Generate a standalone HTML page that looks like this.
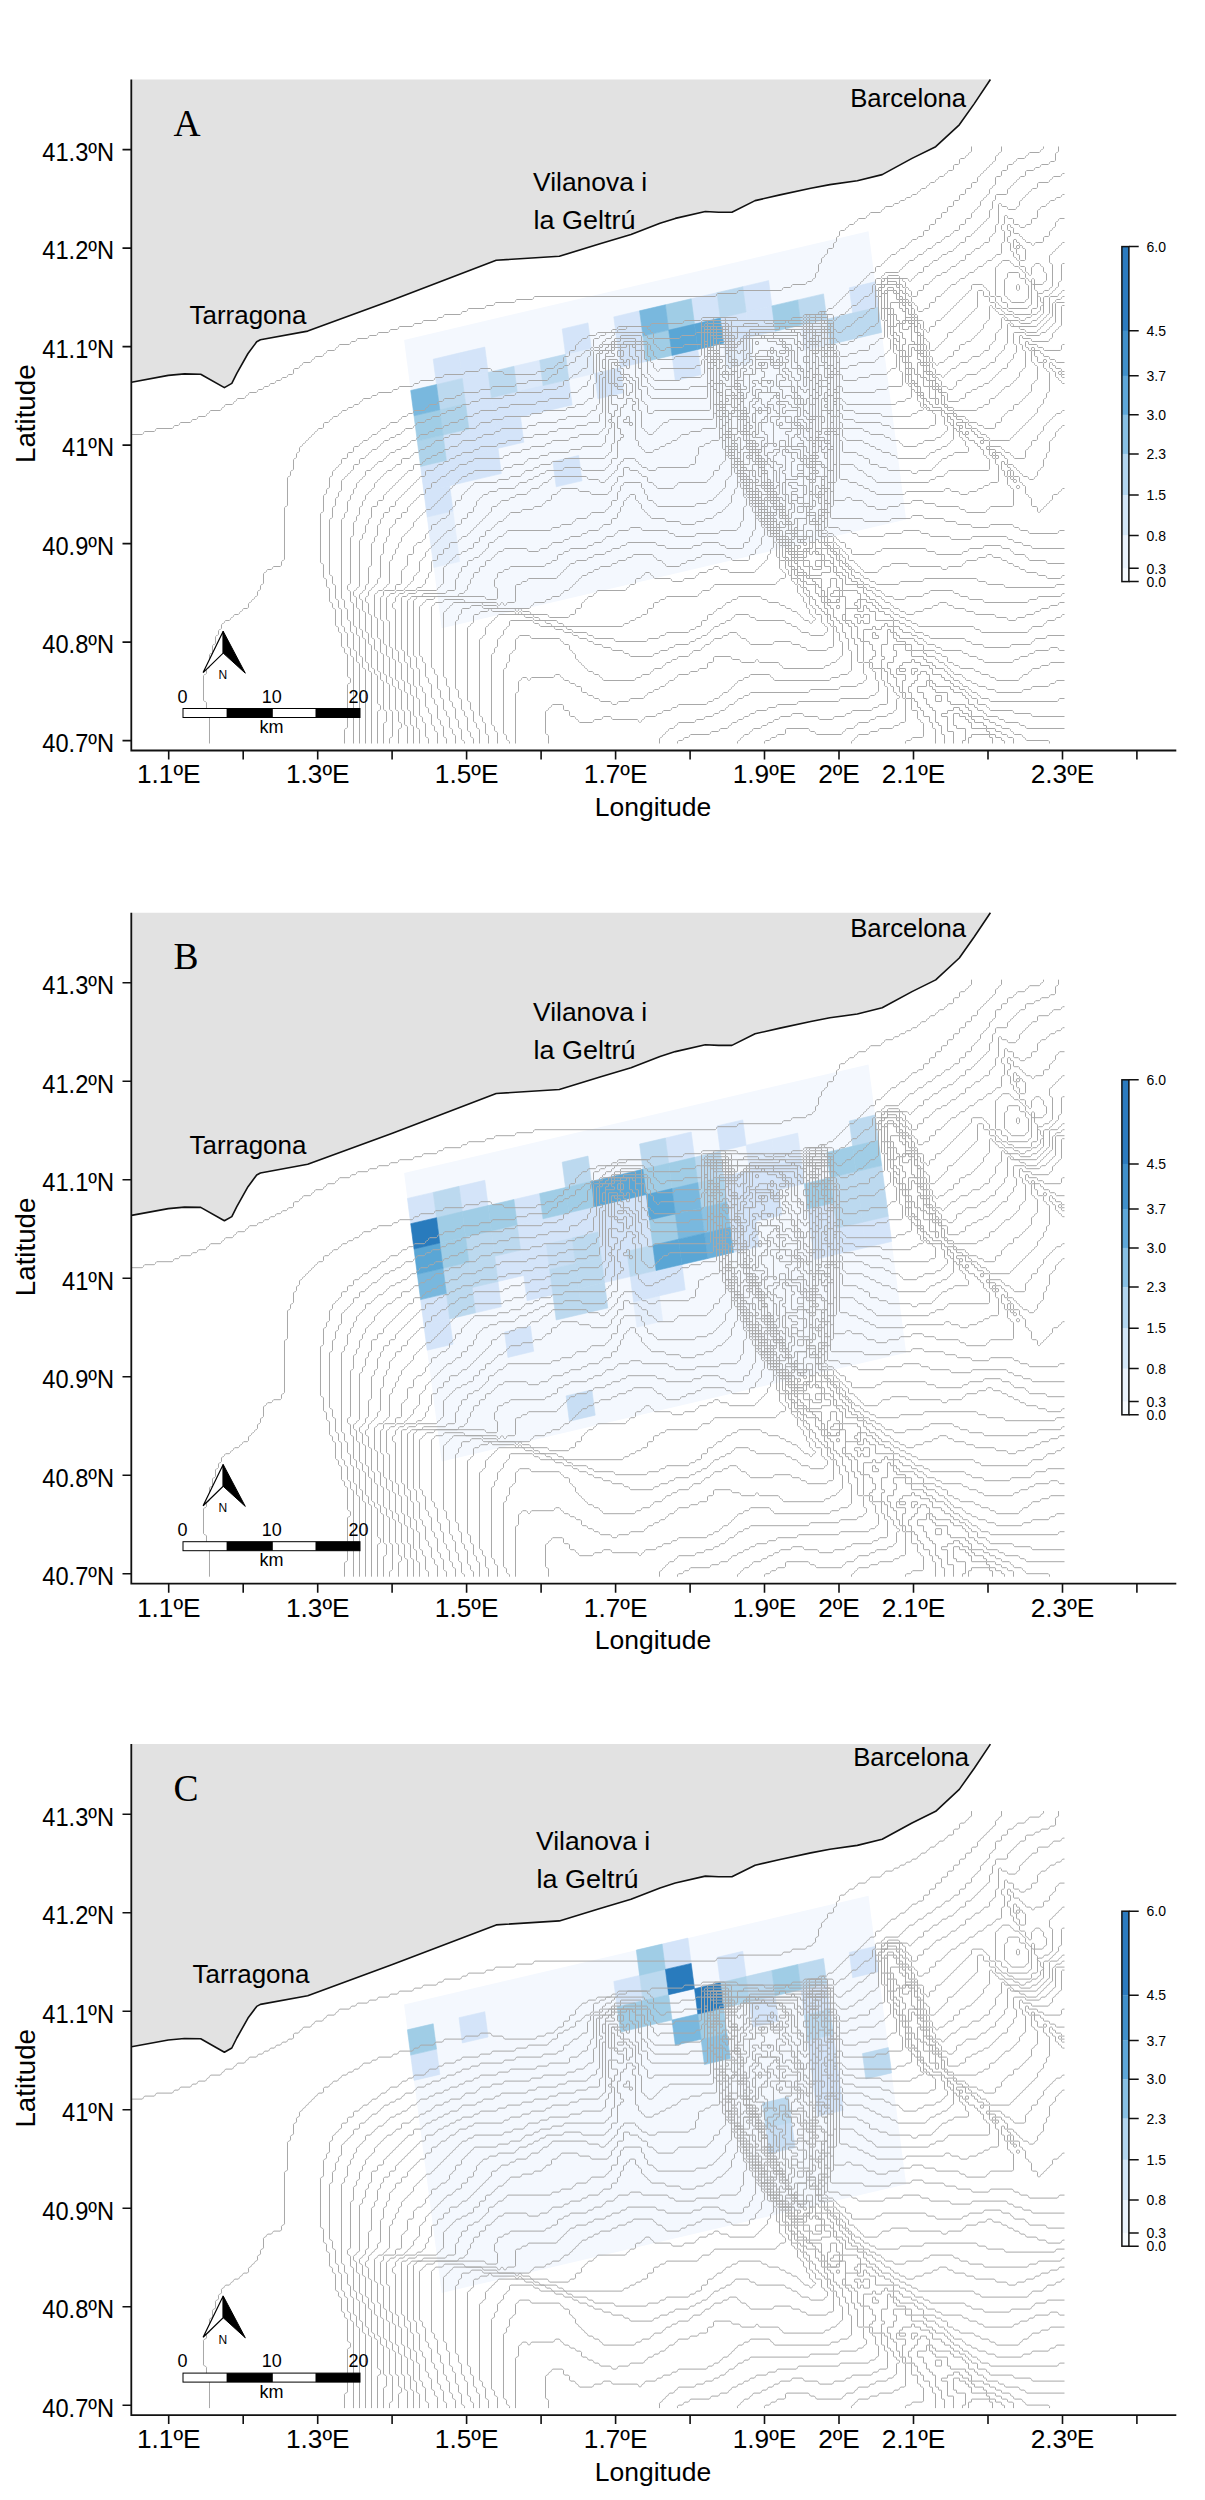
<!DOCTYPE html><html><head><meta charset="utf-8"><title>Map</title><style>
html,body{margin:0;padding:0;background:#fff;}
body{width:1205px;height:2500px;overflow:hidden;}
svg{display:block;}
.tl{font-family:"Liberation Sans", sans-serif;font-size:25px;fill:#000;}
.at{font-family:"Liberation Sans", sans-serif;font-size:26.5px;fill:#000;}
.at2{font-family:"Liberation Sans", sans-serif;font-size:27.7px;fill:#000;}
.pl{font-family:"Liberation Serif", serif;font-size:37.5px;fill:#000;}
.pn{font-family:"Liberation Sans", sans-serif;font-size:25px;fill:#000;}
.lg{font-family:"Liberation Sans", sans-serif;font-size:14px;fill:#000;}
.sb{font-family:"Liberation Sans", sans-serif;font-size:18px;fill:#000;}
.sn{font-family:"Liberation Sans", sans-serif;font-size:12px;fill:#000;}
</style></head><body>
<svg xmlns="http://www.w3.org/2000/svg" width="1205" height="2500" viewBox="0 0 1205 2500">
<rect width="1205" height="2500" fill="#fff"/>
<defs><g id="cont" fill="none" stroke="#a8a8a8" stroke-width="1"><path d="M971.5 146.5l0 4.8 -1.2 1.2 -.6 0 -1.2 1.2 0 .6 -1.2 1.2 -.6 0 -1.2 1.2 0 .6 -1.2 1.2 -3.6 0 -1.2 1.2 0 3.6 -1.2 1.2 -3.6 0 -1.2 1.2 0 3.6 -1.2 1.2 -3.6 0 -1.2 1.2 0 .6 -1.2 1.2 -.6 0 -1.2 1.2 0 .6 -1.2 1.2 -3.6 0 -1.2 1.2 0 .6 -1.2 1.2 -.6 0 -1.2 1.2 0 .6 -1.2 1.2 -3.6 0 -1.2 1.2 0 .6 -1.2 1.2 -.6 0 -1.2 1.2 0 .6 -1.2 1.2 -3.6 0 -1.2 1.2 0 .6 -1.2 1.2 -.6 0 -1.2 1.2 0 .6 -1.2 1.2 -3.6 0 -1.2 1.2 0 .6 -1.2 1.2 -3.6 0 -1.2 1.2 0 .6 -1.2 1.2 -3.6 0 -1.2 1.2 0 .6 -1.2 1.2 -3.6 0 -1.2 1.2 0 .6 -1.2 1.2 -6.6 0 -1.2 1.2 0 .6 -1.2 1.2 -.6 0 -1.2 1.2 0 .6 -1.2 1.2 -9.6 0 -1.2 1.2 0 .6 -1.2 1.2 -.6 0 -1.2 1.2 0 .6 -1.2 1.2 -6.6 0 -1.2 1.2 0 .6 -1.2 1.2 -.6 0 -1.2 1.2 0 .6 -1.2 1.2 -3.6 0 -1.2 1.2 0 .6 -1.2 1.2 -.6 0 -1.2 1.2 0 .6 -1.2 1.2 -3.6 0 -1.2 1.2 0 3.6 -1.2 1.2 -.6 0 -1.2 1.2 0 3.6 -1.2 1.2 -.6 0 -1.2 1.2 0 3.6 -1.2 1.2 -3.6 0 -1.2 1.2 0 3.6 -1.2 1.2 -.6 0 -1.2 1.2 0 .6 -1.2 1.2 -.6 0 -1.2 1.2 0 3.6 -1.2 1.2 -.6 0 -1.2 1.2 0 6.6 -1.2 1.2 -.6 0 -1.2 1.2 0 3.6 -1.2 1.2 -.6 0 -1.2 1.2 0 .6 -1.2 1.2 -3.6 0 -1.2 1.2 0 .6 -1.2 1.2 -12.6 0 -1.2 1.2 0 .6 -1.2 1.2 -6.6 0 -1.2 1.2 0 .6 -1.2 1.2 -42.6 0 -1.2 1.2 0 .6 -1.2 1.2 -18.6 0 -1.2 1.2 0 .6 -1.2 1.2 -180.6 0 -1.2 1.2 0 .6 -1.2 1.2 -15.6 0 -1.2 1.2 0 .6 -1.2 1.2 -18.6 0 -1.2 1.2 0 .6 -1.2 1.2 -6.6 0 -1.2 1.2 0 .6 -1.2 1.2 -15.6 0 -1.2 1.2 0 .6 -1.2 1.2 -3.6 0 -1.2 1.2 0 .6 -1.2 1.2 -15.6 0 -1.2 1.2 0 .6 -1.2 1.2 -3.6 0 -1.2 1.2 0 .6 -1.2 1.2 -12.6 0 -1.2 1.2 0 .6 -1.2 1.2 -6.6 0 -1.2 1.2 0 .6 -1.2 1.2 -12.6 0 -1.2 1.2 0 .6 -1.2 1.2 -6.6 0 -1.2 1.2 0 .6 -1.2 1.2 -9.6 0 -1.2 1.2 0 .6 -1.2 1.2 -6.6 0 -1.2 1.2 0 .6 -1.2 1.2 -9.6 0 -1.2 1.2 0 .6 -1.2 1.2 -3.6 0 -1.2 1.2 0 .6 -1.2 1.2 -9.6 0 -1.2 1.2 0 .6 -1.2 1.2 -.6 0 -1.2 1.2 0 .6 -1.2 1.2 -6.6 0 -1.2 1.2 0 .6 -1.2 1.2 -.6 0 -1.2 1.2 0 .6 -1.2 1.2 -6.6 0 -1.2 1.2 0 .6 -1.2 1.2 -.6 0 -1.2 1.2 0 .6 -1.2 1.2 -6.6 0 -1.2 1.2 0 .6 -1.2 1.2 -.6 0 -1.2 1.2 0 .6 -1.2 1.2 -3.6 0 -1.2 1.2 0 3.6 -1.2 1.2 -3.6 0 -1.2 1.2 0 .6 -1.2 1.2 -3.6 0 -1.2 1.2 0 .6 -1.2 1.2 -3.6 0 -1.2 1.2 0 .6 -1.2 1.2 -3.6 0 -1.2 1.2 0 .6 -1.2 1.2 -3.6 0 -1.2 1.2 0 .6 -1.2 1.2 -3.6 0 -1.2 1.2 0 .6 -1.2 1.2 -6.6 0 -1.2 1.2 0 .6 -1.2 1.2 -.6 0 -1.2 1.2 0 .6 -1.2 1.2 -6.6 0 -1.2 1.2 0 .6 -1.2 1.2 -.6 0 -1.2 1.2 0 .6 -1.2 1.2 -6.6 0 -1.2 1.2 0 .6 -1.2 1.2 -.6 0 -1.2 1.2 0 .6 -1.2 1.2 -9.6 0 -1.2 1.2 0 .6 -1.2 1.2 -.6 0 -1.2 1.2 0 .6 -1.2 1.2 -6.6 0 -1.2 1.2 0 .6 -1.2 1.2 -3.6 0 -1.2 1.2 0 .6 -1.2 1.2 -9.6 0 -1.2 1.2 0 .6 -1.2 1.2 -3.6 0 -1.2 1.2 0 .6 -1.2 1.2 -15.6 0 -1.2 1.2 0 .6 -1.2 1.2 -9.6 0 -1.2 1.2 0 .6 -1.2 1.2 -10.8 0M1001.5 146.5l0 4.8 -1.2 1.2 -.6 0 -1.2 1.2 0 .6 -1.2 1.2 -.6 0 -1.2 1.2 0 3.6 -1.2 1.2 -.6 0 -1.2 1.2 0 .6 -1.2 1.2 -.6 0 -1.2 1.2 0 .6 -1.2 1.2 -.6 0 -1.2 1.2 0 .6 -1.2 1.2 -.6 0 -1.2 1.2 0 .6 -1.2 1.2 -.6 0 -1.2 1.2 0 .6 -1.2 1.2 -.6 0 -1.2 1.2 0 3.6 -1.2 1.2 -3.6 0 -1.2 1.2 0 3.6 -1.2 1.2 -3.6 0 -1.2 1.2 0 3.6 -1.2 1.2 -3.6 0 -1.2 1.2 0 3.6 -1.2 1.2 -3.6 0 -1.2 1.2 0 3.6 -1.2 1.2 -3.6 0 -1.2 1.2 0 3.6 -1.2 1.2 -3.6 0 -1.2 1.2 0 3.6 -1.2 1.2 -3.6 0 -1.2 1.2 0 3.6 -1.2 1.2 -3.6 0 -1.2 1.2 0 3.6 -1.2 1.2 -3.6 0 -1.2 1.2 0 3.6 -1.2 1.2 -3.6 0 -1.2 1.2 0 .6 -1.2 1.2 -3.6 0 -1.2 1.2 0 .6 -1.2 1.2 -.6 0 -1.2 1.2 0 .6 -1.2 1.2 -.6 0 -1.2 1.2 0 .6 -1.2 1.2 -3.6 0 -1.2 1.2 0 .6 -1.2 1.2 -.6 0 -1.2 1.2 0 .6 -1.2 1.2 -3.6 0 -1.2 1.2 0 .6 -1.2 1.2 -.6 0 -1.2 1.2 0 .6 -1.2 1.2 -.6 0 -1.2 1.2 0 .6 -1.2 1.2 -.6 0 -1.2 1.2 0 .6 -1.2 1.2 -3.6 0 -1.2 1.2 0 3.6 -1.2 1.2 -3.6 0 -1.2 1.2 0 .6 -1.2 1.2 -.6 0 -1.2 1.2 0 .6 -1.2 1.2 -.6 0 -1.2 1.2 0 .6 -1.2 1.2 -.6 0 -1.2 1.2 0 .6 -1.2 1.2 -.6 0 -1.2 1.2 0 .6 -1.2 1.2 -.6 0 -1.2 1.2 0 .6 -1.2 1.2 -3.6 0 -1.2 1.2 0 .6 -1.2 1.2 -.6 0 -1.2 1.2 0 .6 -1.2 1.2 -.6 0 -1.2 1.2 0 .6 -1.2 1.2 -.6 0 -1.2 1.2 0 .6 -1.2 1.2 -.6 0 -1.2 1.2 0 .6 -1.2 1.2 -.6 0 -1.2 1.2 0 .6 -1.2 1.2 -3.6 0 -1.2 1.2 0 .7 -1.1 1.1 -6.7 0 -1.2 1.2 0 1 -.8 .8 -13 0 -1.2 1.2 0 .7 -1.1 1.1 -9.7 0 -1.2 1.2 0 .9 -.9 .9 -52.1 0 -1 -1 0 -.8 -1.2 -1.2 -33.6 0 -1.2 1.2 0 .7 -1.1 1.1 -15.7 0 -1.2 1.2 0 .6 -1.2 1.2 -30.6 0 -1.2 1.2 0 .7 -1.1 1.1 -30.7 0 -1.2 1.2 0 .7 -1.1 1.1 -3.7 0 -1.2 1.2 0 .8 -1 1 -12.8 0 -1.2 1.2 0 .7 -1.1 1.1 -6.7 0 -1.2 1.2 0 .6 -1.2 1.2 -3.6 0 -1.2 1.2 0 .6 -1.2 1.2 -.6 0 -1.2 1.2 0 .6 -1.2 1.2 -.6 0 -1.2 1.2 0 3.6 -1.2 1.2 -3.6 0 -1.2 1.2 0 3.6 -1.2 1.2 -3.6 0 -1.2 1.2 0 3.6 -1.2 1.2 -3.6 0 -1.2 1.2 0 .6 -1.2 1.2 -.6 0 -1.2 1.2 0 .6 -1.2 1.2 -6.6 0 -1.2 1.2 0 .6 -1.2 1.2 -6.6 0 -1.2 1.2 0 .6 -1.2 1.2 -30.6 0 -1.2 -1.2 0 -.6 -1.2 -1.2 -9.6 0 -1.2 -1.2 0 -.6 -1.2 -1.2 -9.6 0 -1.2 1.2 0 .6 -1.2 1.2 -12.6 0 -1.2 1.2 0 .6 -1.2 1.2 -18.6 0 -1.2 1.2 0 .6 -1.2 1.2 -6.6 0 -1.2 1.2 0 .6 -1.2 1.2 -12.6 0 -1.2 1.2 0 .6 -1.2 1.2 -3.6 0 -1.2 1.2 0 .6 -1.2 1.2 -12.6 0 -1.2 1.2 0 .6 -1.2 1.2 -3.6 0 -1.2 1.2 0 .6 -1.2 1.2 -12.6 0 -1.2 1.2 0 .6 -1.2 1.2 -3.6 0 -1.2 1.2 0 .6 -1.2 1.2 -6.6 0 -1.2 1.2 0 .6 -1.2 1.2 -.6 0 -1.2 1.2 0 .6 -1.2 1.2 -3.6 0 -1.2 1.2 0 .6 -1.2 1.2 -3.6 0 -1.2 1.2 0 .6 -1.2 1.2 -3.6 0 -1.2 1.2 0 .6 -1.2 1.2 -.6 0 -1.2 1.2 0 .6 -1.2 1.2 -3.6 0 -1.2 1.2 0 .6 -1.2 1.2 -.6 0 -1.2 1.2 0 .6 -1.2 1.2 -3.6 0 -1.2 1.2 0 3.6 -1.2 1.2 -3.6 0 -1.2 1.2 0 .6 -1.2 1.2 -.6 0 -1.2 1.2 0 .6 -1.2 1.2 -.6 0 -1.2 1.2 0 .6 -1.2 1.2 -.6 0 -1.2 1.2 0 .6 -1.2 1.2 -.6 0 -1.2 1.2 0 .6 -1.2 1.2 -.6 0 -1.2 1.2 0 .6 -1.2 1.2 -.6 0 -1.2 1.2 0 3.6 -1.2 1.2 -.6 0 -1.2 1.2 0 3.6 -1.2 1.2 -.6 0 -1.2 1.2 0 9.6 -1.2 1.2 -.6 0 -1.2 1.2 0 3.6 -1.2 1.2 -.6 0 -1.2 1.2 0 27.6 -1.2 1.2 -.6 0 -1.2 1.2 0 51.6 -1.2 1.2 -.6 0 -1.2 1.2 0 3.6 -1.2 1.2 -6.6 0 -1.2 1.2 0 .6 -1.2 1.2 -3.6 0 -1.2 1.2 0 .6 -1.2 1.2 -.6 0 -1.2 1.2 0 9.6 -1.2 1.2 -.6 0 -1.2 1.2 0 3.6 -1.2 1.2 -.6 0 -1.2 1.2 0 3.6 -1.2 1.2 -.6 0 -1.2 1.2 0 .6 -1.2 1.2 -.6 0 -1.2 1.2 0 .6 -1.2 1.2 -.6 0 -1.2 1.2 0 3.6 -1.2 1.2 -3.6 0 -1.2 1.2 0 .6 -1.2 1.2 -.6 0 -1.2 1.2 0 .6 -1.2 1.2 -3.6 0 -1.2 1.2 0 .6 -1.2 1.2 -.6 0 -1.2 1.2 0 .6 -1.2 1.2 -3.6 0 -1.2 1.2 0 .6 -1.2 1.2 -.6 0 -1.2 1.2 0 3.6 -1.2 1.2 -.6 0 -1.2 1.2 0 3.6 -1.2 1.2 -.6 0 -1.2 1.2 0 6.6 -1.2 1.2 -.6 0 -1.2 1.2 0 6.6 -1.2 1.2 -.6 0 -1.2 1.2 0 12.6 -1.2 1.2 -.6 0 -1.2 1.2 0 3.6 -1.2 1.2 -.6 0 -1.2 1.2 0 24.6 1.2 1.2 .6 0 1.2 1.2 0 12.6 1.2 1.2 .6 0 1.2 1.2 0 25.8M1043.5 146.5l0 1.8 -1.2 1.2 -.6 0 -1.2 1.2 0 .6 -1.2 1.2 -9.6 0 -1.2 1.2 0 .6 -1.2 1.2 -.6 0 -1.2 1.2 0 .6 -1.2 1.2 -6.6 0 -1.2 1.2 0 .6 -1.2 1.2 -.6 0 -1.2 1.2 0 .6 -1.2 1.2 -3.6 0 -1.2 1.2 0 3.6 -1.2 1.2 -3.6 0 -1.2 1.2 0 3.6 -1.2 1.2 -3.6 0 -1.2 1.2 0 6.6 -1.2 1.2 -.6 0 -1.2 1.2 0 .6 -1.2 1.2 -.6 0 -1.2 1.2 0 3.6 -1.2 1.2 -.6 0 -1.2 1.2 0 .6 -1.2 1.2 -.6 0 -1.2 1.2 0 .6 -1.2 1.2 -.6 0 -1.2 1.2 0 3.6 -1.2 1.2 -.6 0 -1.2 1.2 0 .6 -1.2 1.2 -.6 0 -1.2 1.2 0 .6 -1.2 1.2 -.6 0 -1.2 1.2 0 3.6 -1.2 1.2 -3.6 0 -1.2 1.2 0 3.6 -1.2 1.2 -3.6 0 -1.2 1.2 0 3.6 -1.2 1.2 -3.6 0 -1.2 1.2 0 .6 -1.2 1.2 -.6 0 -1.2 1.2 0 .6 -1.2 1.2 -3.6 0 -1.2 1.2 0 .6 -1.2 1.2 -.6 0 -1.2 1.2 0 .6 -1.2 1.2 -3.6 0 -1.2 1.2 0 .6 -1.2 1.2 -.6 0 -1.2 1.2 0 .6 -1.2 1.2 -3.6 0 -1.2 1.2 0 .6 -1.2 1.2 -.6 0 -1.2 1.2 0 .6 -1.2 1.2 -3.6 0 -1.2 1.2 0 .6 -1.2 1.2 -.6 0 -1.2 1.2 0 .6 -1.2 1.2 -3.6 0 -1.2 1.2 0 .6 -1.2 1.2 -.6 0 -1.2 1.2 0 .6 -1.2 1.2 -.6 0 -1.2 1.2 0 .6 -1.2 1.2 -.6 0 -1.2 1.2 0 .6 -1.2 1.2 -12.7 0 -1.1 1.1 0 .9 -1 1 -.9 0 -1.1 1.1 0 1 -.9 .9 -3.9 0 -1.2 1.2 0 3.8 -1 1 -.9 0 -1.1 1.1 0 6.8 -1.1 1.1 -.7 0 -1.2 1.2 0 .6 -1.2 1.2 -3.6 0 -1.2 1.2 0 .6 -1.2 1.2 -.6 0 -1.2 1.2 0 .6 -1.2 1.2 -.6 0 -1.2 1.2 0 .6 -1.2 1.2 -3.6 0 -1.2 1.2 0 .6 -1.2 1.2 -.6 0 -1.2 1.2 0 .6 -1.2 1.2 -.6 0 -1.2 1.2 0 .6 -1.2 1.2 -3.6 0 -1.2 1.2 0 .6 -1.2 1.2 -.6 0 -1.2 1.2 0 .6 -1.2 1.2 -.7 0 -1.1 -1.1 0 -3.7 -1.2 -1.2 -7 0 -.8 -.8 0 -1.1 -1.1 -1.1 -.7 0 -1.2 1.2 0 1 -.8 .8 -13 0 -1.2 1.2 0 .9 -.9 .9 -1 0 -1.1 1.1 0 1 -.9 .9 -27.9 0 -1.2 1.2 0 .9 -.9 .9 -7.2 0 -.9 -.9 0 -.9 -1.2 -1.2 -37.1 0 -.7 -.7 0 -1.1 -1.2 -1.2 -9.6 0 -1.2 1.2 0 1.2 -.6 .6 -10.3 0 -1.1 1.1 0 10 -.9 .9 -3.9 0 -1.2 1.2 0 .6 -1.2 1.2 -12.6 0 -1.2 1.2 0 .6 -1.2 1.2 -24.8 0 -1 -1 0 -3.9 -1.1 -1.1 -.9 0 -1 -1 0 -.9 -1.1 -1.1 -.9 0 -1 -1 0 -.9 -1.1 -1.1 -18.7 0 -1.2 1.2 0 .9 -.9 .9 -7 0 -1.1 1.1 0 1 -.9 .9 -10 0 -1.1 1.1 0 1 -.9 .9 -4 0 -1.1 1.1 0 .9 -1 1 -3.9 0 -1.1 1.1 0 7 -.9 .9 -1 0 -1.1 1.1 0 .9 -1 1 -3.8 0 -1.2 1.2 0 .6 -1.2 1.2 -.6 0 -1.2 1.2 0 .6 -1.2 1.2 -3.6 0 -1.2 1.2 0 3.6 -1.2 1.2 -3.6 0 -1.2 1.2 0 .6 -1.2 1.2 -3.6 0 -1.2 1.2 0 .6 -1.2 1.2 -3.6 0 -1.2 1.2 0 3.6 -1.2 1.2 -3.6 0 -1.2 1.2 0 .6 -1.2 1.2 -.6 0 -1.2 1.2 0 .6 -1.2 1.2 -18.6 0 -1.2 1.2 0 .6 -1.2 1.2 -9.6 0 -1.2 1.2 0 .6 -1.2 1.2 -21.6 0 -1.2 1.2 0 .6 -1.2 1.2 -9.6 0 -1.2 1.2 0 .6 -1.2 1.2 -15.6 0 -1.2 1.2 0 .6 -1.2 1.2 -3.6 0 -1.2 1.2 0 .6 -1.2 1.2 -9.6 0 -1.2 1.2 0 .6 -1.2 1.2 -3.6 0 -1.2 1.2 0 .6 -1.2 1.2 -6.6 0 -1.2 1.2 0 .6 -1.2 1.2 -.6 0 -1.2 1.2 0 .6 -1.2 1.2 -9.6 0 -1.2 1.2 0 .6 -1.2 1.2 -3.6 0 -1.2 1.2 0 .6 -1.2 1.2 -3.6 0 -1.2 1.2 0 .6 -1.2 1.2 -.6 0 -1.2 1.2 0 .6 -1.2 1.2 -6.6 0 -1.2 1.2 0 .6 -1.2 1.2 -.6 0 -1.2 1.2 0 .6 -1.2 1.2 -3.6 0 -1.2 1.2 0 .6 -1.2 1.2 -.6 0 -1.2 1.2 0 .6 -1.2 1.2 -3.6 0 -1.2 1.2 0 .6 -1.2 1.2 -.6 0 -1.2 1.2 0 .6 -1.2 1.2 -3.6 0 -1.2 1.2 0 .6 -1.2 1.2 -.6 0 -1.2 1.2 0 .6 -1.2 1.2 -3.6 0 -1.2 1.2 0 3.6 -1.2 1.2 -3.6 0 -1.2 1.2 0 3.6 -1.2 1.2 -3.6 0 -1.2 1.2 0 3.6 -1.2 1.2 -.6 0 -1.2 1.2 0 .6 -1.2 1.2 -.6 0 -1.2 1.2 0 .6 -1.2 1.2 -.6 0 -1.2 1.2 0 3.6 -1.2 1.2 -.6 0 -1.2 1.2 0 9.6 -1.2 1.2 -.6 0 -1.2 1.2 0 3.6 -1.2 1.2 -.6 0 -1.2 1.2 0 15.6 -1.2 1.2 -.6 0 -1.2 1.2 0 48.6 1.2 1.2 .6 0 1.2 1.2 0 12.6 1.2 1.2 .6 0 1.2 1.2 0 6.6 1.2 1.2 .6 0 1.2 1.2 0 12.6 1.2 1.2 .6 0 1.2 1.2 0 3.6 1.2 1.2 .6 0 1.2 1.2 0 15.6 1.2 1.2 .6 0 1.2 1.2 0 3.6 1.2 1.2 .6 0 1.2 1.2 0 12.6 1.2 1.2 .6 0 1.2 1.2 0 3.6 1.2 1.2 .6 0 1.2 1.2 0 21.6 1.2 1.2 .6 0 1.2 1.2 0 3.6 -1.2 1.2 -.6 0 -1.2 1.2 0 42.6 -1.2 1.2 -.6 0 -1.2 1.2 0 13.8M1058.5 146.5l0 4.8 -1.2 1.2 -.6 0 -1.2 1.2 0 6.6 -1.2 1.2 -3.6 0 -1.2 1.2 0 .6 -1.2 1.2 -6.6 0 -1.2 1.2 0 .6 -1.2 1.2 -3.6 0 -1.2 1.2 0 .6 -1.2 1.2 -6.6 0 -1.2 1.2 0 3.6 -1.2 1.2 -3.6 0 -1.2 1.2 0 .6 -1.2 1.2 -.6 0 -1.2 1.2 0 .6 -1.2 1.2 -.6 0 -1.2 1.2 0 .6 -1.2 1.2 -.6 0 -1.2 1.2 0 .6 -1.2 1.2 -.6 0 -1.2 1.2 0 3.6 -1.2 1.2 -9.7 0 -1.1 1.1 0 3.9 -1 1 -.9 0 -1.1 1.1 0 6.8 -1.1 1.1 -.7 0 -1.2 1.2 0 6.6 -1.2 1.2 -.6 0 -1.2 1.2 0 .6 -1.2 1.2 -.6 0 -1.2 1.2 0 .6 -1.2 1.2 -.6 0 -1.2 1.2 0 .6 -1.2 1.2 -.6 0 -1.2 1.2 0 .6 -1.2 1.2 -.6 0 -1.2 1.2 0 .6 -1.2 1.2 -.6 0 -1.2 1.2 0 .6 -1.2 1.2 -3.6 0 -1.2 1.2 0 3.6 -1.2 1.2 -3.6 0 -1.2 1.2 0 .6 -1.2 1.2 -.6 0 -1.2 1.2 0 .6 -1.2 1.2 -.6 0 -1.2 1.2 0 .6 -1.2 1.2 -3.6 0 -1.2 1.2 0 .6 -1.2 1.2 -3.6 0 -1.2 1.2 0 .6 -1.2 1.2 -.6 0 -1.2 1.2 0 .6 -1.2 1.2 -3.6 0 -1.2 1.2 0 .6 -1.2 1.2 -.6 0 -1.2 1.2 0 .6 -1.2 1.2 -3.6 0 -1.2 1.2 0 3.6 -1.2 1.2 -3.6 0 -1.2 1.2 0 .6 -1.2 1.2 -.6 0 -1.2 1.2 0 .6 -1.2 1.2 -.6 0 -1.2 1.2 0 .6 -1.2 1.2 -.6 0 -1.2 -1.2 0 -.6 -1.2 -1.2 -7.1 0 -.7 -.7 0 -1.3 -1 -1 -10.1 0 -.9 .9 0 1.5 -.6 .6 -4.5 0 -.9 .9 0 4.7 -.4 .4 -4.6 0 -1 1 0 21.8 -1.2 1.2 -3.6 0 -1.2 1.2 0 .6 -1.2 1.2 -.6 0 -1.2 1.2 0 .6 -1.2 1.2 -.6 0 -1.2 1.2 0 .6 -1.2 1.2 -3.6 0 -1.2 1.2 0 .6 -1.2 1.2 -.6 0 -1.2 1.2 0 .6 -1.2 1.2 -.6 0 -1.2 1.2 0 .6 -1.2 1.2 -3.6 0 -1.2 1.2 0 .6 -1.2 1.2 -.6 0 -1.2 1.2 0 .6 -1.2 1.2 -3.7 0 -1.1 -1.1 0 -.7 -1.2 -1.2 -1 0 -.8 -.8 0 -7.1 -1.1 -1.1 -4.6 0 -.3 -.3 0 -4.8 -.9 -.9 -15.9 0 -1.2 1.2 0 1.1 -.7 .7 -1.4 0 -.9 .9 0 1.5 -.6 .6 -1.5 0 -.9 .9 0 1.4 -.7 .7 -13.6 0 -.7 -.7 0 -1.3 -1 -1 -1 0 -1 1 0 1.3 -.7 .7 -10.4 0 -.9 .9 0 1.6 -.5 .5 -14.1 0 -.4 -.4 0 -1.8 -.8 -.8 -13.5 0 -.7 .7 0 1.8 -.5 .5 -11 0 -.5 -.5 0 -4.5 -1 -1 -22.1 0 -.9 .9 0 1.6 -.5 .5 -1.7 0 -.8 .8 0 1.6 -.6 .6 -1.5 0 -.9 .9 0 16.1 -1 1 -15.8 0 -1.2 1.2 0 .6 -1.2 1.2 -15.6 0 -1.2 1.2 0 .6 -1.2 1.2 -3.6 0 -1.2 -1.2 0 -.6 -1.2 -1.2 -.7 0 -1.1 -1.1 0 -.8 -1.1 -1.1 -1 0 -.9 -.9 0 -4.1 -1 -1 -4.3 0 -.7 -.7 0 -1.5 -.8 -.8 -1.5 0 -.7 -.7 0 -1.5 -.8 -.8 -28.3 0 -.9 .9 0 1.4 -.7 .7 -1.5 0 -.8 .8 0 1.7 -.5 .5 -4.7 0 -.8 .8 0 1.6 -.6 .6 -1.7 0 -.7 .7 0 1.7 -.6 .6 -1.7 0 -.7 .7 0 1.7 -.6 .6 -4.5 0 -.9 .9 0 1.2 -.9 .9 -1.1 0 -1 1 0 4 -1 1 -.9 0 -1.1 1.1 0 9.7 -1.2 1.2 -3.6 0 -1.2 1.2 0 .6 -1.2 1.2 -.6 0 -1.2 1.2 0 .6 -1.2 1.2 -3.6 0 -1.2 1.2 0 .6 -1.2 1.2 -.6 0 -1.2 1.2 0 .6 -1.2 1.2 -3.6 0 -1.2 1.2 0 3.6 -1.2 1.2 -3.6 0 -1.2 1.2 0 .6 -1.2 1.2 -12.6 0 -1.2 1.2 0 .6 -1.2 1.2 -24.6 0 -1.2 1.2 0 .6 -1.2 1.2 -9.6 0 -1.2 1.2 0 .6 -1.2 1.2 -21.6 0 -1.2 1.2 0 .6 -1.2 1.2 -6.6 0 -1.2 1.2 0 .6 -1.2 1.2 -6.6 0 -1.2 1.2 0 .6 -1.2 1.2 -3.6 0 -1.2 1.2 0 .6 -1.2 1.2 -6.6 0 -1.2 1.2 0 .6 -1.2 1.2 -3.6 0 -1.2 1.2 0 .6 -1.2 1.2 -6.6 0 -1.2 1.2 0 .6 -1.2 1.2 -3.6 0 -1.2 1.2 0 .6 -1.2 1.2 -6.6 0 -1.2 1.2 0 .6 -1.2 1.2 -.6 0 -1.2 1.2 0 .6 -1.2 1.2 -6.6 0 -1.2 1.2 0 .6 -1.2 1.2 -.6 0 -1.2 1.2 0 .6 -1.2 1.2 -3.6 0 -1.2 1.2 0 .6 -1.2 1.2 -3.6 0 -1.2 1.2 0 .6 -1.2 1.2 -3.6 0 -1.2 1.2 0 .6 -1.2 1.2 -.6 0 -1.2 1.2 0 .6 -1.2 1.2 -.6 0 -1.2 1.2 0 .6 -1.2 1.2 -3.6 0 -1.2 1.2 0 .6 -1.2 1.2 -.6 0 -1.2 1.2 0 .6 -1.2 1.2 -.6 0 -1.2 1.2 0 .6 -1.2 1.2 -3.6 0 -1.2 1.2 0 3.6 -1.2 1.2 -3.6 0 -1.2 1.2 0 3.6 -1.2 1.2 -.6 0 -1.2 1.2 0 .6 -1.2 1.2 -.6 0 -1.2 1.2 0 .6 -1.2 1.2 -.6 0 -1.2 1.2 0 .6 -1.2 1.2 -.6 0 -1.2 1.2 0 9.6 -1.2 1.2 -.6 0 -1.2 1.2 0 3.6 -1.2 1.2 -.6 0 -1.2 1.2 0 6.6 -1.2 1.2 -.6 0 -1.2 1.2 0 9.6 -1.2 1.2 -.6 0 -1.2 1.2 0 54.6 1.2 1.2 .6 0 1.2 1.2 0 6.6 1.2 1.2 .6 0 1.2 1.2 0 12.6 1.2 1.2 .6 0 1.2 1.2 0 6.6 1.2 1.2 .6 0 1.2 1.2 0 15.6 1.2 1.2 .6 0 1.2 1.2 0 3.6 1.2 1.2 .6 0 1.2 1.2 0 12.6 1.2 1.2 .6 0 1.2 1.2 0 6.6 1.2 1.2 .6 0 1.2 1.2 0 85.8M1017.7 284.5l-1.2 1.2 0 3.6 1.2 1.2 .6 0 1.2 -1.2 0 -3.6 -1.2 -1.2zM359.5 743.5l0 -79.8 -1.2 -1.2 -.6 0 -1.2 -1.2 0 -9.6 -1.2 -1.2 -.6 0 -1.2 -1.2 0 -15.6 -1.2 -1.2 -.6 0 -1.2 -1.2 0 -9.6 -1.2 -1.2 -.6 0 -1.2 -1.2 0 -9.6 -1.2 -1.2 -.6 0 -1.2 -1.2 0 -6.6 -1.2 -1.2 -.6 0 -1.2 -1.2 0 -78.6 1.2 -1.2 .6 0 1.2 -1.2 0 -3.6 1.2 -1.2 .6 0 1.2 -1.2 0 -9.6 1.2 -1.2 .6 0 1.2 -1.2 0 -3.6 1.2 -1.2 .6 0 1.2 -1.2 0 -3.6 1.2 -1.2 .6 0 1.2 -1.2 0 -3.6 1.2 -1.2 .6 0 1.2 -1.2 0 -.6 1.2 -1.2 .6 0 1.2 -1.2 0 -.6 1.2 -1.2 .6 0 1.2 -1.2 0 -3.6 1.2 -1.2 3.6 0 1.2 -1.2 0 -.6 1.2 -1.2 .6 0 1.2 -1.2 0 -.6 1.2 -1.2 .6 0 1.2 -1.2 0 -.6 1.2 -1.2 3.6 0 1.2 -1.2 0 -.6 1.2 -1.2 .6 0 1.2 -1.2 0 -.6 1.2 -1.2 .6 0 1.2 -1.2 0 -.6 1.2 -1.2 3.6 0 1.2 -1.2 0 -.6 1.2 -1.2 3.6 0 1.2 -1.2 0 -.6 1.2 -1.2 3.6 0 1.2 -1.2 0 -.6 1.2 -1.2 .6 0 1.2 -1.2 0 -.6 1.2 -1.2 3.6 0 1.2 -1.2 0 -.6 1.2 -1.2 .6 0 1.2 -1.2 0 -.6 1.2 -1.2 6.6 0 1.2 -1.2 0 -.6 1.2 -1.2 3.6 0 1.2 -1.2 0 -.6 1.2 -1.2 6.6 0 1.2 -1.2 0 -.6 1.2 -1.2 3.6 0 1.2 -1.2 0 -.6 1.2 -1.2 6.6 0 1.2 -1.2 0 -.6 1.2 -1.2 3.6 0 1.2 -1.2 0 -.6 1.2 -1.2 6.6 0 1.2 -1.2 0 -.6 1.2 -1.2 3.6 0 1.2 -1.2 0 -.6 1.2 -1.2 15.6 0 1.2 -1.2 0 -.6 1.2 -1.2 9.6 0 1.2 -1.2 0 -.6 1.2 -1.2 24.6 0 1.2 -1.2 0 -.6 1.2 -1.2 9.6 0 1.2 -1.2 0 -.6 1.2 -1.2 18.6 0 1.2 -1.2 0 -3.6 1.2 -1.2 6.6 0 1.2 -1.2 0 -.6 1.2 -1.2 .6 0 1.2 -1.2 0 -.6 1.2 -1.2 3.6 0 1.2 -1.2 0 -3.6 1.2 -1.2 .6 0 1.2 -1.2 0 -3.7 1.1 -1.1 .9 0 1 -1 0 -22.1 .9 -.9 4.6 0 .5 -.5 0 -1.9 .6 -.6 2 0 .4 -.4 0 -2 .6 -.6 8.1 0 .3 -.3 0 -2.4 .3 -.3 2.4 0 .3 -.3 0 -2.3 .4 -.4 5.3 0 .3 -.3 0 -2.2 .5 -.5 19.9 0 .6 .6 0 5.1 .3 .3 5.1 0 .6 .6 0 1.8 .6 .6 1.6 0 .8 .8 0 4.4 .8 .8 1.2 0 1 1 0 4 1 1 .9 0 1.1 1.1 0 .8 1.1 1.1 15.7 0 1.2 -1.2 0 -.6 1.2 -1.2 24.6 0 1.2 -1.2 0 -21.9 .9 -.9 1.8 0 .3 -.3 0 -5.1 .6 -.6 2.1 0 .3 -.3 0 -2.2 .5 -.5 5.2 0 .3 -.3 0 -2.1 .6 -.6 10.7 0 .7 .7 0 2 .3 .3 2.2 0 .5 .5 0 2.2 .3 .3 2.2 0 .5 .5 0 5.2 .3 .3 5.4 0 .3 -.3 0 -5.1 .6 -.6 64.9 0 .5 -.5 0 -1.8 .7 -.7 2 0 .3 -.3 0 -2.1 .6 -.6 2.1 0 .3 -.3 0 -2 .7 -.7 5 0 .3 -.3 0 -1.9 .8 -.8 4.4 0 .8 .8 0 1.9 .3 .3 5.1 0 .6 .6 0 5.1 .3 .3 4.7 0 1 1 0 13.5 .5 .5 1.4 0 1.1 1.1 0 .9 1 1 .8 0 1.2 1.2 0 .6 1.2 1.2 6.6 0 1.2 -1.2 0 -.6 1.2 -1.2 3.6 0 1.2 -1.2 0 -.6 1.2 -1.2 .6 0 1.2 -1.2 0 -.6 1.2 -1.2 3.6 0 1.2 -1.2 0 -.6 1.2 -1.2 .6 0 1.2 -1.2 0 -.6 1.2 -1.2 .6 0 1.2 -1.2 0 -.6 1.2 -1.2 3.6 0 1.2 -1.2 0 -.6 1.2 -1.2 .6 0 1.2 -1.2 0 -25.3 -.5 -.5 -1.7 0 -.8 -.8 0 -4.4 .8 -.8 1.8 0 .4 -.4 0 -2.1 .5 -.5 2.2 0 .3 -.3 0 -5.1 .6 -.6 2 0 .4 -.4 0 -1.9 .7 -.7 16.4 0 .9 .9 0 1.3 .8 .8 1.2 0 1 1 0 4.2 .8 .8 1.2 0 1 1 0 1 1 1 .8 0 1.2 1.2 0 3.8 1 1 3.8 0 1.2 -1.2 0 -3.6 1.2 -1.2 3.6 0 1.2 -1.2 0 -3.6 1.2 -1.2 3.6 0 1.2 -1.2 0 -.6 1.2 -1.2 .6 0 1.2 -1.2 0 -.6 1.2 -1.2 .6 0 1.2 -1.2 0 -.6 1.2 -1.2 3.6 0 1.2 -1.2 0 -.6 1.2 -1.2 3.6 0 1.2 -1.2 0 -.6 1.2 -1.2 .6 0 1.2 -1.2 0 -.6 1.2 -1.2 3.6 0 1.2 -1.2 0 -.6 1.2 -1.2 .6 0 1.2 -1.2 0 -.6 1.2 -1.2 3.6 0 1.2 -1.2 0 -3.6 1.2 -1.2 3.6 0 1.2 -1.2 0 -.6 1.2 -1.2 .6 0 1.2 -1.2 0 -.6 1.2 -1.2 3.6 0 1.2 -1.2 0 -.6 1.2 -1.2 .6 0 1.2 -1.2 0 -.6 1.2 -1.2 3.6 0 1.2 -1.2 0 -3.6 1.2 -1.2 .6 0 1.2 -1.2 0 -.6 1.2 -1.2 .6 0 1.2 -1.2 0 -6.7 1.1 -1.1 .8 0 1.1 -1.1 0 -19 .9 -.9 1.2 0 .9 .9 0 1.3 .8 .8 4.1 0 1.1 1.1 0 .9 1 1 6.8 0 1.2 -1.2 0 -.6 1.2 -1.2 .6 0 1.2 -1.2 0 -3.6 1.2 -1.2 .6 0 1.2 -1.2 0 -.6 1.2 -1.2 .6 0 1.2 -1.2 0 -.6 1.2 -1.2 .6 0 1.2 -1.2 0 -.6 1.2 -1.2 .6 0 1.2 -1.2 0 -.6 1.2 -1.2 3.6 0 1.2 -1.2 0 -3.6 1.2 -1.2 9.6 0 1.2 -1.2 0 -.6 1.2 -1.2 .6 0 1.2 -1.2 0 -.6 1.2 -1.2 6.6 0 1.2 -1.2 0 -.6 1.2 -1.2 1.8 0M1008.7 272.5l-1.2 1.2 0 3.6 -1.2 1.2 -.6 0 -1.2 1.2 0 15.6 1.2 1.2 .6 0 1.2 1.2 0 .6 1.2 1.2 .6 0 1.2 1.2 0 .6 1.2 1.2 12.6 0 1.2 -1.2 0 -.6 1.2 -1.2 .6 0 1.2 -1.2 0 -12.6 -1.2 -1.2 -.6 0 -1.2 -1.2 0 -3.6 -1.2 -1.2 -3.6 0 -1.2 -1.2 0 -3.6 -1.2 -1.2zM365.5 743.5l0 -73.8 -1.2 -1.2 -.6 0 -1.2 -1.2 0 -9.6 -1.2 -1.2 -.6 0 -1.2 -1.2 0 -18.6 -1.2 -1.2 -.6 0 -1.2 -1.2 0 -6.6 -1.2 -1.2 -.6 0 -1.2 -1.2 0 -21.6 -1.2 -1.2 -.6 0 -1.2 -1.2 0 -9.6 -1.2 -1.2 -.6 0 -1.2 -1.2 0 -3.6 1.2 -1.2 .6 0 1.2 -1.2 0 -45.6 1.2 -1.2 .6 0 1.2 -1.2 0 -12.6 1.2 -1.2 .6 0 1.2 -1.2 0 -3.6 1.2 -1.2 .6 0 1.2 -1.2 0 -6.6 1.2 -1.2 .6 0 1.2 -1.2 0 -3.6 1.2 -1.2 .6 0 1.2 -1.2 0 -3.6 1.2 -1.2 .6 0 1.2 -1.2 0 -.6 1.2 -1.2 .6 0 1.2 -1.2 0 -.6 1.2 -1.2 .6 0 1.2 -1.2 0 -3.6 1.2 -1.2 .6 0 1.2 -1.2 0 -.6 1.2 -1.2 .6 0 1.2 -1.2 0 -.6 1.2 -1.2 .6 0 1.2 -1.2 0 -.6 1.2 -1.2 .6 0 1.2 -1.2 0 -.6 1.2 -1.2 3.6 0 1.2 -1.2 0 -.6 1.2 -1.2 .6 0 1.2 -1.2 0 -.6 1.2 -1.2 3.6 0 1.2 -1.2 0 -3.6 1.2 -1.2 6.6 0 1.2 -1.2 0 -.6 1.2 -1.2 .6 0 1.2 -1.2 0 -.6 1.2 -1.2 3.6 0 1.2 -1.2 0 -.6 1.2 -1.2 3.6 0 1.2 -1.2 0 -.6 1.2 -1.2 3.6 0 1.2 -1.2 0 -.6 1.2 -1.2 .6 0 1.2 -1.2 0 -.6 1.2 -1.2 6.6 0 1.2 -1.2 0 -.6 1.2 -1.2 3.6 0 1.2 -1.2 0 -.6 1.2 -1.2 9.6 0 1.2 -1.2 0 -.6 1.2 -1.2 .6 0 1.2 -1.2 0 -.6 1.2 -1.2 9.6 0 1.2 -1.2 0 -.6 1.2 -1.2 .6 0 1.2 -1.2 0 -.6 1.2 -1.2 9.6 0 1.2 -1.2 0 -.6 1.2 -1.2 9.6 0 1.2 -1.2 0 -.6 1.2 -1.2 24.6 0 1.2 -1.2 0 -.6 1.2 -1.2 9.6 0 1.2 -1.2 0 -.6 1.2 -1.2 21.6 0 1.2 -1.2 0 -.6 1.2 -1.2 6.6 0 1.2 -1.2 0 -.6 1.2 -1.2 6.6 0 1.2 -1.2 0 -.6 1.2 -1.2 .6 0 1.2 -1.2 0 -.6 1.2 -1.2 3.6 0 1.2 -1.2 0 -12.7 1.1 -1.1 1 0 .9 -.9 0 -28.5 .6 -.6 2 0 .4 -.4 0 -2.1 .5 -.5 5.2 0 .3 -.3 0 -2.4 .3 -.3 2.4 0 .3 -.3 0 -2.4 .3 -.3 5.4 0 .3 -.3 0 -2.4 .3 -.3 5.4 0 .3 -.3 0 -2.4 .3 -.3 14.4 0 .3 .3 0 2.4 .3 .3 5.4 0 .3 .3 0 2.4 .3 .3 5.1 0 .6 .6 0 10.8 .6 .6 1.6 0 .8 .8 0 4.4 .8 .8 1.2 0 1 1 0 3.9 1.1 1.1 .7 0 1.2 1.2 0 .6 1.2 1.2 .6 0 1.2 -1.2 0 -.6 1.2 -1.2 33.6 0 1.2 -1.2 0 -.6 1.2 -1.2 3.6 0 1.2 -1.2 0 -3.6 1.2 -1.2 .9 0 .9 -.9 0 -28.7 .4 -.4 2.3 0 .3 -.3 0 -2.4 .3 -.3 5.4 0 .3 -.3 0 -2.4 .3 -.3 11.4 0 .3 .3 0 2.4 .3 .3 5.2 0 .5 .5 0 5.2 .3 .3 17.4 0 .3 -.3 0 -2.4 .3 -.3 29.4 0 .3 -.3 0 -2.3 .4 -.4 5.2 0 .4 .4 0 2.3 .3 .3 17.3 0 .4 -.4 0 -2.1 .5 -.5 2.2 0 .3 -.3 0 -2.4 .3 -.3 2.4 0 .3 -.3 0 -2.4 .3 -.3 5.4 0 .3 -.3 0 -2.4 .3 -.3 5.4 0 .3 .3 0 2.4 .3 .3 5.4 0 .3 .3 0 2.4 .3 .3 2.2 0 .5 .5 0 2.2 .3 .3 1.8 0 .9 .9 0 16.8 .3 .3 1.7 0 1 1 0 4.2 .8 .8 1 0 1.2 1.2 0 3.7 1.1 1.1 6.7 0 1.2 -1.2 0 -.6 1.2 -1.2 6.6 0 1.2 -1.2 0 -.6 1.2 -1.2 9.6 0 1.2 -1.2 0 -3.6 1.2 -1.2 3.6 0 1.2 -1.2 0 -.6 1.2 -1.2 .6 0 1.2 -1.2 0 -.6 1.2 -1.2 3.6 0 1.2 -1.2 0 -16 -.8 -.8 -1.1 0 -1.1 -1.1 0 -22.6 -.3 -.3 -2.2 0 -.5 -.5 0 -5.1 .4 -.4 2.3 0 .3 -.3 0 -5.3 .4 -.4 5.3 0 .3 -.3 0 -5.1 .6 -.6 10.7 0 .7 .7 0 5 .3 .3 2.1 0 .6 .6 0 2 .4 .4 1.8 0 .8 .8 0 4.7 .5 .5 1.7 0 .8 .8 0 1.5 .7 .7 1.3 0 1 1 0 4.2 .8 .8 1.1 0 1.1 1.1 0 .9 1 1 .8 0 1.2 1.2 0 3.8 1 1 3.8 0 1.2 -1.2 0 -.6 1.2 -1.2 3.6 0 1.2 -1.2 0 -3.6 1.2 -1.2 3.6 0 1.2 -1.2 0 -3.6 1.2 -1.2 3.6 0 1.2 -1.2 0 -.6 1.2 -1.2 .6 0 1.2 -1.2 0 -.6 1.2 -1.2 .6 0 1.2 -1.2 0 -.6 1.2 -1.2 .6 0 1.2 -1.2 0 -.6 1.2 -1.2 3.6 0 1.2 -1.2 0 -.6 1.2 -1.2 .6 0 1.2 -1.2 0 -.6 1.2 -1.2 3.6 0 1.2 -1.2 0 -.6 1.2 -1.2 .6 0 1.2 -1.2 0 -.6 1.2 -1.2 3.6 0 1.2 -1.2 0 -.6 1.2 -1.2 .6 0 1.2 -1.2 0 -.6 1.2 -1.2 3.6 0 1.2 -1.2 0 -.6 1.2 -1.2 .6 0 1.2 -1.2 0 -.6 1.2 -1.2 3.6 0 1.2 -1.2 0 -.6 1.2 -1.2 .6 0 1.2 -1.2 0 -.6 1.2 -1.2 3.6 0 1.2 -1.2 0 -9.7 1.1 -1.1 .9 0 1 -1 0 -10.1 -.9 -.9 -1.1 0 -1 -1 0 -4 1 -1 1.2 0 .8 -.8 0 -7.5 .7 -.7 1.4 0 .9 .9 0 1.3 .8 .8 4.2 0 1 1 0 4.1 .9 .9 4 0 1.1 1.1 0 .8 1.1 1.1 3.7 0 1.2 -1.2 0 -.6 1.2 -1.2 3.6 0 1.2 -1.2 0 -3.6 1.2 -1.2 3.6 0 1.2 -1.2 0 -6.6 1.2 -1.2 .6 0 1.2 -1.2 0 -.6 1.2 -1.2 3.6 0 1.2 -1.2 0 -.6 1.2 -1.2 .6 0 1.2 -1.2 0 -.6 1.2 -1.2 3.6 0 1.2 -1.2 0 -.6 1.2 -1.2 3.6 0 1.2 -1.2 0 -.6 1.2 -1.2 1.8 0M1002.7 260.5l-1.2 1.2 0 .6 -1.2 1.2 -.6 0 -1.2 1.2 0 .6 -1.2 1.2 -.6 0 -1.2 1.2 0 27.6 1.2 1.2 3.6 0 1.2 1.2 0 3.6 1.2 1.2 3.6 0 1.2 1.2 0 3.6 1.2 1.2 18.6 0 1.2 -1.2 0 -.6 1.2 -1.2 .6 0 1.2 -1.2 0 -21.6 -1.2 -1.2 -.6 0 -1.2 -1.2 0 -.6 -1.2 -1.2 -.6 0 -1.2 -1.2 0 -3.6 -1.2 -1.2 -.6 0 -1.2 -1.2 0 -.6 -1.2 -1.2 -.6 0 -1.2 -1.2 0 -.6 -1.2 -1.2 -3.6 0 -1.2 -1.2 0 -.6 -1.2 -1.2 -.6 0 -1.2 -1.2 0 -.6 -1.2 -1.2zM371.5 743.5l0 -70.8 -1.2 -1.2 -.6 0 -1.2 -1.2 0 -6.6 -1.2 -1.2 -.6 0 -1.2 -1.2 0 -21.6 -1.2 -1.2 -.6 0 -1.2 -1.2 0 -6.6 -1.2 -1.2 -.6 0 -1.2 -1.2 0 -18.6 -1.2 -1.2 -.6 0 -1.2 -1.2 0 -9.6 -1.2 -1.2 -.6 0 -1.2 -1.2 0 -3.6 1.2 -1.2 .6 0 1.2 -1.2 0 -.6 1.2 -1.2 .6 0 1.2 -1.2 0 -45.6 1.2 -1.2 .6 0 1.2 -1.2 0 -3.6 1.2 -1.2 .6 0 1.2 -1.2 0 -6.6 1.2 -1.2 .6 0 1.2 -1.2 0 -3.6 1.2 -1.2 .6 0 1.2 -1.2 0 -9.6 1.2 -1.2 3.6 0 1.2 -1.2 0 -3.6 1.2 -1.2 3.6 0 1.2 -1.2 0 -3.6 1.2 -1.2 .6 0 1.2 -1.2 0 -.6 1.2 -1.2 .6 0 1.2 -1.2 0 -.6 1.2 -1.2 .6 0 1.2 -1.2 0 -.6 1.2 -1.2 .6 0 1.2 -1.2 0 -.6 1.2 -1.2 .6 0 1.2 -1.2 0 -.6 1.2 -1.2 .6 0 1.2 -1.2 0 -.6 1.2 -1.2 .6 0 1.2 -1.2 0 -.6 1.2 -1.2 .6 0 1.2 -1.2 0 -.6 1.2 -1.2 3.6 0 1.2 -1.2 0 -3.6 1.2 -1.2 6.6 0 1.2 -1.2 0 -.6 1.2 -1.2 .6 0 1.2 -1.2 0 -.6 1.2 -1.2 3.6 0 1.2 -1.2 0 -.6 1.2 -1.2 3.6 0 1.2 -1.2 0 -.6 1.2 -1.2 3.6 0 1.2 -1.2 0 -.6 1.2 -1.2 3.6 0 1.2 -1.2 0 -.6 1.2 -1.2 6.6 0 1.2 -1.2 0 -.6 1.2 -1.2 .6 0 1.2 -1.2 0 -.6 1.2 -1.2 12.6 0 1.2 -1.2 0 -.6 1.2 -1.2 3.6 0 1.2 -1.2 0 -.6 1.2 -1.2 9.6 0 1.2 -1.2 0 -.6 1.2 -1.2 3.6 0 1.2 -1.2 0 -.6 1.2 -1.2 24.6 0 1.2 -1.2 0 -.6 1.2 -1.2 6.6 0 1.2 -1.2 0 -.6 1.2 -1.2 18.6 0 1.2 -1.2 0 -.6 1.2 -1.2 6.6 0 1.2 -1.2 0 -.6 1.2 -1.2 18.6 0 1.2 -1.2 0 -.6 1.2 -1.2 .6 0 1.2 -1.2 0 -.6 1.2 -1.2 3.6 0 1.2 -1.2 0 -3.7 1.1 -1.1 .9 0 1 -1 0 -28.4 .6 -.6 2.1 0 .3 -.3 0 -2.4 -.3 -.3 -2.2 0 -.5 -.5 0 -17.1 .4 -.4 2.3 0 .3 -.3 0 -2.4 .3 -.3 8.4 0 .3 -.3 0 -5.4 .3 -.3 11.4 0 .3 -.3 0 -2.4 .3 -.3 11.4 0 .3 .3 0 2.4 .3 .3 5.4 0 .3 .3 0 5.4 .3 .3 2.3 0 .4 .4 0 8.2 .4 .4 2 0 .6 .6 0 13.6 .8 .8 1.2 0 1 1 0 1 1 1 .9 0 1.1 1.1 0 .8 1.1 1.1 24.7 0 1.2 -1.2 0 -.6 1.2 -1.2 18.6 0 1.2 -1.2 0 -.6 1.2 -1.2 .7 0 1.1 -1.1 0 -13 .9 -.9 1.8 0 .3 -.3 0 -2.4 -.3 -.3 -1.9 0 -.8 -.8 0 -10.8 .4 -.4 2.3 0 .3 -.3 0 -2.4 -.3 -.3 -2.4 0 -.3 -.3 0 -8.4 .3 -.3 2.4 0 .3 -.3 0 -5.4 .3 -.3 20.4 0 .3 .3 0 5.4 .3 .3 2.4 0 .3 .3 0 2.4 .3 .3 2.4 0 .3 .3 0 2.4 .3 .3 2.4 0 .3 -.3 0 -5.4 .3 -.3 53.4 0 .3 -.3 0 -2.4 .3 -.3 2.4 0 .3 .3 0 2.4 .3 .3 5.4 0 .3 .3 0 2.4 .3 .3 2.4 0 .3 -.3 0 -5.3 .4 -.4 2.3 0 .3 -.3 0 -2.4 .3 -.3 2.4 0 .3 -.3 0 -5.4 .3 -.3 14.4 0 .3 .3 0 2.4 .3 .3 2.4 0 .3 .3 0 2.4 .3 .3 2.4 0 .3 .3 0 5.4 .3 .3 2 0 .7 .7 0 17 .3 .3 1.9 0 .8 .8 0 4.5 .7 .7 1.2 0 1.1 1.1 0 10 .9 .9 6.9 0 1.2 -1.2 0 -.6 1.2 -1.2 6.6 0 1.2 -1.2 0 -.6 1.2 -1.2 15.6 0 1.2 -1.2 0 -.6 1.2 -1.2 .6 0 1.2 -1.2 0 -.6 1.2 -1.2 3.6 0 1.2 -1.2 0 -.6 1.2 -1.2 .6 0 1.2 -1.2 0 -.6 1.2 -1.2 .6 0 1.2 -1.2 0 -9.9 -.9 -.9 -1 0 -1.1 -1.1 0 -16.5 -.4 -.4 -1.8 0 -.8 -.8 0 -10.9 -.3 -.3 -2 0 -.7 -.7 0 -22.9 .4 -.4 5.3 0 .3 -.3 0 -2.4 .3 -.3 8.4 0 .3 .3 0 2.4 .3 .3 2.4 0 .3 .3 0 5.4 .3 .3 2.4 0 .3 .3 0 2.4 .3 .3 2.2 0 .5 .5 0 5.2 .3 .3 2.1 0 .6 .6 0 2 .4 .4 1.8 0 .8 .8 0 4.7 .5 .5 1.6 0 .9 .9 0 4.5 .6 .6 1.5 0 .9 .9 0 4.4 .7 .7 4.1 0 1.2 1.2 0 6.8 1 1 .8 0 1.2 1.2 0 .7 1.1 1.1 .7 0 1.2 -1.2 0 -3.6 1.2 -1.2 3.6 0 1.2 -1.2 0 -3.6 1.2 -1.2 3.6 0 1.2 -1.2 0 -.6 1.2 -1.2 .6 0 1.2 -1.2 0 -.6 1.2 -1.2 .6 0 1.2 -1.2 0 -.6 1.2 -1.2 .6 0 1.2 -1.2 0 -.6 1.2 -1.2 .6 0 1.2 -1.2 0 -.6 1.2 -1.2 .6 0 1.2 -1.2 0 -.6 1.2 -1.2 .6 0 1.2 -1.2 0 -.6 1.2 -1.2 .6 0 1.2 -1.2 0 -.6 1.2 -1.2 .6 0 1.2 -1.2 0 -.6 1.2 -1.2 .6 0 1.2 -1.2 0 -.6 1.2 -1.2 .7 0 1.1 -1.1 0 -3.7 1.2 -1.2 9.6 0 1.2 1.2 0 .6 1.2 1.2 .6 0 1.2 1.2 0 .6 1.2 1.2 .6 0 1.2 1.2 0 3.6 1.2 1.2 3.6 0 1.2 1.2 0 3.6 1.2 1.2 .6 0 1.2 1.2 0 .6 1.2 1.2 .6 0 1.2 1.2 0 .6 1.2 1.2 3.6 0 1.2 1.2 0 .6 1.2 1.2 3.6 0 1.2 1.2 0 .6 1.2 1.2 15.6 0 1.2 -1.2 0 -3.6 1.2 -1.2 3.6 0 1.2 -1.2 0 -15.6 -1.2 -1.2 -.6 0 -1.2 -1.2 0 -9.6 -1.2 -1.2 -.6 0 -1.2 1.2 0 3.6 1.2 1.2 9.6 0 1.2 -1.2 0 -.6 1.2 -1.2 .6 0 1.2 -1.2 0 -6.6 -1.2 -1.2 -.6 0 -1.2 -1.2 0 -3.6 -1.2 -1.2 -.6 0 -1.2 -1.2 0 -.6 -1.2 -1.2 -3.6 0 -1.2 1.2 0 .6 -1.2 1.2 -.6 0 -1.2 1.2 0 6.6 -1.2 1.2 -.6 0 -1.2 -1.2 0 -.6 -1.2 -1.2 -.6 0 -1.2 -1.2 0 -3.7 -1.1 -1.1 -3.7 0 -1.2 -1.2 0 -3.7 -1.1 -1.1 -.7 0 -1.2 -1.2 0 -.8 -1 -1 -.8 0 -1.2 -1.2 0 -3.9 -.9 -.9 -1.1 0 -1 -1 0 -7.2 -.8 -.8 -1.3 0 -.9 -.9 0 -4.3 .8 -.8 1.6 0 .6 -.6 0 -4.9 -.5 -.5 -1.8 0 -.7 -.7 0 -4.7 .6 -.6 1.7 0 .7 .7 0 1.7 .6 .6 1.6 0 .8 .8 0 4.6 .6 .6 4.5 0 .9 .9 0 1.2 .9 .9 1.1 0 1 1 0 1.1 .9 .9 1 0 1.1 1.1 0 .9 1 1 3.8 0 1.2 1.2 0 .7 1.1 1.1 .7 0 1.2 -1.2 0 -.6 1.2 -1.2 6.6 0 1.2 -1.2 0 -3.6 1.2 -1.2 3.6 0 1.2 -1.2 0 -3.6 1.2 -1.2 .6 0 1.2 -1.2 0 -.6 1.2 -1.2 .6 0 1.2 -1.2 0 -3.6 1.2 -1.2 .6 0 1.2 -1.2 0 -.6 1.2 -1.2 4.8 0M377.5 743.5l0 -31.8 1.2 -1.2 .6 0 1.2 -1.2 0 -3.6 -1.2 -1.2 -.6 0 -1.2 -1.2 0 -27.6 -1.2 -1.2 -.6 0 -1.2 -1.2 0 -3.6 -1.2 -1.2 -.6 0 -1.2 -1.2 0 -21.6 -1.2 -1.2 -.6 0 -1.2 -1.2 0 -9.6 -1.2 -1.2 -.6 0 -1.2 -1.2 0 -18.6 -1.2 -1.2 -.6 0 -1.2 -1.2 0 -9.6 -1.2 -1.2 -.6 0 -1.2 -1.2 0 -3.6 1.2 -1.2 .6 0 1.2 -1.2 0 -.6 1.2 -1.2 .6 0 1.2 -1.2 0 -3.6 1.2 -1.2 .6 0 1.2 -1.2 0 -15.6 1.2 -1.2 .6 0 1.2 -1.2 0 -21.6 1.2 -1.2 .6 0 1.2 -1.2 0 -3.6 1.2 -1.2 .6 0 1.2 -1.2 0 -9.6 1.2 -1.2 .6 0 1.2 -1.2 0 -3.6 1.2 -1.2 .6 0 1.2 -1.2 0 -3.6 1.2 -1.2 3.6 0 1.2 -1.2 0 -3.6 1.2 -1.2 3.6 0 1.2 -1.2 0 -3.6 1.2 -1.2 .6 0 1.2 -1.2 0 -.6 1.2 -1.2 .6 0 1.2 -1.2 0 -.6 1.2 -1.2 .6 0 1.2 -1.2 0 -.6 1.2 -1.2 .6 0 1.2 -1.2 0 -.6 1.2 -1.2 .6 0 1.2 -1.2 0 -.6 1.2 -1.2 .6 0 1.2 -1.2 0 -.6 1.2 -1.2 .6 0 1.2 -1.2 0 -.6 1.2 -1.2 .6 0 1.2 -1.2 0 -.6 1.2 -1.2 3.6 0 1.2 -1.2 0 -3.6 1.2 -1.2 6.6 0 1.2 -1.2 0 -.6 1.2 -1.2 .6 0 1.2 -1.2 0 -.6 1.2 -1.2 3.6 0 1.2 -1.2 0 -.6 1.2 -1.2 3.6 0 1.2 -1.2 0 -.6 1.2 -1.2 3.6 0 1.2 -1.2 0 -.6 1.2 -1.2 3.6 0 1.2 -1.2 0 -.6 1.2 -1.2 9.6 0 1.2 -1.2 0 -.6 1.2 -1.2 3.6 0 1.2 -1.2 0 -.6 1.2 -1.2 15.6 0 1.2 -1.2 0 -.6 1.2 -1.2 6.6 0 1.2 -1.2 0 -.6 1.2 -1.2 12.6 0 1.2 -1.2 0 -.6 1.2 -1.2 9.6 0 1.2 -1.2 0 -.6 1.2 -1.2 12.6 0 1.2 -1.2 0 -.6 1.2 -1.2 6.6 0 1.2 -1.2 0 -.6 1.2 -1.2 15.6 0 1.2 -1.2 0 -.6 1.2 -1.2 9.6 0 1.2 -1.2 0 -.6 1.2 -1.2 9.7 0 1.1 -1.1 0 -6.8 1.1 -1.1 .9 0 1 -1 0 -34.6 .4 -.4 2.3 0 .3 -.3 0 -8.4 -.3 -.3 -2.4 0 -.3 -.3 0 -8.4 .3 -.3 2.4 0 .3 -.3 0 -5.4 .3 -.3 2.4 0 .3 -.3 0 -2.4 .3 -.3 2.4 0 .3 -.3 0 -2.4 .3 -.3 2.4 0 .3 -.3 0 -2.4 .3 -.3 20.4 0 .3 .3 0 5.4 .3 .3 5.4 0 .3 .3 0 23.4 .3 .3 2.2 0 .5 .5 0 1.9 .6 .6 1.6 0 .8 .8 0 4.3 .9 .9 1.1 0 1 1 0 .9 1.1 1.1 .7 0 1.2 1.2 0 .6 1.2 1.2 33.6 0 1.2 -1.2 0 -.6 1.2 -1.2 15.8 0 1 -1 0 -55.7 .3 -.3 2.4 0 .3 -.3 0 -2.4 .3 -.3 14.4 0 .3 .3 0 2.4 .3 .3 2.4 0 .3 .3 0 2.4 .3 .3 2.4 0 .3 .3 0 5.4 .3 .3 2.4 0 .3 .3 0 5.4 .3 .3 2.4 0 .3 -.3 0 -2.4 .3 -.3 2.4 0 .3 -.3 0 -2.4 .3 -.3 2.4 0 .3 -.3 0 -2.4 .3 -.3 2.4 0 .3 -.3 0 -2.4 .3 -.3 50.4 0 .3 .3 0 8.4 .3 .3 2.4 0 .3 .3 0 2.4 .3 .3 2.4 0 .3 -.3 0 -11.4 .3 -.3 2.4 0 .3 -.3 0 -2.4 .3 -.3 2.4 0 .3 -.3 0 -5.4 .3 -.3 5.4 0 .3 -.3 0 -2.4 .3 -.3 5.4 0 .3 .3 0 2.4 .3 .3 5.4 0 .3 .3 0 5.4 .3 .3 2.4 0 .3 .3 0 8.4 .3 .3 2.2 0 .5 .5 0 14.2 .3 .3 2 0 .7 .7 0 7.8 .5 .5 1.5 0 1 1 0 10.2 .8 .8 1 0 1.2 1.2 0 3.7 1.1 1.1 12.7 0 1.2 -1.2 0 -.6 1.2 -1.2 9.6 0 1.2 -1.2 0 -.6 1.2 -1.2 15.6 0 1.2 -1.2 0 -.6 1.2 -1.2 .6 0 1.2 -1.2 0 -.6 1.2 -1.2 3.6 0 1.2 -1.2 0 -13 -.8 -.8 -1.1 0 -1.1 -1.1 0 -16.6 -.3 -.3 -2 0 -.7 -.7 0 -8 -.3 -.3 -2 0 -.7 -.7 0 -17 -.3 -.3 -2.4 0 -.3 -.3 0 -14.4 -.3 -.3 -2.4 0 -.3 -.3 0 -5.4 .3 -.3 2.4 0 .3 -.3 0 -2.4 .3 -.3 11.4 0 .3 .3 0 2.4 .3 .3 2.4 0 .3 .3 0 8.4 .3 .3 2.4 0 .3 .3 0 2.4 .3 .3 2.4 0 .3 .3 0 2.4 .3 .3 2.3 0 .4 .4 0 2.3 .3 .3 2 0 .7 .7 0 8 .3 .3 2.1 0 .6 .6 0 1.9 .5 .5 1.7 0 .8 .8 0 4.7 .5 .5 1.6 0 .9 .9 0 4.4 .7 .7 1.3 0 1 1 0 7.3 .7 .7 1.3 0 1 1 0 1 1 1 .8 0 1.2 1.2 0 6.8 1 1 3.8 0 1.2 -1.2 0 -.6 1.2 -1.2 .6 0 1.2 -1.2 0 -.6 1.2 -1.2 .6 0 1.2 -1.2 0 -.6 1.2 -1.2 .6 0 1.2 -1.2 0 -.6 1.2 -1.2 .6 0 1.2 -1.2 0 -3.6 1.2 -1.2 3.6 0 1.2 -1.2 0 -.6 1.2 -1.2 .6 0 1.2 -1.2 0 -.6 1.2 -1.2 .6 0 1.2 -1.2 0 -.6 1.2 -1.2 .6 0 1.2 -1.2 0 -.6 1.2 -1.2 .6 0 1.2 -1.2 0 -.6 1.2 -1.2 .6 0 1.2 -1.2 0 -.6 1.2 -1.2 .6 0 1.2 -1.2 0 -.6 1.2 -1.2 .6 0 1.2 -1.2 0 -.6 1.2 -1.2 .6 0 1.2 -1.2 0 -15.8 1 -1 3.9 0 1.1 1.1 0 4 .9 .9 3.9 0 1.2 1.2 0 3.8 1 1 3.8 0 1.2 1.2 0 3.6 1.2 1.2 3.6 0 1.2 1.2 0 .6 1.2 1.2 .6 0 1.2 1.2 0 .6 1.2 1.2 6.6 0 1.2 1.2 0 .6 1.2 1.2 3.6 0 1.2 1.2 0 .6 1.2 1.2 3.6 0 1.2 -1.2 0 -.6 1.2 -1.2 3.6 0 1.2 -1.2 0 -.6 1.2 -1.2 3.6 0 1.2 -1.2 0 -.6 1.2 -1.2 .6 0 1.2 -1.2 0 -3.6 1.2 -1.2 .6 0 1.2 -1.2 0 -.6 -1.2 -1.2 -.6 0 -1.2 -1.2 0 -3.6 -1.2 -1.2 -.6 0 -1.2 -1.2 0 -.6 1.2 -1.2 3.6 0 1.2 -1.2 0 -.6 1.2 -1.2 3.6 0 1.2 -1.2 0 -.6 1.2 -1.2 .6 0 1.2 -1.2 0 -21.6 -1.2 -1.2 -.6 0 -1.2 -1.2 0 -6.6 1.2 -1.2 .6 0 1.2 -1.2 0 -.6 1.2 -1.2 .6 0 1.2 -1.2 0 -.6 1.2 -1.2 .6 0 1.2 -1.2 0 -.6 1.2 -1.2 .6 0 1.2 -1.2 0 -.6 1.2 -1.2 1.8 0M1014.0 239.5l-.5 .5 0 7.7 .8 .8 1.6 0 .6 .6 0 4.5 .9 .9 1.4 0 .7 .7 0 4.2 1.1 1.1 4 0 .9 -.9 0 -10.2 -.9 -.9 -1.4 0 -.7 -.7 0 -1.5 -.8 -.8 -1.6 0 -.6 -.6 0 -1.7 -.7 -.7 -1.8 0 -.5 -.5 0 -1.9 -.6 -.6zM383.5 743.5l0 -19.8 1.2 -1.2 .6 0 1.2 -1.2 0 -9.6 -1.2 -1.2 -.6 0 -1.2 -1.2 0 -27.6 -1.2 -1.2 -.6 0 -1.2 -1.2 0 -6.6 -1.2 -1.2 -.6 0 -1.2 -1.2 0 -18.6 -1.2 -1.2 -.6 0 -1.2 -1.2 0 -9.6 -1.2 -1.2 -.6 0 -1.2 -1.2 0 -21.6 -1.2 -1.2 -.6 0 -1.2 -1.2 0 -9.6 -1.2 -1.2 -.6 0 -1.2 -1.2 0 -3.6 1.2 -1.2 .6 0 1.2 -1.2 0 -3.6 1.2 -1.2 .6 0 1.2 -1.2 0 -.6 1.2 -1.2 .6 0 1.2 -1.2 0 -.6 1.2 -1.2 .6 0 1.2 -1.2 0 -3.6 1.2 -1.2 .6 0 1.2 -1.2 0 -21.6 1.2 -1.2 .6 0 1.2 -1.2 0 -9.6 1.2 -1.2 .6 0 1.2 -1.2 0 -3.6 1.2 -1.2 .6 0 1.2 -1.2 0 -6.6 1.2 -1.2 .6 0 1.2 -1.2 0 -.6 1.2 -1.2 .6 0 1.2 -1.2 0 -3.6 1.2 -1.2 3.6 0 1.2 -1.2 0 -3.6 1.2 -1.2 3.6 0 1.2 -1.2 0 -3.6 1.2 -1.2 .6 0 1.2 -1.2 0 -.6 1.2 -1.2 .6 0 1.2 -1.2 0 -.6 1.2 -1.2 .6 0 1.2 -1.2 0 -.6 1.2 -1.2 .6 0 1.2 -1.2 0 -.6 1.2 -1.2 3.6 0 1.2 -1.2 0 -3.6 1.2 -1.2 3.6 0 1.2 -1.2 0 -3.6 1.2 -1.2 3.6 0 1.2 -1.2 0 -.6 1.2 -1.2 .6 0 1.2 -1.2 0 -.6 1.2 -1.2 3.6 0 1.2 -1.2 0 -.6 1.2 -1.2 .6 0 1.2 -1.2 0 -.6 1.2 -1.2 3.6 0 1.2 -1.2 0 -.6 1.2 -1.2 .6 0 1.2 -1.2 0 -.6 1.2 -1.2 6.6 0 1.2 -1.2 0 -.6 1.2 -1.2 3.6 0 1.2 -1.2 0 -.6 1.2 -1.2 27.6 0 1.2 -1.2 0 -.6 1.2 -1.2 3.6 0 1.2 -1.2 0 -.6 1.2 -1.2 9.6 0 1.2 -1.2 0 -.6 1.2 -1.2 6.6 0 1.2 -1.2 0 -.6 1.2 -1.2 12.6 0 1.2 -1.2 0 -.6 1.2 -1.2 3.6 0 1.2 -1.2 0 -.6 1.2 -1.2 15.6 0 1.2 -1.2 0 -.6 1.2 -1.2 6.6 0 1.2 -1.2 0 -.6 1.2 -1.2 18.6 0 1.2 -1.2 0 -.6 1.2 -1.2 .7 0 1.1 -1.1 0 -.8 1.1 -1.1 .9 0 1 -1 0 -70.7 .3 -.3 8.4 0 .3 -.3 0 -2.4 -.3 -.3 -2.4 0 -.3 -.3 0 -2.4 .3 -.3 2.4 0 .3 -.3 0 -2.4 .3 -.3 5.4 0 .3 -.3 0 -2.4 .3 -.3 11.4 0 .3 .3 0 2.4 .3 .3 2.4 0 .3 .3 0 8.4 .3 .3 2.4 0 .3 .3 0 11.4 .3 .3 2.4 0 .3 .3 0 17.2 .5 .5 4.6 0 .9 .9 0 7.1 1 1 .9 0 1.1 1.1 0 .8 1.1 1.1 54.7 0 1.2 -1.2 0 -64.5 .3 -.3 2.4 0 .3 -.3 0 -2.4 .3 -.3 2.4 0 .3 -.3 0 -2.4 .3 -.3 11.4 0 .3 .3 0 5.4 .3 .3 2.4 0 .3 .3 0 2.4 .3 .3 2.4 0 .3 .3 0 5.4 .3 .3 2.4 0 .3 .3 0 5.4 .3 .3 2.4 0 .3 -.3 0 -2.4 .3 -.3 2.4 0 .3 -.3 0 -2.4 .3 -.3 2.4 0 .3 -.3 0 -2.4 .3 -.3 2.4 0 .3 -.3 0 -2.4 .3 -.3 2.4 0 .3 -.3 0 -2.4 .3 -.3 5.4 0 .3 .3 0 2.4 .3 .3 2.4 0 .3 -.3 0 -2.4 .3 -.3 14.4 0 .3 .3 0 2.4 .3 .3 23.4 0 .3 .3 0 11.4 .3 .3 2.4 0 .3 .3 0 2.4 .3 .3 2.4 0 .3 -.3 0 -5.4 .3 -.3 2.4 0 .3 -.3 0 -5.4 -.3 -.3 -2.4 0 -.3 -.3 0 -2.4 .3 -.3 2.4 0 .3 -.3 0 -5.4 .3 -.3 2.4 0 .3 -.3 0 -2.4 .3 -.3 2.4 0 .3 -.3 0 -2.4 .3 -.3 8.4 0 .3 .3 0 2.4 .3 .3 5.4 0 .3 .3 0 5.4 .3 .3 2.4 0 .3 .3 0 11.4 .3 .3 2.4 0 .3 .3 0 11.4 .3 .3 2 0 .7 .7 0 14 .3 .3 1.8 0 .9 .9 0 13.4 .7 .7 1.2 0 1.1 1.1 0 3.8 1.1 1.1 30.7 0 1.2 -1.2 0 -.6 1.2 -1.2 9.6 0 1.2 -1.2 0 -.6 1.2 -1.2 12.6 0 1.2 -1.2 0 -12.9 -.9 -.9 -1 0 -1.1 -1.1 0 -19.6 -.3 -.3 -2 0 -.7 -.7 0 -4.9 -.4 -.4 -1.8 0 -.8 -.8 0 -16.9 -.3 -.3 -2.4 0 -.3 -.3 0 -11.4 -.3 -.3 -2.4 0 -.3 -.3 0 -20.4 -.3 -.3 -2.4 0 -.3 -.3 0 -2.4 .3 -.3 2.4 0 .3 -.3 0 -2.4 .3 -.3 5.4 0 .3 .3 0 2.4 .3 .3 2.4 0 .3 .3 0 2.4 .3 .3 2.4 0 .3 .3 0 5.4 .3 .3 2.4 0 .3 .3 0 2.4 .3 .3 2.4 0 .3 .3 0 5.4 .3 .3 2.4 0 .3 .3 0 5.4 .3 .3 2.4 0 .3 .3 0 2.4 .3 .3 2.2 0 .5 .5 0 2.2 .3 .3 2 0 .7 .7 0 11 .3 .3 2.1 0 .6 .6 0 2 .4 .4 1.8 0 .8 .8 0 7.7 .5 .5 1.6 0 .9 .9 0 4.4 .7 .7 1.3 0 1 1 0 4.2 .8 .8 1.1 0 1.1 1.1 0 3.9 1 1 .8 0 1.2 1.2 0 .7 1.1 1.1 .7 0 1.2 -1.2 0 -.6 1.2 -1.2 3.6 0 1.2 -1.2 0 -.6 1.2 -1.2 .6 0 1.2 -1.2 0 -.6 1.2 -1.2 3.6 0 1.2 -1.2 0 -3.6 1.2 -1.2 3.6 0 1.2 -1.2 0 -3.6 1.2 -1.2 3.6 0 1.2 -1.2 0 -.6 1.2 -1.2 3.6 0 1.2 -1.2 0 -.6 1.2 -1.2 .6 0 1.2 -1.2 0 -.6 1.2 -1.2 .6 0 1.2 -1.2 0 -.6 1.2 -1.2 .6 0 1.2 -1.2 0 -.6 1.2 -1.2 .6 0 1.2 -1.2 0 -3.6 1.2 -1.2 .6 0 1.2 -1.2 0 -.6 1.2 -1.2 .6 0 1.2 -1.2 0 -12.9 .9 -.9 1 0 1.1 1.1 0 1 .9 .9 .9 0 1.2 1.2 0 .9 .9 .9 .9 0 1.2 1.2 0 .8 1 1 3.8 0 1.2 1.2 0 .6 1.2 1.2 .6 0 1.2 1.2 0 .6 1.2 1.2 9.6 0 1.2 1.2 0 .6 1.2 1.2 9.6 0 1.2 -1.2 0 -.6 1.2 -1.2 3.6 0 1.2 -1.2 0 -.6 1.2 -1.2 .6 0 1.2 -1.2 0 -.6 1.2 -1.2 .6 0 1.2 -1.2 0 -15.6 1.2 -1.2 3.6 0 1.2 -1.2 0 -.6 1.2 -1.2 .6 0 1.2 -1.2 0 -.6 1.2 -1.2 .6 0 1.2 -1.2 0 -.6 1.2 -1.2 .6 0 1.2 -1.2 0 -3.6 1.2 -1.2 .6 0 1.2 -1.2 0 -15.6 1.2 -1.2 1.8 0M1016.9 245.5l-.4 .4 0 2 .6 .6 1.9 0 .5 -.5 0 -1.9 -.6 -.6zM803.8 356.5l-.3 .3 0 5.4 .3 .3 2.4 0 .3 -.3 0 -5.4 -.3 -.3zM389.5 743.5l0 -4.8 1.2 -1.2 .6 0 1.2 -1.2 0 -24.6 -1.2 -1.2 -.6 0 -1.2 -1.2 0 -24.6 -1.2 -1.2 -.6 0 -1.2 -1.2 0 -6.6 -1.2 -1.2 -.6 0 -1.2 -1.2 0 -18.6 -1.2 -1.2 -.6 0 -1.2 -1.2 0 -12.6 -1.2 -1.2 -.6 0 -1.2 -1.2 0 -18.6 -1.2 -1.2 -.6 0 -1.2 -1.2 0 -21.6 1.2 -1.2 .6 0 1.2 -1.2 0 -.6 1.2 -1.2 3.6 0 1.2 -1.2 0 -.6 1.2 -1.2 .6 0 1.2 -1.2 0 -.6 1.2 -1.2 .6 0 1.2 -1.2 0 -21.6 1.2 -1.2 .6 0 1.2 -1.2 0 -3.6 1.2 -1.2 .6 0 1.2 -1.2 0 -3.6 1.2 -1.2 .6 0 1.2 -1.2 0 -3.6 1.2 -1.2 .6 0 1.2 -1.2 0 -3.6 1.2 -1.2 .6 0 1.2 -1.2 0 -.6 1.2 -1.2 .6 0 1.2 -1.2 0 -.6 1.2 -1.2 .6 0 1.2 -1.2 0 -.6 1.2 -1.2 .6 0 1.2 -1.2 0 -3.6 1.2 -1.2 .6 0 1.2 -1.2 0 -.6 1.2 -1.2 .6 0 1.2 -1.2 0 -.6 1.2 -1.2 .6 0 1.2 -1.2 0 -.6 1.2 -1.2 .6 0 1.2 -1.2 0 -.6 1.2 -1.2 3.6 0 1.2 -1.2 0 -.6 1.2 -1.2 .6 0 1.2 -1.2 0 -.6 1.2 -1.2 .6 0 1.2 -1.2 0 -.6 1.2 -1.2 .6 0 1.2 -1.2 0 -.6 1.2 -1.2 .6 0 1.2 -1.2 0 -.6 1.2 -1.2 .6 0 1.2 -1.2 0 -.6 1.2 -1.2 .6 0 1.2 -1.2 0 -.6 1.2 -1.2 .6 0 1.2 -1.2 0 -.6 1.2 -1.2 .6 0 1.2 -1.2 0 -.6 1.2 -1.2 .6 0 1.2 -1.2 0 -.6 1.2 -1.2 .6 0 1.2 -1.2 0 -.6 1.2 -1.2 3.6 0 1.2 -1.2 0 -.6 1.2 -1.2 3.6 0 1.2 -1.2 0 -.6 1.2 -1.2 27.6 0 1.2 -1.2 0 -.6 1.2 -1.2 6.6 0 1.2 -1.2 0 -.6 1.2 -1.2 9.6 0 1.2 -1.2 0 -.6 1.2 -1.2 .6 0 1.2 -1.2 0 -.6 1.2 -1.2 9.6 0 1.2 -1.2 0 -.6 1.2 -1.2 6.6 0 1.2 -1.2 0 -.6 1.2 -1.2 18.6 0 1.2 -1.2 0 -.6 1.2 -1.2 9.6 0 1.2 -1.2 0 -.6 1.2 -1.2 18.6 0 1.2 -1.2 0 -.7 1.1 -1.1 .8 0 1.1 -1.1 0 -6.9 1 -1 1.1 0 .9 -.9 0 -4.3 .8 -.8 1.5 0 .7 -.7 0 -4.7 -.6 -.6 -1.6 0 -.8 -.8 0 -1.5 .7 -.7 1.8 0 .5 -.5 0 -5.1 -.4 -.4 -2 0 -.6 -.6 0 -17.1 .3 -.3 2.4 0 .3 -.3 0 -11.4 -.3 -.3 -2.4 0 -.3 -.3 0 -23.4 .3 -.3 8.4 0 .3 .3 0 2.4 .3 .3 5.4 0 .3 -.3 0 -2.4 -.3 -.3 -2.4 0 -.3 -.3 0 -2.4 -.3 -.3 -2.4 0 -.3 -.3 0 -5.4 .3 -.3 2.4 0 .3 -.3 0 -2.4 .3 -.3 5.4 0 .3 -.3 0 -2.4 .3 -.3 2.4 0 .3 .3 0 11.4 .3 .3 2.4 0 .3 .3 0 2.4 .3 .3 2.4 0 .3 .3 0 17.4 .3 .3 2.4 0 .3 .3 0 11.4 .3 .3 2.2 0 .5 .5 0 10.8 .7 .7 1.4 0 .9 .9 0 1.2 .9 .9 1.1 0 1 1 0 6.9 1.1 1.1 3.7 0 1.2 -1.2 0 -.6 1.2 -1.2 54.6 0 1.2 -1.2 0 -25.5 -.3 -.3 -1.8 0 -.9 -.9 0 -13.6 .5 -.5 2.2 0 .3 -.3 0 -5.4 -.3 -.3 -2.4 0 -.3 -.3 0 -29.4 .3 -.3 5.4 0 .3 -.3 0 -2.4 .3 -.3 2.4 0 .3 -.3 0 -2.4 .3 -.3 5.4 0 .3 .3 0 2.4 .3 .3 2.4 0 .3 .3 0 2.4 .3 .3 2.4 0 .3 .3 0 5.4 .3 .3 2.4 0 .3 .3 0 5.4 .3 .3 2.4 0 .3 .3 0 5.4 .3 .3 2.4 0 .3 .3 0 2.4 .3 .3 2.4 0 .3 -.3 0 -2.4 .3 -.3 2.4 0 .3 -.3 0 -11.4 .3 -.3 5.4 0 .3 -.3 0 -2.4 .3 -.3 23.4 0 .3 .3 0 2.4 .3 .3 20.4 0 .3 .3 0 5.4 .3 .3 2.4 0 .3 .3 0 20.4 .3 .3 2.4 0 .3 .3 0 2.4 .3 .3 2.4 0 .3 .3 0 8.4 .3 .3 2.4 0 .3 -.3 0 -44.4 .3 -.3 2.4 0 .3 -.3 0 -5.4 .3 -.3 17.4 0 .3 .3 0 11.4 .3 .3 2.4 0 .3 .3 0 8.4 .3 .3 2.4 0 .3 .3 0 20.4 .3 .3 2.4 0 .3 .3 0 5.4 .3 .3 1.9 0 .8 .8 0 22.6 .6 .6 1.3 0 1.1 1.1 0 .8 1.1 1.1 .7 0 1.2 1.2 0 .6 1.2 1.2 48.6 0 1.2 -1.2 0 -.6 1.2 -1.2 6.6 0 1.2 -1.2 0 -.6 1.2 -1.2 3.6 0 1.2 -1.2 0 -10.1 -.7 -.7 -1.3 0 -1 -1 0 -1.2 -.8 -.8 -1.1 0 -1.1 -1.1 0 -19.6 -.3 -.3 -2.2 0 -.5 -.5 0 -5.2 -.3 -.3 -2.1 0 -.6 -.6 0 -14.1 -.3 -.3 -2.4 0 -.3 -.3 0 -2.4 -.3 -.3 -2.2 0 -.5 -.5 0 -23.2 -.3 -.3 -2.4 0 -.3 -.3 0 -5.4 -.3 -.3 -2.4 0 -.3 -.3 0 -17.4 .3 -.3 5.4 0 .3 .3 0 2.4 .3 .3 2.4 0 .3 .3 0 5.4 .3 .3 2.4 0 .3 .3 0 2.4 .3 .3 2.4 0 .3 .3 0 2.4 .3 .3 2.4 0 .3 .3 0 11.4 .3 .3 5.4 0 .3 .3 0 2.4 .3 .3 2.4 0 .3 .3 0 5.4 .3 .3 2.3 0 .4 .4 0 8.3 .3 .3 2.3 0 .4 .4 0 8.3 .3 .3 2.2 0 .5 .5 0 5.2 .3 .3 2 0 .7 .7 0 4.9 .4 .4 1.8 0 .8 .8 0 4.6 .6 .6 1.4 0 1 1 0 4.2 .8 .8 1.1 0 1.1 1.1 0 4.1 .8 .8 4 0 1.2 1.2 0 .7 1.1 1.1 .7 0 1.2 -1.2 0 -.6 1.2 -1.2 .6 0 1.2 -1.2 0 -.6 1.2 -1.2 .6 0 1.2 -1.2 0 -.6 1.2 -1.2 3.6 0 1.2 -1.2 0 -.6 1.2 -1.2 .6 0 1.2 -1.2 0 -.6 1.2 -1.2 6.6 0 1.2 -1.2 0 -.6 1.2 -1.2 .6 0 1.2 -1.2 0 -.6 1.2 -1.2 6.6 0 1.2 -1.2 0 -.6 1.2 -1.2 .6 0 1.2 -1.2 0 -.6 1.2 -1.2 3.6 0 1.2 -1.2 0 -3.6 1.2 -1.2 .6 0 1.2 -1.2 0 -.6 1.2 -1.2 .6 0 1.2 -1.2 0 -6.6 1.2 -1.2 .6 0 1.2 -1.2 0 -.6 1.2 -1.2 .7 0 1.1 -1.1 0 -10 .9 -.9 .9 0 1.2 1.2 0 .9 .9 .9 3.9 0 1.2 1.2 0 .7 1.1 1.1 .7 0 1.2 1.2 0 .8 1 1 21.8 0 1.2 -1.2 0 -.6 1.2 -1.2 .6 0 1.2 -1.2 0 -.6 1.2 -1.2 .6 0 1.2 -1.2 0 -.6 1.2 -1.2 .6 0 1.2 -1.2 0 -.6 1.2 -1.2 .6 0 1.2 -1.2 0 -15.6 1.2 -1.2 6.6 0 1.2 -1.2 0 -.6 1.2 -1.2 .6 0 1.2 -1.2 0 -.6 1.2 -1.2 1.8 0M398.5 743.5l0 -13.8 1.2 -1.2 .6 0 1.2 -1.2 0 -3.6 -1.2 -1.2 -.6 0 -1.2 -1.2 0 -9.6 -1.2 -1.2 -.6 0 -1.2 -1.2 0 -21.6 -1.2 -1.2 -.6 0 -1.2 -1.2 0 -6.6 -1.2 -1.2 -.6 0 -1.2 -1.2 0 -18.6 -1.2 -1.2 -.6 0 -1.2 -1.2 0 -9.6 -1.2 -1.2 -.6 0 -1.2 -1.2 0 -21.6 -1.2 -1.2 -.6 0 -1.2 -1.2 0 -21.6 1.2 -1.2 .6 0 1.2 -1.2 0 -3.6 1.2 -1.2 9.6 0 1.2 -1.2 0 -3.6 1.2 -1.2 3.6 0 1.2 -1.2 0 -12.6 1.2 -1.2 .6 0 1.2 -1.2 0 -.6 1.2 -1.2 .6 0 1.2 -1.2 0 -9.6 1.2 -1.2 3.6 0 1.2 -1.2 0 -6.6 1.2 -1.2 .6 0 1.2 -1.2 0 -.6 1.2 -1.2 3.6 0 1.2 -1.2 0 -.6 1.2 -1.2 .6 0 1.2 -1.2 0 -3.6 1.2 -1.2 .6 0 1.2 -1.2 0 -.6 1.2 -1.2 .6 0 1.2 -1.2 0 -3.6 1.2 -1.2 3.6 0 1.2 -1.2 0 -.6 1.2 -1.2 .6 0 1.2 -1.2 0 -.6 1.2 -1.2 3.6 0 1.2 -1.2 0 -.6 1.2 -1.2 .6 0 1.2 -1.2 0 -3.6 1.2 -1.2 .6 0 1.2 -1.2 0 -.6 1.2 -1.2 .6 0 1.2 -1.2 0 -3.6 1.2 -1.2 3.6 0 1.2 -1.2 0 -3.6 1.2 -1.2 .6 0 1.2 -1.2 0 -.6 1.2 -1.2 .6 0 1.2 -1.2 0 -.6 1.2 -1.2 .6 0 1.2 -1.2 0 -.6 1.2 -1.2 .6 0 1.2 -1.2 0 -.6 1.2 -1.2 21.6 0 1.2 -1.2 0 -.6 1.2 -1.2 9.6 0 1.2 -1.2 0 -.6 1.2 -1.2 9.6 0 1.2 -1.2 0 -.6 1.2 -1.2 .6 0 1.2 -1.2 0 -.6 1.2 -1.2 6.6 0 1.2 -1.2 0 -.6 1.2 -1.2 3.6 0 1.2 -1.2 0 -.6 1.2 -1.2 9.6 0 1.2 -1.2 0 -.6 1.2 -1.2 9.6 0 1.2 -1.2 0 -.6 1.2 -1.2 39.7 0 1.1 -1.1 0 -.8 1.1 -1.1 .9 0 1 -1 0 -1 1 -1 1.1 0 .9 -.9 0 -7.3 .8 -.8 1.5 0 .7 -.7 0 -19.8 -.5 -.5 -1.9 0 -.6 -.6 0 -4.9 .5 -.5 2.2 0 .3 -.3 0 -5.4 .3 -.3 2.4 0 .3 -.3 0 -5.4 -.3 -.3 -5.4 0 -.3 -.3 0 -8.4 .3 -.3 5.4 0 .3 .3 0 2.4 .3 .3 5.4 0 .3 -.3 0 -8.4 -.3 -.3 -5.4 0 -.3 -.3 0 -2.4 -.3 -.3 -2.4 0 -.3 -.3 0 -2.4 -.3 -.3 -2.4 0 -.3 -.3 0 -20.4 .3 -.3 5.4 0 .3 .3 0 2.4 .3 .3 2.4 0 .3 .3 0 2.4 .3 .3 2.4 0 .3 .3 0 5.4 .3 .3 5.4 0 .3 .3 0 2.4 .3 .3 2.4 0 .3 .3 0 2.4 .3 .3 2.4 0 .3 .3 0 17.4 .3 .3 2.3 0 .4 .4 0 11 .6 .6 1.6 0 .8 .8 0 16.3 .9 .9 1.1 0 1 1 0 1 1 1 .9 0 1.1 1.1 0 .8 1.1 1.1 3.7 0 1.2 -1.2 0 -.6 1.2 -1.2 .6 0 1.2 -1.2 0 -.6 1.2 -1.2 .6 0 1.2 -1.2 0 -.6 1.2 -1.2 .6 0 1.2 -1.2 0 -.6 1.2 -1.2 3.6 0 1.2 -1.2 0 -.6 1.2 -1.2 42.6 0 1.2 -1.2 0 -31.5 -.3 -.3 -2.2 0 -.5 -.5 0 -29.2 -.3 -.3 -2.4 0 -.3 -.3 0 -8.4 .3 -.3 2.4 0 .3 -.3 0 -14.4 .3 -.3 2.4 0 .3 -.3 0 -2.4 .3 -.3 11.4 0 .3 .3 0 5.4 .3 .3 2.4 0 .3 .3 0 2.4 .3 .3 2.4 0 .3 .3 0 8.4 .3 .3 2.4 0 .3 .3 0 11.4 .3 .3 2.4 0 .3 .3 0 5.4 .3 .3 2.4 0 .3 -.3 0 -2.4 .3 -.3 2.4 0 .3 -.3 0 -11.4 .3 -.3 2.4 0 .3 -.3 0 -11.4 .3 -.3 14.4 0 .3 -.3 0 -2.4 .3 -.3 2.4 0 .3 .3 0 2.4 .3 .3 17.4 0 .3 .3 0 2.4 .3 .3 2.4 0 .3 .3 0 2.4 .3 .3 5.4 0 .3 .3 0 5.4 .3 .3 2.4 0 .3 .3 0 11.4 .3 .3 2.4 0 .3 .3 0 5.4 .3 .3 2.4 0 .3 .3 0 2.4 .3 .3 2.4 0 .3 .3 0 14.4 .3 .3 2.4 0 .3 -.3 0 -8.4 .3 -.3 2.4 0 .3 -.3 0 -5.4 -.3 -.3 -2.4 0 -.3 -.3 0 -8.4 .3 -.3 2.4 0 .3 -.3 0 -5.4 -.3 -.3 -2.4 0 -.3 -.3 0 -8.4 .3 -.3 2.4 0 .3 -.3 0 -5.4 -.3 -.3 -2.4 0 -.3 -.3 0 -8.4 .3 -.3 2.4 0 .3 -.3 0 -2.4 .3 -.3 2.4 0 .3 -.3 0 -2.4 .3 -.3 11.4 0 .3 .3 0 2.4 .3 .3 2.4 0 .3 .3 0 14.4 .3 .3 2.4 0 .3 .3 0 5.4 .3 .3 2.4 0 .3 .3 0 23.4 .3 .3 2.4 0 .3 .3 0 11.4 .3 .3 2 0 .7 .7 0 16.7 .6 .6 1.3 0 1.1 1.1 0 3.8 1.1 1.1 9.7 0 1.2 1.2 0 .6 1.2 1.2 24.6 0 1.2 1.2 0 .6 1.2 1.2 27.6 0 1.2 -1.2 0 -.6 1.2 -1.2 3.6 0 1.2 -1.2 0 -.6 1.2 -1.2 3.7 0 1.1 -1.1 0 -.9 -1 -1 -.9 0 -1.1 -1.1 0 -4 -.9 -.9 -1 0 -1.1 -1.1 0 -7.4 -.5 -.5 -1.6 0 -.9 -.9 0 -1.5 -.6 -.6 -1.5 0 -.9 -.9 0 -4.6 -.5 -.5 -1.7 0 -.8 -.8 0 -7.9 -.3 -.3 -2 0 -.7 -.7 0 -17 -.3 -.3 -2.4 0 -.3 -.3 0 -5.4 -.3 -.3 -2.4 0 -.3 -.3 0 -14.4 -.3 -.3 -2.4 0 -.3 -.3 0 -2.4 -.3 -.3 -2.4 0 -.3 -.3 0 -5.4 .3 -.3 2.4 0 .3 -.3 0 -2.4 .3 -.3 2.4 0 .3 -.3 0 -2.4 -.3 -.3 -2.4 0 -.3 -.3 0 -5.4 -.3 -.3 -2.4 0 -.3 -.3 0 -5.4 -.3 -.3 -2.4 0 -.3 -.3 0 -5.4 .3 -.3 8.4 0 .3 .3 0 5.4 .3 .3 2.4 0 .3 .3 0 2.4 .3 .3 2.4 0 .3 .3 0 8.4 .3 .3 5.4 0 .3 .3 0 2.4 .3 .3 2.4 0 .3 .3 0 8.4 .3 .3 2.4 0 .3 .3 0 11.4 .3 .3 2.4 0 .3 .3 0 5.4 .3 .3 2.4 0 .3 .3 0 5.4 .3 .3 2.3 0 .4 .4 0 5.3 .3 .3 2.1 0 .6 .6 0 8.1 .3 .3 2.1 0 .6 .6 0 2 .4 .4 1.8 0 .8 .8 0 1.6 .6 .6 1.5 0 .9 .9 0 1.3 .8 .8 1.1 0 1.1 1.1 0 4.1 .8 .8 4 0 1.2 1.2 0 .7 1.1 1.1 3.7 0 1.2 -1.2 0 -.6 1.2 -1.2 .6 0 1.2 -1.2 0 -3.6 1.2 -1.2 3.6 0 1.2 -1.2 0 -.6 1.2 -1.2 .6 0 1.2 -1.2 0 -.6 1.2 -1.2 9.6 0 1.2 -1.2 0 -.6 1.2 -1.2 .6 0 1.2 -1.2 0 -.6 1.2 -1.2 3.6 0 1.2 -1.2 0 -.6 1.2 -1.2 .6 0 1.2 -1.2 0 -.6 1.2 -1.2 3.6 0 1.2 -1.2 0 -3.6 1.2 -1.2 .6 0 1.2 -1.2 0 -.6 1.2 -1.2 .6 0 1.2 -1.2 0 -.6 1.2 -1.2 .6 0 1.2 -1.2 0 -3.6 1.2 -1.2 .6 0 1.2 -1.2 0 -18.9 .9 -.9 1 0 1.1 1.1 0 1.1 .8 .8 7 0 1.2 1.2 0 .7 1.1 1.1 3.7 0 1.2 1.2 0 .6 1.2 1.2 9.6 0 1.2 -1.2 0 -.6 1.2 -1.2 .6 0 1.2 -1.2 0 -.6 1.2 -1.2 .6 0 1.2 -1.2 0 -.6 1.2 -1.2 .6 0 1.2 -1.2 0 -.6 1.2 -1.2 .6 0 1.2 -1.2 0 -.6 1.2 -1.2 .6 0 1.2 -1.2 0 -12.6 1.2 -1.2 .7 0 1.1 -1.1 0 -.7 1.2 -1.2 3.6 0 1.2 -1.2 0 -.6 1.2 -1.2 1.8 0M620.8 350.5l-.3 .3 0 5.4 .3 .3 2.4 0 .3 -.3 0 -5.4 -.3 -.3zM626.8 359.5l-.3 .3 0 2.4 -.3 .3 -2.4 0 -.3 .3 0 2.4 .3 .3 2.4 0 .3 .3 0 2.4 .3 .3 2.4 0 .3 -.3 0 -8.4 -.3 -.3zM407.5 743.5l0 -16.8 -1.2 -1.2 -.6 0 -1.2 -1.2 0 -12.6 -1.2 -1.2 -.6 0 -1.2 -1.2 0 -18.6 -1.2 -1.2 -.6 0 -1.2 -1.2 0 -6.6 -1.2 -1.2 -.6 0 -1.2 -1.2 0 -18.6 -1.2 -1.2 -.6 0 -1.2 -1.2 0 -9.6 -1.2 -1.2 -.6 0 -1.2 -1.2 0 -24.6 -1.2 -1.2 -.6 0 -1.2 -1.2 0 -21.6 1.2 -1.2 .6 0 1.2 -1.2 0 -.6 1.2 -1.2 3.6 0 1.2 -1.2 0 -.6 1.2 -1.2 6.6 0 1.2 -1.2 0 -.6 1.2 -1.2 .6 0 1.2 -1.2 0 -.6 1.2 -1.2 .6 0 1.2 -1.2 0 -.6 1.2 -1.2 .6 0 1.2 -1.2 0 -3.6 1.2 -1.2 .6 0 1.2 -1.2 0 -.6 1.2 -1.2 .6 0 1.2 -1.2 0 -9.6 1.2 -1.2 .6 0 1.2 -1.2 0 -.6 1.2 -1.2 .6 0 1.2 -1.2 0 -3.6 1.2 -1.2 .6 0 1.2 -1.2 0 -.6 1.2 -1.2 .6 0 1.2 -1.2 0 -.6 1.2 -1.2 .6 0 1.2 -1.2 0 -.6 1.2 -1.2 .6 0 1.2 -1.2 0 -.6 1.2 -1.2 .6 0 1.2 -1.2 0 -.6 1.2 -1.2 .6 0 1.2 -1.2 0 -.6 1.2 -1.2 .6 0 1.2 -1.2 0 -.6 1.2 -1.2 3.6 0 1.2 -1.2 0 -.6 1.2 -1.2 .6 0 1.2 -1.2 0 -.6 1.2 -1.2 3.6 0 1.2 -1.2 0 -3.6 1.2 -1.2 3.6 0 1.2 -1.2 0 -3.6 1.2 -1.2 3.6 0 1.2 -1.2 0 -3.6 1.2 -1.2 .6 0 1.2 -1.2 0 -3.6 1.2 -1.2 .6 0 1.2 -1.2 0 -.6 1.2 -1.2 .6 0 1.2 -1.2 0 -.6 1.2 -1.2 3.6 0 1.2 -1.2 0 -.6 1.2 -1.2 6.6 0 1.2 -1.2 0 -.6 1.2 -1.2 15.6 0 1.2 -1.2 0 -.6 1.2 -1.2 .6 0 1.2 -1.2 0 -.6 1.2 -1.2 6.6 0 1.2 -1.2 0 -.6 1.2 -1.2 3.6 0 1.2 -1.2 0 -.6 1.2 -1.2 3.6 0 1.2 -1.2 0 -.6 1.2 -1.2 3.6 0 1.2 -1.2 0 -.6 1.2 -1.2 15.6 0 1.2 -1.2 0 -.6 1.2 -1.2 15.6 0 1.2 1.2 0 .6 1.2 1.2 21.6 0 1.2 -1.2 0 -.7 1.1 -1.1 .8 0 1.1 -1.1 0 -.8 1.1 -1.1 .9 0 1 -1 0 -4.1 .9 -.9 4.4 0 .7 -.7 0 -16.8 .5 -.5 2.1 0 .4 -.4 0 -2.2 .4 -.4 2.2 0 .4 -.4 0 -2.3 -.3 -.3 -2.3 0 -.4 -.4 0 -5.3 -.3 -.3 -2.3 0 -.4 -.4 0 -11.3 .3 -.3 2.4 0 .3 -.3 0 -8.4 .3 -.3 2.4 0 .3 -.3 0 -2.4 .3 -.3 2.4 0 .3 -.3 0 -5.4 .3 -.3 5.4 0 .3 .3 0 2.4 .3 .3 2.4 0 .3 .3 0 2.4 -.3 .3 -2.4 0 -.3 .3 0 5.4 .3 .3 2.3 0 .4 .4 0 28.9 .7 .7 1.5 0 .8 .8 0 4.4 .8 .8 1.3 0 .9 .9 0 1.1 1 1 .9 0 1.1 1.1 0 .8 1.1 1.1 6.7 0 1.2 -1.2 0 -.6 1.2 -1.2 3.6 0 1.2 -1.2 0 -.6 1.2 -1.2 3.6 0 1.2 -1.2 0 -.6 1.2 -1.2 3.6 0 1.2 -1.2 0 -.6 1.2 -1.2 3.6 0 1.2 -1.2 0 -.6 1.2 -1.2 .6 0 1.2 -1.2 0 -.6 1.2 -1.2 6.6 0 1.2 -1.2 0 -.6 1.2 -1.2 9.6 0 1.2 -1.2 0 -.6 1.2 -1.2 12.7 0 1.1 -1.1 0 -13.3 -.6 -.6 -1.3 0 -1.1 -1.1 0 -31.6 -.3 -.3 -2.4 0 -.3 -.3 0 -11.4 .3 -.3 2.4 0 .3 -.3 0 -5.4 -.3 -.3 -2.4 0 -.3 -.3 0 -8.4 -.3 -.3 -2.4 0 -.3 -.3 0 -2.4 .3 -.3 2.4 0 .3 -.3 0 -14.4 .3 -.3 2.4 0 .3 -.3 0 -2.4 .3 -.3 2.4 0 .3 -.3 0 -2.4 .3 -.3 5.4 0 .3 .3 0 2.4 .3 .3 2.4 0 .3 .3 0 5.4 .3 .3 5.4 0 .3 .3 0 11.4 .3 .3 2.4 0 .3 .3 0 11.4 .3 .3 2.4 0 .3 .3 0 14.4 .3 .3 2.4 0 .3 -.3 0 -8.4 .3 -.3 2.4 0 .3 -.3 0 -8.4 .3 -.3 2.4 0 .3 -.3 0 -5.4 .3 -.3 2.4 0 .3 -.3 0 -14.4 .3 -.3 29.4 0 .3 .3 0 2.4 .3 .3 2.4 0 .3 .3 0 2.4 .3 .3 2.4 0 .3 .3 0 2.4 .3 .3 2.4 0 .3 .3 0 2.4 .3 .3 2.4 0 .3 .3 0 17.4 .3 .3 5.4 0 .3 .3 0 5.4 .3 .3 2.4 0 .3 .3 0 5.4 -.3 .3 -2.4 0 -.3 .3 0 5.4 .3 .3 2.4 0 .3 .3 0 2.4 .3 .3 2.4 0 .3 .3 0 2.4 .3 .3 2.4 0 .3 -.3 0 -2.4 .3 -.3 2.4 0 .3 -.3 0 -59.4 .3 -.3 2.4 0 .3 -.3 0 -2.4 .3 -.3 8.4 0 .3 .3 0 2.4 .3 .3 2.4 0 .3 .3 0 2.4 .3 .3 2.4 0 .3 .3 0 14.4 .3 .3 2.4 0 .3 .3 0 8.4 .3 .3 2.4 0 .3 .3 0 17.4 .3 .3 2.4 0 .3 .3 0 17.4 .3 .3 2.1 0 .6 .6 0 19.8 .6 .6 1.3 0 1.1 1.1 0 3.8 1.1 1.1 9.7 0 1.2 1.2 0 .6 1.2 1.2 24.6 0 1.2 1.2 0 .6 1.2 1.2 6.6 0 1.2 1.2 0 .6 1.2 1.2 36.6 0 1.2 -1.2 0 -.6 1.2 -1.2 3.6 0 1.2 -1.2 0 -9.9 -.9 -.9 -1.1 0 -1 -1 0 -1.4 -.6 -.6 -4.4 0 -1 -1 0 -1.3 -.7 -.7 -1.3 0 -1 -1 0 -7.7 -.3 -.3 -2 0 -.7 -.7 0 -1.9 -.4 -.4 -1.8 0 -.8 -.8 0 -7.9 -.3 -.3 -2.3 0 -.4 -.4 0 -2.3 -.3 -.3 -2.2 0 -.5 -.5 0 -8.2 -.3 -.3 -2.4 0 -.3 -.3 0 -5.4 -.3 -.3 -2.3 0 -.4 -.4 0 -17.3 -.3 -.3 -2.4 0 -.3 -.3 0 -5.4 .3 -.3 2.4 0 .3 -.3 0 -5.4 -.3 -.3 -2.4 0 -.3 -.3 0 -5.4 -.3 -.3 -2.4 0 -.3 -.3 0 -8.4 .3 -.3 2.4 0 .3 -.3 0 -2.4 .3 -.3 8.4 0 .3 .3 0 20.4 .3 .3 2.4 0 .3 .3 0 2.4 .3 .3 2.4 0 .3 .3 0 5.4 .3 .3 2.4 0 .3 .3 0 2.4 .3 .3 2.4 0 .3 .3 0 8.4 .3 .3 2.4 0 .3 .3 0 2.4 .3 .3 2.2 0 .5 .5 0 8.2 .3 .3 2.3 0 .4 .4 0 2.3 .3 .3 2.1 0 .6 .6 0 5.1 .3 .3 2.1 0 .6 .6 0 2 .4 .4 1.8 0 .8 .8 0 4.8 .4 .4 4.5 0 1.1 1.1 0 7.1 .8 .8 10.1 0 1.1 -1.1 0 -.7 1.2 -1.2 3.6 0 1.2 -1.2 0 -3.6 1.2 -1.2 3.6 0 1.2 -1.2 0 -.6 1.2 -1.2 3.6 0 1.2 -1.2 0 -.6 1.2 -1.2 3.6 0 1.2 -1.2 0 -.6 1.2 -1.2 3.6 0 1.2 -1.2 0 -.6 1.2 -1.2 .6 0 1.2 -1.2 0 -.6 1.2 -1.2 .6 0 1.2 -1.2 0 -.6 1.2 -1.2 .6 0 1.2 -1.2 0 -.6 1.2 -1.2 .6 0 1.2 -1.2 0 -.6 1.2 -1.2 3.6 0 1.2 -1.2 0 -3.6 1.2 -1.2 .6 0 1.2 -1.2 0 -.6 1.2 -1.2 .6 0 1.2 -1.2 0 -3.6 1.2 -1.2 .6 0 1.2 -1.2 0 -6.8 -1 -1 -.9 0 -1.1 -1.1 0 -10.1 .8 -.8 10 0 1.2 1.2 0 .9 .9 .9 12.9 0 1.2 -1.2 0 -.6 1.2 -1.2 3.6 0 1.2 -1.2 0 -.6 1.2 -1.2 .6 0 1.2 -1.2 0 -.6 1.2 -1.2 .6 0 1.2 -1.2 0 -.6 1.2 -1.2 .6 0 1.2 -1.2 0 -18.7 1.1 -1.1 7.9 0M770.8 350.5l-.3 .3 0 2.4 .3 .3 2.4 0 .3 -.3 0 -2.4 -.3 -.3zM611.8 362.5l-.3 .3 0 5.4 .3 .3 2.4 0 .3 .3 0 14.4 .3 .3 2.4 0 .3 .3 0 2.4 .3 .3 5.4 0 .3 -.3 0 -2.4 .3 -.3 2.4 0 .3 .3 0 11.4 .3 .3 2.4 0 .3 -.3 0 -2.4 .3 -.3 2.4 0 .3 -.3 0 -8.4 -.3 -.3 -2.4 0 -.3 -.3 0 -2.4 -.3 -.3 -2.4 0 -.3 -.3 0 -2.4 -.3 -.3 -2.4 0 -.3 -.3 0 -2.4 -.3 -.3 -2.4 0 -.3 -.3 0 -2.4 -.3 -.3 -2.4 0 -.3 -.3 0 -5.4 -.3 -.3 -2.4 0 -.3 -.3 0 -2.4 -.3 -.3zM626.8 416.5l-.3 .3 0 2.4 -.3 .3 -2.4 0 -.3 .3 0 2.4 .3 .3 5.4 0 .3 -.3 0 -5.4 -.3 -.3zM629.8 422.5l-.3 .3 0 2.3 .4 .4 2.1 0 .5 -.5 0 -2.1 -.4 -.4zM413.5 743.5l0 -16.8 -1.2 -1.2 -.6 0 -1.2 -1.2 0 -12.6 -1.2 -1.2 -.6 0 -1.2 -1.2 0 -15.6 -1.2 -1.2 -.6 0 -1.2 -1.2 0 -9.6 -1.2 -1.2 -.6 0 -1.2 -1.2 0 -15.6 -1.2 -1.2 -.6 0 -1.2 -1.2 0 -9.6 -1.2 -1.2 -.6 0 -1.2 -1.2 0 -39.6 -1.2 -1.2 -.6 0 -1.2 -1.2 0 -3.6 1.2 -1.2 .6 0 1.2 -1.2 0 -3.6 1.2 -1.2 .6 0 1.2 -1.2 0 -.6 1.2 -1.2 3.6 0 1.2 -1.2 0 -.6 1.2 -1.2 9.6 0 1.2 -1.2 0 -.6 1.2 -1.2 3.6 0 1.2 -1.2 0 -.6 1.2 -1.2 .6 0 1.2 -1.2 0 -3.6 1.2 -1.2 .6 0 1.2 -1.2 0 -3.6 1.2 -1.2 .6 0 1.2 -1.2 0 -9.6 1.2 -1.2 3.6 0 1.2 -1.2 0 -3.6 1.2 -1.2 3.6 0 1.2 -1.2 0 -3.6 1.2 -1.2 3.6 0 1.2 -1.2 0 -3.6 1.2 -1.2 6.6 0 1.2 -1.2 0 -.6 1.2 -1.2 .6 0 1.2 -1.2 0 -.6 1.2 -1.2 3.6 0 1.2 -1.2 0 -.6 1.2 -1.2 .6 0 1.2 -1.2 0 -.6 1.2 -1.2 .6 0 1.2 -1.2 0 -.6 1.2 -1.2 .6 0 1.2 -1.2 0 -.6 1.2 -1.2 .6 0 1.2 -1.2 0 -.6 1.2 -1.2 .6 0 1.2 -1.2 0 -.6 1.2 -1.2 .6 0 1.2 -1.2 0 -.6 1.2 -1.2 .6 0 1.2 -1.2 0 -.6 1.2 -1.2 .6 0 1.2 -1.2 0 -3.6 1.2 -1.2 3.6 0 1.2 -1.2 0 -.6 1.2 -1.2 .6 0 1.2 -1.2 0 -.6 1.2 -1.2 6.6 0 1.2 -1.2 0 -.6 1.2 -1.2 3.6 0 1.2 -1.2 0 -.6 1.2 -1.2 9.6 0 1.2 -1.2 0 -.6 1.2 -1.2 .6 0 1.2 -1.2 0 -.6 1.2 -1.2 6.6 0 1.2 -1.2 0 -.6 1.2 -1.2 .6 0 1.2 -1.2 0 -.6 1.2 -1.2 3.6 0 1.2 -1.2 0 -.6 1.2 -1.2 .6 0 1.2 -1.2 0 -.6 1.2 -1.2 33.6 0 1.2 1.2 0 .6 1.2 1.2 9.6 0 1.2 1.2 0 .6 1.2 1.2 3.6 0 1.2 -1.2 0 -.6 1.2 -1.2 .7 0 1.1 -1.1 0 -.8 1.1 -1.1 .9 0 1 -1 0 -1 1 -1 1.1 0 .9 -.9 0 -1.2 .9 -.9 1.3 0 .8 -.8 0 -4.4 .8 -.8 1.5 0 .7 -.7 0 -1.6 .7 -.7 1.7 0 .6 -.6 0 -1.8 .6 -.6 10.6 0 .8 .8 0 1.4 .8 .8 1.3 0 .9 .9 0 1.2 .9 .9 1.1 0 1 1 0 1 1 1 3.8 0 1.2 1.2 0 .6 1.2 1.2 6.6 0 1.2 -1.2 0 -.6 1.2 -1.2 30.6 0 1.2 -1.2 0 -.6 1.2 -1.2 3.6 0 1.2 -1.2 0 -6.6 1.2 -1.2 .6 0 1.2 -1.2 0 -6.6 1.2 -1.2 3.6 0 1.2 -1.2 0 -.6 1.2 -1.2 3.6 0 1.2 -1.2 0 -.6 1.2 -1.2 6.7 0 1.1 -1.1 0 -22.6 -.3 -.3 -2 0 -.7 -.7 0 -11 -.3 -.3 -2 0 -.7 -.7 0 -44 -.3 -.3 -2.4 0 -.3 -.3 0 -11.4 .3 -.3 2.4 0 .3 -.3 0 -14.4 .3 -.3 11.4 0 .3 .3 0 5.4 .3 .3 2.4 0 .3 .3 0 2.4 .3 .3 2.4 0 .3 .3 0 17.4 .3 .3 2.4 0 .3 .3 0 2.4 .3 .3 2.4 0 .3 .3 0 17.4 .3 .3 5.4 0 .3 -.3 0 -8.4 .3 -.3 2.4 0 .3 -.3 0 -2.4 -.3 -.3 -2.4 0 -.3 -.3 0 -2.4 .3 -.3 2.4 0 .3 -.3 0 -2.4 .3 -.3 2.4 0 .3 -.3 0 -8.4 .3 -.3 2.4 0 .3 -.3 0 -14.4 .3 -.3 14.4 0 .3 .3 0 2.4 .3 .3 8.4 0 .3 .3 0 2.4 .3 .3 5.4 0 .3 .3 0 2.4 .3 .3 2.4 0 .3 .3 0 2.4 .3 .3 2.4 0 .3 .3 0 5.4 -.3 .3 -2.4 0 -.3 .3 0 2.4 .3 .3 2.4 0 .3 .3 0 2.4 -.3 .3 -2.4 0 -.3 .3 0 5.4 .3 .3 2.4 0 .3 .3 0 2.4 .3 .3 2.4 0 .3 .3 0 5.4 .3 .3 2.4 0 .3 .3 0 2.4 .3 .3 2.4 0 .3 .3 0 14.4 .3 .3 2.4 0 .3 .3 0 2.4 .3 .3 2.4 0 .3 .3 0 5.4 .3 .3 2.4 0 .3 -.3 0 -5.4 .3 -.3 2.4 0 .3 -.3 0 -65.4 .3 -.3 2.4 0 .3 -.3 0 -2.4 .3 -.3 8.4 0 .3 .3 0 2.4 .3 .3 5.4 0 .3 .3 0 17.4 .3 .3 2.4 0 .3 .3 0 14.4 .3 .3 2.4 0 .3 .3 0 23.4 .3 .3 2.4 0 .3 .3 0 8.4 .3 .3 2.1 0 .6 .6 0 22.8 .6 .6 1.3 0 1.1 1.1 0 3.8 1.1 1.1 18.7 0 1.2 1.2 0 .6 1.2 1.2 3.6 0 1.2 1.2 0 .6 1.2 1.2 12.6 0 1.2 1.2 0 .6 1.2 1.2 3.6 0 1.2 1.2 0 .6 1.2 1.2 6.6 0 1.2 1.2 0 .6 1.2 1.2 .6 0 1.2 1.2 0 .6 1.2 1.2 12.6 0 1.2 -1.2 0 -.6 1.2 -1.2 3.6 0 1.2 -1.2 0 -.6 1.2 -1.2 9.6 0 1.2 -1.2 0 -.6 1.2 -1.2 3.6 0 1.2 -1.2 0 -.6 1.2 -1.2 .6 0 1.2 -1.2 0 -.7 1.1 -1.1 .8 0 1.1 -1.1 0 -4 -.9 -.9 -1.1 0 -1 -1 0 -7.5 -.5 -.5 -1.8 0 -.7 -.7 0 -5 -.3 -.3 -10.9 0 -.8 -.8 0 -1.8 -.4 -.4 -1.9 0 -.7 -.7 0 -1.8 -.5 -.5 -1.7 0 -.8 -.8 0 -7.9 -.3 -.3 -2.3 0 -.4 -.4 0 -2.3 -.3 -.3 -2.2 0 -.5 -.5 0 -8.2 -.3 -.3 -2.4 0 -.3 -.3 0 -2.4 -.3 -.3 -2.4 0 -.3 -.3 0 -11.4 -.3 -.3 -2.4 0 -.3 -.3 0 -5.4 -.3 -.3 -2.4 0 -.3 -.3 0 -5.4 .3 -.3 2.4 0 .3 -.3 0 -11.4 .3 -.3 8.4 0 .3 .3 0 8.4 .3 .3 2.4 0 .3 .3 0 2.4 .3 .3 2.4 0 .3 .3 0 8.4 .3 .3 2.4 0 .3 .3 0 5.4 .3 .3 2.4 0 .3 .3 0 8.4 .3 .3 5.3 0 .4 .4 0 5.3 .3 .3 2.3 0 .4 .4 0 2.3 .3 .3 2.1 0 .6 .6 0 5.1 .3 .3 2.1 0 .6 .6 0 8 .4 .4 2 0 .6 .6 0 2 .4 .4 4.8 0 .8 .8 0 1.6 .6 .6 22.2 0 1.2 -1.2 0 -.6 1.2 -1.2 3.6 0 1.2 -1.2 0 -.6 1.2 -1.2 3.6 0 1.2 -1.2 0 -3.6 1.2 -1.2 3.6 0 1.2 -1.2 0 -.6 1.2 -1.2 .6 0 1.2 -1.2 0 -.6 1.2 -1.2 .6 0 1.2 -1.2 0 -.6 1.2 -1.2 .6 0 1.2 -1.2 0 -.6 1.2 -1.2 3.6 0 1.2 -1.2 0 -.6 1.2 -1.2 .6 0 1.2 -1.2 0 -.6 1.2 -1.2 .6 0 1.2 -1.2 0 -.6 1.2 -1.2 .6 0 1.2 -1.2 0 -3.6 1.2 -1.2 .6 0 1.2 -1.2 0 -.6 1.2 -1.2 .6 0 1.2 -1.2 0 -15.9 -.9 -.9 -1.1 0 -1 -1 0 -4.2 -.8 -.8 -1.3 0 -.9 -.9 0 -7.6 .5 -.5 1.7 0 .8 .8 0 1.7 .5 .5 7.5 0 1 1 0 1.2 .8 .8 16 0 1.2 -1.2 0 -.6 1.2 -1.2 .6 0 1.2 -1.2 0 -3.6 1.2 -1.2 .6 0 1.2 -1.2 0 -.6 1.2 -1.2 .6 0 1.2 -1.2 0 -.6 1.2 -1.2 .6 0 1.2 -1.2 0 -18.9 .9 -.9 2.1 0M905.8 320.5l-.3 .3 0 2.4 -.3 .3 -2.4 0 -.3 .3 0 5.4 .3 .3 5.4 0 .3 -.3 0 -2.4 .3 -.3 2.4 0 .3 -.3 0 -2.4 -.3 -.3 -2.4 0 -.3 -.3 0 -2.4 -.3 -.3zM770.8 347.5l-.3 .3 0 2.4 -.3 .3 -2.4 0 -.3 .3 0 5.4 .3 .3 5.4 0 .3 .3 0 5.4 .3 .3 2.4 0 .3 -.3 0 -2.4 .3 -.3 2.4 0 .3 -.3 0 -2.4 -.3 -.3 -2.4 0 -.3 -.3 0 -5.4 -.3 -.3 -2.4 0 -.3 -.3 0 -2.4 -.3 -.3zM617.8 377.5l-.3 .3 0 2.4 .3 .3 5.4 0 .3 -.3 0 -2.4 -.3 -.3zM419.5 743.5l0 -13.8 -1.2 -1.2 -.6 0 -1.2 -1.2 0 -9.6 -1.2 -1.2 -.6 0 -1.2 -1.2 0 -18.6 -1.2 -1.2 -.6 0 -1.2 -1.2 0 -9.6 -1.2 -1.2 -.6 0 -1.2 -1.2 0 -18.6 -1.2 -1.2 -.6 0 -1.2 -1.2 0 -9.6 -1.2 -1.2 -.6 0 -1.2 -1.2 0 -51.6 1.2 -1.2 3.6 0 1.2 -1.2 0 -.6 1.2 -1.2 6.6 0 1.2 -1.2 0 -.6 1.2 -1.2 18.6 0 1.2 -1.2 0 -.6 1.2 -1.2 .6 0 1.2 -1.2 0 -.6 1.2 -1.2 .6 0 1.2 -1.2 0 -15.6 1.2 -1.2 .6 0 1.2 -1.2 0 -.6 1.2 -1.2 .6 0 1.2 -1.2 0 -.6 1.2 -1.2 .6 0 1.2 -1.2 0 -.6 1.2 -1.2 .6 0 1.2 -1.2 0 -.6 1.2 -1.2 3.6 0 1.2 -1.2 0 -.6 1.2 -1.2 3.6 0 1.2 -1.2 0 -.6 1.2 -1.2 3.6 0 1.2 -1.2 0 -3.6 1.2 -1.2 3.6 0 1.2 -1.2 0 -3.6 1.2 -1.2 3.6 0 1.2 -1.2 0 -3.6 1.2 -1.2 3.6 0 1.2 -1.2 0 -.6 1.2 -1.2 .6 0 1.2 -1.2 0 -.6 1.2 -1.2 .6 0 1.2 -1.2 0 -.6 1.2 -1.2 3.6 0 1.2 -1.2 0 -.6 1.2 -1.2 .6 0 1.2 -1.2 0 -.6 1.2 -1.2 .6 0 1.2 -1.2 0 -.6 1.2 -1.2 9.6 0 1.2 -1.2 0 -.6 1.2 -1.2 9.6 0 1.2 -1.2 0 -.6 1.2 -1.2 6.6 0 1.2 -1.2 0 -.6 1.2 -1.2 .6 0 1.2 -1.2 0 -.6 1.2 -1.2 3.6 0 1.2 -1.2 0 -3.6 1.2 -1.2 3.6 0 1.2 -1.2 0 -.6 1.2 -1.2 .6 0 1.2 -1.2 0 -.6 1.2 -1.2 15.6 0 1.2 1.2 0 .6 1.2 1.2 9.6 0 1.2 1.2 0 .6 1.2 1.2 15.6 0 1.2 -1.2 0 -.6 1.2 -1.2 .7 0 1.1 -1.1 0 -3.8 1.1 -1.1 .9 0 1 -1 0 -1 1 -1 1.1 0 .9 -.9 0 -4.2 .9 -.9 4.4 0 .7 -.7 0 -7.7 .6 -.6 4.7 0 .7 .7 0 1.6 .7 .7 7.4 0 .9 .9 0 1.2 .9 .9 1.1 0 1 1 0 1 1 1 3.8 0 1.2 1.2 0 3.6 1.2 1.2 3.6 0 1.2 1.2 0 .6 1.2 1.2 .6 0 1.2 1.2 0 .6 1.2 1.2 15.6 0 1.2 -1.2 0 -.6 1.2 -1.2 .6 0 1.2 -1.2 0 -.6 1.2 -1.2 27.6 0 1.2 -1.2 0 -.6 1.2 -1.2 .6 0 1.2 -1.2 0 -.6 1.2 -1.2 .6 0 1.2 -1.2 0 -3.6 1.2 -1.2 3.6 0 1.2 -1.2 0 -3.6 1.2 -1.2 .6 0 1.2 -1.2 0 -.6 1.2 -1.2 .6 0 1.2 -1.2 0 -10.1 -.7 -.7 -1.2 0 -1.1 -1.1 0 -10.4 -.5 -.5 -1.5 0 -1 -1 0 -25.7 -.3 -.3 -2.3 0 -.4 -.4 0 -20.3 -.3 -.3 -2.4 0 -.3 -.3 0 -32.4 -.3 -.3 -2.4 0 -.3 -.3 0 -5.4 .3 -.3 2.4 0 .3 -.3 0 -14.4 .3 -.3 2.4 0 .3 -.3 0 -2.4 .3 -.3 5.4 0 .3 .3 0 2.4 .3 .3 2.4 0 .3 .3 0 2.4 .3 .3 2.4 0 .3 .3 0 5.4 .3 .3 2.4 0 .3 .3 0 17.4 .3 .3 2.4 0 .3 .3 0 2.4 .3 .3 2.4 0 .3 .3 0 17.4 .3 .3 2.4 0 .3 .3 0 5.4 .3 .3 5.4 0 .3 -.3 0 -2.4 -.3 -.3 -2.4 0 -.3 -.3 0 -11.4 .3 -.3 8.4 0 .3 -.3 0 -5.4 -.3 -.3 -2.4 0 -.3 -.3 0 -2.4 .3 -.3 2.4 0 .3 -.3 0 -5.4 -.3 -.3 -2.4 0 -.3 -.3 0 -2.4 .3 -.3 5.4 0 .3 -.3 0 -2.4 .3 -.3 2.4 0 .3 -.3 0 -2.4 .3 -.3 8.4 0 .3 .3 0 5.4 .3 .3 2.4 0 .3 .3 0 2.4 .3 .3 2.4 0 .3 .3 0 2.4 .3 .3 5.4 0 .3 -.3 0 -5.4 .3 -.3 2.4 0 .3 .3 0 5.4 .3 .3 2.4 0 .3 .3 0 5.4 -.3 .3 -2.4 0 -.3 .3 0 2.4 .3 .3 2.4 0 .3 .3 0 2.4 .3 .3 2.4 0 .3 .3 0 5.4 .3 .3 2.4 0 .3 .3 0 5.4 .3 .3 2.4 0 .3 .3 0 5.4 .3 .3 2.4 0 .3 .3 0 5.4 .3 .3 2.4 0 .3 .3 0 5.4 .3 .3 2.4 0 .3 .3 0 5.4 .3 .3 2.4 0 .3 .3 0 2.4 .3 .3 2.4 0 .3 -.3 0 -62.4 .3 -.3 2.4 0 .3 -.3 0 -5.4 -.3 -.3 -2.4 0 -.3 -.3 0 -11.4 .3 -.3 5.4 0 .3 -.3 0 -2.4 .3 -.3 5.4 0 .3 .3 0 2.4 .3 .3 2.4 0 .3 .3 0 5.4 .3 .3 2.4 0 .3 .3 0 17.4 .3 .3 2.4 0 .3 .3 0 14.4 .3 .3 2.4 0 .3 .3 0 20.4 .3 .3 2.4 0 .3 .3 0 17.4 .3 .3 2.1 0 .6 .6 0 16.9 .5 .5 1.4 0 1.1 1.1 0 6.9 1 1 .8 0 1.2 1.2 0 .6 1.2 1.2 15.6 0 1.2 1.2 0 .6 1.2 1.2 3.6 0 1.2 1.2 0 .6 1.2 1.2 3.6 0 1.2 1.2 0 .6 1.2 1.2 3.6 0 1.2 1.2 0 .6 1.2 1.2 6.6 0 1.2 1.2 0 .6 1.2 1.2 3.6 0 1.2 1.2 0 .6 1.2 1.2 27.6 0 1.2 -1.2 0 -.6 1.2 -1.2 .6 0 1.2 -1.2 0 -.6 1.2 -1.2 3.6 0 1.2 -1.2 0 -.6 1.2 -1.2 3.6 0 1.2 -1.2 0 -.6 1.2 -1.2 3.6 0 1.2 -1.2 0 -.6 1.2 -1.2 .6 0 1.2 -1.2 0 -.6 1.2 -1.2 .7 0 1.1 -1.1 0 -13.4 -.5 -.5 -1.8 0 -.7 -.7 0 -1.8 -.5 -.5 -1.8 0 -.7 -.7 0 -8 -.3 -.3 -2.4 0 -.3 -.3 0 -2.4 -.3 -.3 -2.4 0 -.3 -.3 0 -2.4 -.3 -.3 -8.4 0 -.3 -.3 0 -2.4 -.3 -.3 -2.4 0 -.3 -.3 0 -2.4 -.3 -.3 -2.4 0 -.3 -.3 0 -2.4 -.3 -.3 -2.4 0 -.3 -.3 0 -5.4 -.3 -.3 -2.4 0 -.3 -.3 0 -5.4 -.3 -.3 -2.4 0 -.3 -.3 0 -11.4 -.3 -.3 -2.4 0 -.3 -.3 0 -5.4 -.3 -.3 -2.4 0 -.3 -.3 0 -5.4 -.3 -.3 -2.4 0 -.3 -.3 0 -5.4 .3 -.3 2.4 0 .3 -.3 0 -8.4 .3 -.3 2.4 0 .3 .3 0 2.4 .3 .3 2.4 0 .3 .3 0 8.4 .3 .3 2.4 0 .3 .3 0 2.4 .3 .3 2.4 0 .3 .3 0 8.4 .3 .3 2.4 0 .3 .3 0 2.4 .3 .3 2.4 0 .3 .3 0 5.4 .3 .3 2.4 0 .3 .3 0 5.4 .3 .3 2.4 0 .3 .3 0 2.4 .3 .3 2.4 0 .3 .3 0 2.4 .3 .3 2.3 0 .4 .4 0 11.3 .3 .3 2.3 0 .4 .4 0 2.3 .3 .3 2.3 0 .4 .4 0 2.3 .3 .3 5.1 0 .6 .6 0 2 .4 .4 2 0 .6 .6 0 2 .4 .4 7.7 0 .9 .9 0 1.3 .8 .8 1.3 0 .9 .9 0 1.3 .8 .8 7.1 0 1.1 1.1 0 .9 1 1 3.9 0 1.1 1.1 0 .8 1.1 1.1 9.7 0 1.2 -1.2 0 -3.6 1.2 -1.2 3.6 0 1.2 -1.2 0 -3.6 1.2 -1.2 .6 0 1.2 -1.2 0 -.6 1.2 -1.2 .6 0 1.2 -1.2 0 -.6 1.2 -1.2 3.6 0 1.2 -1.2 0 -3.6 1.2 -1.2 3.6 0 1.2 -1.2 0 -.6 1.2 -1.2 .6 0 1.2 -1.2 0 -.6 1.2 -1.2 .6 0 1.2 -1.2 0 -.6 1.2 -1.2 .6 0 1.2 -1.2 0 -.6 1.2 -1.2 .6 0 1.2 -1.2 0 -6.6 1.2 -1.2 .6 0 1.2 -1.2 0 -.6 1.2 -1.2 .6 0 1.2 -1.2 0 -12.8 -1 -1 -.9 0 -1.1 -1.1 0 -.9 -1 -1 -.9 0 -1.1 -1.1 0 -10.3 -.6 -.6 -1.6 0 -.8 -.8 0 -1.6 -.6 -.6 -1.6 0 -.8 -.8 0 -4.8 .4 -.4 2 0 .6 .6 0 2 .4 .4 7.7 0 .9 .9 0 1.3 .8 .8 4.2 0 1 1 0 1.1 .9 .9 15.9 0 1.2 -1.2 0 -3.6 1.2 -1.2 1.8 0M755.8 341.5l-.3 .3 0 2.4 .3 .3 2.4 0 .3 -.3 0 -2.4 -.3 -.3zM779.8 350.5l-.3 .3 0 2.4 .3 .3 5.4 0 .3 -.3 0 -2.4 -.3 -.3zM428.5 743.5l0 -4.8 -1.2 -1.2 -.6 0 -1.2 -1.2 0 -12.6 -1.2 -1.2 -.6 0 -1.2 -1.2 0 -3.6 -1.2 -1.2 -.6 0 -1.2 -1.2 0 -15.6 -1.2 -1.2 -.6 0 -1.2 -1.2 0 -9.6 -1.2 -1.2 -.6 0 -1.2 -1.2 0 -15.6 -1.2 -1.2 -.6 0 -1.2 -1.2 0 -9.6 -1.2 -1.2 -.6 0 -1.2 -1.2 0 -54.6 1.2 -1.2 .6 0 1.2 -1.2 0 -.6 1.2 -1.2 9.6 0 1.2 -1.2 0 -.6 1.2 -1.2 21.6 0 1.2 -1.2 0 -.6 1.2 -1.2 6.6 0 1.2 -1.2 0 -9.6 1.2 -1.2 .6 0 1.2 -1.2 0 -3.6 1.2 -1.2 .6 0 1.2 -1.2 0 -3.6 1.2 -1.2 3.6 0 1.2 -1.2 0 -3.6 1.2 -1.2 3.6 0 1.2 -1.2 0 -.6 1.2 -1.2 3.6 0 1.2 -1.2 0 -.6 1.2 -1.2 .6 0 1.2 -1.2 0 -.6 1.2 -1.2 .6 0 1.2 -1.2 0 -.6 1.2 -1.2 .6 0 1.2 -1.2 0 -3.6 1.2 -1.2 3.6 0 1.2 -1.2 0 -.6 1.2 -1.2 .6 0 1.2 -1.2 0 -.6 1.2 -1.2 3.6 0 1.2 -1.2 0 -.6 1.2 -1.2 .6 0 1.2 -1.2 0 -.6 1.2 -1.2 42.6 0 1.2 -1.2 0 -.6 1.2 -1.2 6.6 0 1.2 -1.2 0 -.6 1.2 -1.2 9.6 0 1.2 -1.2 0 -.6 1.2 -1.2 .6 0 1.2 -1.2 0 -.6 1.2 -1.2 9.6 0 1.2 -1.2 0 -.6 1.2 -1.2 .6 0 1.2 -1.2 0 -.6 1.2 -1.2 12.6 0 1.2 -1.2 0 -.6 1.2 -1.2 .6 0 1.2 -1.2 0 -.6 1.2 -1.2 .7 0 1.1 -1.1 0 -3.8 1.1 -1.1 3.9 0 1 -1 0 -7 1 -1 1.1 0 .9 -.9 0 -4.3 .8 -.8 1.4 0 .8 -.8 0 -1.4 .8 -.8 16.2 0 1 1 0 4 1 1 .9 0 1.1 1.1 0 3.8 1.1 1.1 .7 0 1.2 1.2 0 3.6 1.2 1.2 3.6 0 1.2 1.2 0 .6 1.2 1.2 .6 0 1.2 1.2 0 .6 1.2 1.2 36.6 0 1.2 -1.2 0 -.6 1.2 -1.2 9.6 0 1.2 -1.2 0 -.6 1.2 -1.2 3.6 0 1.2 -1.2 0 -.6 1.2 -1.2 .6 0 1.2 -1.2 0 -.6 1.2 -1.2 .6 0 1.2 -1.2 0 -.6 1.2 -1.2 .6 0 1.2 -1.2 0 -.6 1.2 -1.2 .6 0 1.2 -1.2 0 -6.6 1.2 -1.2 .6 0 1.2 -1.2 0 -.6 1.2 -1.2 .6 0 1.2 -1.2 0 -16.5 -.3 -.3 -1.8 0 -.9 -.9 0 -1.5 -.6 -.6 -1.3 0 -1.1 -1.1 0 -13.6 -.3 -.3 -2.1 0 -.6 -.6 0 -11.1 -.3 -.3 -2 0 -.7 -.7 0 -23 -.3 -.3 -2.4 0 -.3 -.3 0 -20.4 -.3 -.3 -2.4 0 -.3 -.3 0 -17.4 .3 -.3 2.4 0 .3 -.3 0 -2.4 -.3 -.3 -2.4 0 -.3 -.3 0 -23.4 .3 -.3 2.4 0 .3 -.3 0 -2.4 .3 -.3 5.4 0 .3 .3 0 2.4 .3 .3 2.4 0 .3 .3 0 2.4 .3 .3 2.4 0 .3 .3 0 2.4 .3 .3 2.4 0 .3 .3 0 17.4 .3 .3 2.4 0 .3 .3 0 8.4 .3 .3 2.4 0 .3 .3 0 14.4 .3 .3 2.4 0 .3 .3 0 5.4 .3 .3 2.4 0 .3 .3 0 5.4 .3 .3 2.4 0 .3 -.3 0 -5.4 .3 -.3 2.4 0 .3 -.3 0 -17.4 .3 -.3 5.4 0 .3 -.3 0 -17.4 .3 -.3 14.4 0 .3 .3 0 5.4 .3 .3 2.4 0 .3 .3 0 2.4 .3 .3 5.4 0 .3 -.3 0 -2.4 .3 -.3 2.4 0 .3 .3 0 2.4 -.3 .3 -2.4 0 -.3 .3 0 8.4 .3 .3 2.4 0 .3 .3 0 2.4 .3 .3 2.4 0 .3 .3 0 2.4 -.3 .3 -5.4 0 -.3 .3 0 5.4 .3 .3 11.4 0 .3 .3 0 5.4 .3 .3 2.4 0 .3 .3 0 5.4 .3 .3 2.4 0 .3 .3 0 5.4 .3 .3 5.4 0 .3 .3 0 11.4 .3 .3 2.4 0 .3 .3 0 2.4 .3 .3 2.4 0 .3 -.3 0 -38.4 .3 -.3 2.4 0 .3 -.3 0 -11.4 -.3 -.3 -2.4 0 -.3 -.3 0 -17.4 .3 -.3 5.4 0 .3 -.3 0 -5.4 -.3 -.3 -5.4 0 -.3 -.3 0 -11.4 .3 -.3 14.4 0 .3 .3 0 11.4 .3 .3 2.4 0 .3 .3 0 20.4 .3 .3 2.4 0 .3 .3 0 8.4 .3 .3 2.4 0 .3 .3 0 23.4 .3 .3 2.4 0 .3 .3 0 2.4 -.3 .3 -2.4 0 -.3 .3 0 2.4 .3 .3 2.4 0 .3 .3 0 11.4 .3 .3 2.1 0 .6 .6 0 22.9 .5 .5 1.5 0 1 1 0 9.8 1.2 1.2 12.6 0 1.2 1.2 0 .6 1.2 1.2 3.6 0 1.2 1.2 0 .6 1.2 1.2 3.6 0 1.2 1.2 0 3.6 1.2 1.2 6.6 0 1.2 1.2 0 .6 1.2 1.2 6.6 0 1.2 1.2 0 .6 1.2 1.2 21.6 0 1.2 1.2 0 .6 1.2 1.2 3.6 0 1.2 -1.2 0 -.6 1.2 -1.2 12.6 0 1.2 -1.2 0 -.6 1.2 -1.2 .6 0 1.2 -1.2 0 -.6 1.2 -1.2 .6 0 1.2 -1.2 0 -.6 1.2 -1.2 .6 0 1.2 -1.2 0 -.6 1.2 -1.2 3.6 0 1.2 -1.2 0 -.6 1.2 -1.2 3.6 0 1.2 -1.2 0 -.6 1.2 -1.2 12.7 0 1.1 -1.1 0 -3.9 -1 -1 -1 0 -1 -1 0 -4.2 -.8 -.8 -1.3 0 -.9 -.9 0 -1.4 -.7 -.7 -1.4 0 -.9 -.9 0 -4.6 -.5 -.5 -1.8 0 -.7 -.7 0 -1.8 -.5 -.5 -1.8 0 -.7 -.7 0 -8 -.3 -.3 -2.4 0 -.3 -.3 0 -2.4 -.3 -.3 -2.4 0 -.3 -.3 0 -2.4 .3 -.3 5.3 0 .4 .4 0 2.3 .3 .3 2.3 0 .4 .4 0 2.3 .3 .3 5.1 0 .6 .6 0 2 .4 .4 4.8 0 .8 .8 0 1.6 .6 .6 1.6 0 .8 .8 0 1.6 .6 .6 4.5 0 .9 .9 0 1.4 .7 .7 1.4 0 .9 .9 0 1.4 .7 .7 4.4 0 .9 .9 0 1.3 .8 .8 1.3 0 .9 .9 0 1.3 .8 .8 19 0 1.2 -1.2 0 -.6 1.2 -1.2 .6 0 1.2 -1.2 0 -.6 1.2 -1.2 .6 0 1.2 -1.2 0 -.6 1.2 -1.2 .6 0 1.2 -1.2 0 -.6 1.2 -1.2 .6 0 1.2 -1.2 0 -.6 1.2 -1.2 .6 0 1.2 -1.2 0 -.6 1.2 -1.2 .6 0 1.2 -1.2 0 -.6 1.2 -1.2 .6 0 1.2 -1.2 0 -.6 1.2 -1.2 .6 0 1.2 -1.2 0 -.6 1.2 -1.2 .6 0 1.2 -1.2 0 -3.6 1.2 -1.2 .6 0 1.2 -1.2 0 -.6 1.2 -1.2 .6 0 1.2 -1.2 0 -3.6 1.2 -1.2 .6 0 1.2 -1.2 0 -3.6 1.2 -1.2 .6 0 1.2 -1.2 0 -18.9 -.9 -.9 -1.1 0 -1 -1 0 -1.1 -.9 -.9 -1.1 0 -1 -1 0 -4.3 -.7 -.7 -4.4 0 -.9 -.9 0 -4.5 -.6 -.6 -1.6 0 -.8 -.8 0 -7.6 -.6 -.6 -2 0 -.4 .4 0 2 .6 .6 7.6 0 .8 .8 0 1.6 .6 .6 1.6 0 .8 .8 0 1.6 .6 .6 4.5 0 .9 .9 0 1.3 .8 .8 4.2 0 1 1 0 1.1 .9 .9 8.1 0M917.8 362.5l-.3 .3 0 11.4 .3 .3 2.4 0 .3 .3 0 2.4 .3 .3 2.4 0 .3 -.3 0 -11.4 -.3 -.3 -2.4 0 -.3 -.3 0 -2.4 -.3 -.3zM923.8 377.5l-.3 .3 0 8.4 .3 .3 5.4 0 .3 -.3 0 -5.4 -.3 -.3 -2.4 0 -.3 -.3 0 -2.4 -.3 -.3zM929.8 386.5l-.3 .3 0 11.4 .3 .3 5.4 0 .3 -.3 0 -8.4 -.3 -.3 -2.4 0 -.3 -.3 0 -2.4 -.3 -.3zM935.8 398.5l-.3 .3 0 5.4 .3 .3 2.4 0 .3 -.3 0 -5.4 -.3 -.3zM437.5 743.5l0 -10.8 -1.2 -1.2 -.6 0 -1.2 -1.2 0 -3.6 -1.2 -1.2 -.6 0 -1.2 -1.2 0 -9.6 -1.2 -1.2 -.6 0 -1.2 -1.2 0 -3.6 -1.2 -1.2 -.6 0 -1.2 -1.2 0 -12.6 -1.2 -1.2 -.6 0 -1.2 -1.2 0 -3.6 -1.2 -1.2 -.6 0 -1.2 -1.2 0 -15.6 -1.2 -1.2 -.6 0 -1.2 -1.2 0 -9.6 -1.2 -1.2 -.6 0 -1.2 -1.2 0 -54.6 1.2 -1.2 .6 0 1.2 -1.2 0 -.6 1.2 -1.2 39.6 0 1.2 -1.2 0 -.6 1.2 -1.2 3.6 0 1.2 -1.2 0 -.6 1.2 -1.2 .6 0 1.2 -1.2 0 -3.6 1.2 -1.2 .6 0 1.2 -1.2 0 -3.6 1.2 -1.2 .6 0 1.2 -1.2 0 -3.6 1.2 -1.2 3.6 0 1.2 -1.2 0 -3.6 1.2 -1.2 3.6 0 1.2 -1.2 0 -3.6 1.2 -1.2 3.6 0 1.2 -1.2 0 -.6 1.2 -1.2 .6 0 1.2 -1.2 0 -.6 1.2 -1.2 .6 0 1.2 -1.2 0 -.6 1.2 -1.2 3.6 0 1.2 -1.2 0 -.6 1.2 -1.2 21.6 0 1.2 1.2 0 .6 1.2 1.2 9.6 0 1.2 -1.2 0 -.6 1.2 -1.2 6.6 0 1.2 -1.2 0 -.6 1.2 -1.2 .6 0 1.2 -1.2 0 -.6 1.2 -1.2 9.6 0 1.2 -1.2 0 -.6 1.2 -1.2 3.6 0 1.2 -1.2 0 -.6 1.2 -1.2 9.6 0 1.2 -1.2 0 -.6 1.2 -1.2 3.6 0 1.2 -1.2 0 -.6 1.2 -1.2 9.6 0 1.2 -1.2 0 -.6 1.2 -1.2 .6 0 1.2 -1.2 0 -.6 1.2 -1.2 6.6 0 1.2 -1.2 0 -3.6 1.2 -1.2 3.7 0 1.1 -1.1 0 -3.8 1.1 -1.1 .8 0 1.1 -1.1 0 -3.9 1 -1 1 0 1 -1 0 -4.1 .9 -.9 1.2 0 .9 -.9 0 -1.2 .9 -.9 1.2 0 .9 -.9 0 -1.3 .8 -.8 4.3 0 .9 .9 0 4.1 1 1 1 0 1 1 0 1 1 1 .9 0 1.1 1.1 0 3.8 1.1 1.1 .7 0 1.2 1.2 0 .6 1.2 1.2 .6 0 1.2 1.2 0 .6 1.2 1.2 .6 0 1.2 1.2 0 .6 1.2 1.2 12.6 0 1.2 1.2 0 .6 1.2 1.2 12.6 0 1.2 1.2 0 .6 1.2 1.2 12.6 0 1.2 -1.2 0 -.6 1.2 -1.2 6.6 0 1.2 -1.2 0 -.6 1.2 -1.2 6.6 0 1.2 -1.2 0 -.6 1.2 -1.2 .6 0 1.2 -1.2 0 -.6 1.2 -1.2 3.6 0 1.2 -1.2 0 -.6 1.2 -1.2 .6 0 1.2 -1.2 0 -.6 1.2 -1.2 .6 0 1.2 -1.2 0 -.6 1.2 -1.2 .6 0 1.2 -1.2 0 -6.6 1.2 -1.2 .6 0 1.2 -1.2 0 -3.6 1.2 -1.2 .6 0 1.2 -1.2 0 -13.2 -.6 -.6 -1.3 0 -1.1 -1.1 0 -4.3 -.6 -.6 -1.3 0 -1.1 -1.1 0 -10.6 -.3 -.3 -2.1 0 -.6 -.6 0 -2.1 -.3 -.3 -1.8 0 -.9 -.9 0 -16.8 -.3 -.3 -2.4 0 -.3 -.3 0 -14.4 -.3 -.3 -2.4 0 -.3 -.3 0 -26.4 -.3 -.3 -2.4 0 -.3 -.3 0 -32.4 -.3 -.3 -2.4 0 -.3 -.3 0 -14.4 .3 -.3 2.4 0 .3 -.3 0 -5.4 .3 -.3 8.4 0 .3 .3 0 5.4 .3 .3 2.4 0 .3 .3 0 2.4 .3 .3 2.4 0 .3 .3 0 17.4 .3 .3 2.4 0 .3 .3 0 14.4 .3 .3 2.4 0 .3 .3 0 5.4 .3 .3 2.4 0 .3 .3 0 8.4 .3 .3 2.4 0 .3 .3 0 11.4 .3 .3 2.4 0 .3 .3 0 5.4 .3 .3 2.4 0 .3 -.3 0 -11.4 .3 -.3 2.4 0 .3 -.3 0 -2.4 .3 -.3 2.4 0 .3 -.3 0 -2.4 -.3 -.3 -2.4 0 -.3 -.3 0 -8.4 .3 -.3 2.4 0 .3 -.3 0 -2.4 -.3 -.3 -2.4 0 -.3 -.3 0 -2.4 .3 -.3 5.4 0 .3 .3 0 2.4 .3 .3 2.4 0 .3 -.3 0 -5.4 .3 -.3 2.4 0 .3 -.3 0 -5.4 -.3 -.3 -2.4 0 -.3 -.3 0 -2.4 -.3 -.3 -5.4 0 -.3 -.3 0 -8.4 .3 -.3 14.4 0 .3 .3 0 5.4 .3 .3 2.4 0 .3 .3 0 2.4 .3 .3 5.4 0 .3 .3 0 5.4 -.3 .3 -2.4 0 -.3 .3 0 11.4 .3 .3 2.4 0 .3 .3 0 2.4 .3 .3 2.4 0 .3 .3 0 8.4 .3 .3 2.4 0 .3 -.3 0 -2.4 .3 -.3 5.4 0 .3 .3 0 2.4 .3 .3 2.4 0 .3 .3 0 5.4 .3 .3 2.4 0 .3 .3 0 2.4 .3 .3 2.4 0 .3 .3 0 8.4 -.3 .3 -2.4 0 -.3 .3 0 2.4 .3 .3 5.4 0 .3 .3 0 2.4 .3 .3 2.4 0 .3 .3 0 5.4 .3 .3 2.4 0 .3 -.3 0 -32.4 .3 -.3 2.4 0 .3 -.3 0 -44.4 .3 -.3 2.4 0 .3 -.3 0 -5.4 -.3 -.3 -2.4 0 -.3 -.3 0 -2.4 -.3 -.3 -2.4 0 -.3 -.3 0 -2.4 .3 -.3 2.4 0 .3 -.3 0 -5.4 .3 -.3 8.4 0 .3 .3 0 5.4 .3 .3 2.4 0 .3 .3 0 11.4 .3 .3 2.4 0 .3 .3 0 17.4 .3 .3 2.4 0 .3 .3 0 5.4 .3 .3 2.4 0 .3 .3 0 41.4 .3 .3 2.4 0 .3 .3 0 11.4 .3 .3 2.2 0 .5 .5 0 34.4 1.1 1.1 12.7 0 1.2 1.2 0 .6 1.2 1.2 .6 0 1.2 1.2 0 .6 1.2 1.2 3.6 0 1.2 1.2 0 .6 1.2 1.2 .6 0 1.2 1.2 0 .6 1.2 1.2 3.6 0 1.2 1.2 0 .6 1.2 1.2 .6 0 1.2 1.2 0 .6 1.2 1.2 51.6 0 1.2 -1.2 0 -.6 1.2 -1.2 3.6 0 1.2 -1.2 0 -.6 1.2 -1.2 6.6 0 1.2 -1.2 0 -.6 1.2 -1.2 .6 0 1.2 -1.2 0 -.6 1.2 -1.2 39.6 0 1.2 -1.2 0 -10 -.8 -.8 -1.3 0 -.9 -.9 0 -1.3 -.8 -.8 -1.3 0 -.9 -.9 0 -4.6 -.5 -.5 -1.8 0 -.7 -.7 0 -1.8 -.5 -.5 -1.9 0 -.6 -.6 0 -2 -.4 -.4 -2 0 -.6 -.6 0 -2.1 -.3 -.3 -5 0 -.7 -.7 0 -1.9 -.4 -.4 -2 0 -.6 -.6 0 -2 -.4 -.4 -2.1 0 -.5 -.5 0 -2.2 -.3 -.3 -2.2 0 -.5 -.5 0 -5.2 -.3 -.3 -2.4 0 -.3 -.3 0 -2.4 .3 -.3 8.1 0 .6 .6 0 5.1 .3 .3 5.1 0 .6 .6 0 2.1 .3 .3 2.2 0 .5 .5 0 2.2 .3 .3 2.2 0 .5 .5 0 2.2 .3 .3 5 0 .7 .7 0 1.8 .5 .5 4.7 0 .8 .8 0 4.8 .4 .4 10.6 0 1 1 0 1.1 .9 .9 1.1 0 1 1 0 1.1 .9 .9 4 0 1.1 1.1 0 .9 1 1 .9 0 1.1 1.1 0 .8 1.1 1.1 9.7 0 1.2 -1.2 0 -6.6 1.2 -1.2 .6 0 1.2 -1.2 0 -.6 1.2 -1.2 .6 0 1.2 -1.2 0 -3.6 1.2 -1.2 3.6 0 1.2 -1.2 0 -3.6 1.2 -1.2 .6 0 1.2 -1.2 0 -.6 1.2 -1.2 .6 0 1.2 -1.2 0 -3.6 1.2 -1.2 .6 0 1.2 -1.2 0 -.6 1.2 -1.2 .6 0 1.2 -1.2 0 -.6 1.2 -1.2 .6 0 1.2 -1.2 0 -.6 1.2 -1.2 .6 0 1.2 -1.2 0 -.6 1.2 -1.2 3.6 0 1.2 -1.2 0 -.6 1.2 -1.2 1.8 0M1064.5 371.5l-2.3 0 -.7 -.7 0 -1.4 -.9 -.9 -4.5 0 -.6 -.6 0 -1.7 -.7 -.7 -1.7 0 -.6 -.6 0 -1.6 -.8 -.8 -1.6 0 -.6 .6 0 4.6 .8 .8 1.6 0 .6 .6 0 1.6 .8 .8 1.5 0 .7 .7 0 4.3 1 1 1.1 0 .9 .9 0 1.1 1 1 1.1 0 .9 .9 0 1.1 1 1 2 0M1043.9 359.5l-.4 .4 0 1.9 .7 .7 1.8 0 .5 -.5 0 -1.9 -.6 -.6zM749.8 425.5l-.3 .3 0 2.4 .3 .3 2.4 0 .3 -.3 0 -2.4 -.3 -.3zM446.5 743.5l0 -4.8 -1.2 -1.2 -.6 0 -1.2 -1.2 0 -9.6 -1.2 -1.2 -.6 0 -1.2 -1.2 0 -3.6 -1.2 -1.2 -.6 0 -1.2 -1.2 0 -12.6 -1.2 -1.2 -.6 0 -1.2 -1.2 0 -3.6 -1.2 -1.2 -.6 0 -1.2 -1.2 0 -12.6 -1.2 -1.2 -.6 0 -1.2 -1.2 0 -3.6 -1.2 -1.2 -.6 0 -1.2 -1.2 0 -12.6 -1.2 -1.2 -.6 0 -1.2 -1.2 0 -3.6 -1.2 -1.2 -.6 0 -1.2 -1.2 0 -48.6 1.2 -1.2 .6 0 1.2 -1.2 0 -.6 1.2 -1.2 .6 0 1.2 -1.2 0 -.6 1.2 -1.2 6.6 0 1.2 -1.2 0 -.6 1.2 -1.2 48.6 0 1.2 1.2 0 .6 1.2 1.2 9.6 0 1.2 -1.2 0 -9.6 -1.2 -1.2 -.6 0 -1.2 -1.2 0 -6.6 1.2 -1.2 .6 0 1.2 -1.2 0 -3.6 1.2 -1.2 3.6 0 1.2 -1.2 0 -.6 1.2 -1.2 3.6 0 1.2 -1.2 0 -.6 1.2 -1.2 33.6 0 1.2 -1.2 0 -.6 1.2 -1.2 3.6 0 1.2 -1.2 0 -.6 1.2 -1.2 3.6 0 1.2 -1.2 0 -3.6 1.2 -1.2 3.6 0 1.2 -1.2 0 -.6 1.2 -1.2 3.6 0 1.2 -1.2 0 -.6 1.2 -1.2 15.6 0 1.2 -1.2 0 -.6 1.2 -1.2 3.6 0 1.2 -1.2 0 -.6 1.2 -1.2 6.6 0 1.2 -1.2 0 -.6 1.2 -1.2 .6 0 1.2 -1.2 0 -.6 1.2 -1.2 6.6 0 1.2 -1.2 0 -.6 1.2 -1.2 .6 0 1.2 -1.2 0 -.6 1.2 -1.2 9.6 0 1.2 -1.2 0 -.6 1.2 -1.2 9.6 0 1.2 1.2 0 .6 1.2 1.2 24.6 0 1.2 1.2 0 .6 1.2 1.2 3.6 0 1.2 1.2 0 .6 1.2 1.2 18.6 0 1.2 -1.2 0 -.6 1.2 -1.2 21.6 0 1.2 -1.2 0 -.6 1.2 -1.2 15.6 0 1.2 -1.2 0 -.6 1.2 -1.2 .6 0 1.2 -1.2 0 -3.6 1.2 -1.2 .6 0 1.2 -1.2 0 -12.6 1.2 -1.2 .6 0 1.2 -1.2 0 -6.8 -1 -1 -.8 0 -1.2 -1.2 0 -7 -.8 -.8 -1 0 -1.2 -1.2 0 -4 -.8 -.8 -1 0 -1.2 -1.2 0 -13.5 -.3 -.3 -2.1 0 -.6 -.6 0 -2.1 -.3 -.3 -1.8 0 -.9 -.9 0 -10.8 -.3 -.3 -2.4 0 -.3 -.3 0 -5.4 -.3 -.3 -2.3 0 -.4 -.4 0 -20.3 -.3 -.3 -2.4 0 -.3 -.3 0 -8.4 -.3 -.3 -2.4 0 -.3 -.3 0 -32.4 -.3 -.3 -2.4 0 -.3 -.3 0 -14.4 .3 -.3 2.4 0 .3 -.3 0 -8.4 -.3 -.3 -2.4 0 -.3 -.3 0 -2.4 -.3 -.3 -2.4 0 -.3 -.3 0 -5.4 .3 -.3 2.4 0 .3 -.3 0 -5.4 .3 -.3 2.4 0 .3 -.3 0 -2.4 .3 -.3 5.4 0 .3 .3 0 2.4 .3 .3 2.4 0 .3 .3 0 5.4 .3 .3 2.4 0 .3 .3 0 5.4 -.3 .3 -2.4 0 -.3 .3 0 5.4 .3 .3 2.4 0 .3 .3 0 8.4 .3 .3 2.4 0 .3 .3 0 11.4 .3 .3 2.4 0 .3 .3 0 5.4 .3 .3 2.4 0 .3 .3 0 8.4 .3 .3 2.4 0 .3 .3 0 11.4 .3 .3 2.4 0 .3 .3 0 5.4 .3 .3 2.4 0 .3 .3 0 17.4 .3 .3 2.4 0 .3 -.3 0 -2.4 .3 -.3 2.4 0 .3 -.3 0 -8.4 -.3 -.3 -2.4 0 -.3 -.3 0 -8.4 .3 -.3 2.4 0 .3 -.3 0 -5.4 -.3 -.3 -2.4 0 -.3 -.3 0 -2.4 .3 -.3 2.4 0 .3 -.3 0 -2.4 .3 -.3 2.4 0 .3 -.3 0 -2.4 -.3 -.3 -2.4 0 -.3 -.3 0 -8.4 .3 -.3 5.4 0 .3 .3 0 2.4 .3 .3 5.4 0 .3 -.3 0 -5.4 -.3 -.3 -5.4 0 -.3 -.3 0 -5.4 .3 -.3 11.4 0 .3 .3 0 5.4 -.3 .3 -2.4 0 -.3 .3 0 5.4 .3 .3 8.4 0 .3 .3 0 8.4 .3 .3 8.4 0 .3 .3 0 2.4 .3 .3 2.4 0 .3 .3 0 2.4 .3 .3 5.4 0 .3 .3 0 14.4 .3 .3 2.4 0 .3 .3 0 2.4 .3 .3 2.4 0 .3 .3 0 2.4 .3 .3 2.4 0 .3 .3 0 2.4 .3 .3 2.4 0 .3 -.3 0 -26.4 .3 -.3 2.4 0 .3 -.3 0 -14.4 .3 -.3 2.4 0 .3 -.3 0 -11.4 -.3 -.3 -2.4 0 -.3 -.3 0 -2.4 .3 -.3 2.4 0 .3 -.3 0 -11.4 -.3 -.3 -2.4 0 -.3 -.3 0 -8.4 .3 -.3 2.4 0 .3 -.3 0 -8.4 -.3 -.3 -2.4 0 -.3 -.3 0 -8.4 .3 -.3 2.4 0 .3 -.3 0 -2.4 .3 -.3 5.4 0 .3 .3 0 14.4 .3 .3 2.4 0 .3 .3 0 5.4 .3 .3 2.4 0 .3 .3 0 20.4 .3 .3 2.4 0 .3 .3 0 2.4 .3 .3 2.4 0 .3 .3 0 50.4 .3 .3 2.4 0 .3 .3 0 5.4 .3 .3 2.2 0 .5 .5 0 43.3 1.2 1.2 6.6 0 1.2 1.2 0 .6 1.2 1.2 6.6 0 1.2 1.2 0 .6 1.2 1.2 3.6 0 1.2 1.2 0 .6 1.2 1.2 3.6 0 1.2 1.2 0 .6 1.2 1.2 3.6 0 1.2 1.2 0 .6 1.2 1.2 27.6 0 1.2 -1.2 0 -.6 1.2 -1.2 36.6 0 1.2 -1.2 0 -.6 1.2 -1.2 3.6 0 1.2 1.2 0 .6 1.2 1.2 6.6 0 1.2 1.2 0 .6 1.2 1.2 6.6 0 1.2 -1.2 0 -.6 1.2 -1.2 6.6 0 1.2 -1.2 0 -.6 1.2 -1.2 3.6 0 1.2 -1.2 0 -.6 1.2 -1.2 3.6 0 1.2 -1.2 0 -.6 1.2 -1.2 6.6 0 1.2 -1.2 0 -16.1 -.7 -.7 -1.4 0 -.9 -.9 0 -4.5 -.6 -.6 -1.7 0 -.7 -.7 0 -1.8 -.5 -.5 -1.8 0 -.7 -.7 0 -7.9 -.4 -.4 -2.3 0 -.3 .3 0 2.3 .4 .4 8 0 .6 .6 0 2 .4 .4 4.9 0 .7 .7 0 1.7 .6 .6 1.7 0 .7 .7 0 1.7 .6 .6 1.6 0 .8 .8 0 4.6 .6 .6 4.4 0 1 1 0 1.1 .9 .9 1.1 0 1 1 0 1 1 1 .9 0 1.1 1.1 0 .9 1 1 .9 0 1.1 1.1 0 .8 1.1 1.1 3.7 0 1.2 1.2 0 .7 1.1 1.1 3.7 0 1.2 -1.2 0 -.6 1.2 -1.2 .6 0 1.2 -1.2 0 -3.6 1.2 -1.2 .6 0 1.2 -1.2 0 -.6 1.2 -1.2 .6 0 1.2 -1.2 0 -6.6 1.2 -1.2 .6 0 1.2 -1.2 0 -3.6 1.2 -1.2 .6 0 1.2 -1.2 0 -9.6 1.2 -1.2 .6 0 1.2 -1.2 0 -.6 1.2 -1.2 .6 0 1.2 -1.2 0 -3.6 1.2 -1.2 .6 0 1.2 -1.2 0 -.6 1.2 -1.2 .6 0 1.2 -1.2 0 -.6 1.2 -1.2 1.8 0M1064.5 374.5l-2.4 0 -.6 -.6 0 -1.7 -.7 -.7 -1.8 0 -.5 .5 0 1.8 .7 .7 1.7 0 .6 .6 0 1.6 .8 .8 2.2 0M758.8 362.5l-.3 .3 0 2.4 .3 .3 2.4 0 .3 .3 0 2.4 .3 .3 5.4 0 .3 -.3 0 -5.4 -.3 -.3zM959.8 425.5l-.3 .3 0 2.4 .3 .3 2.4 0 .3 -.3 0 -2.4 -.3 -.3zM965.8 431.5l-.3 .3 0 2.3 .4 .4 2.3 0 .3 -.3 0 -2.4 -.3 -.3zM980.8 440.5l-.3 .3 0 2.4 .3 .3 2.4 0 .3 -.3 0 -2.2 -.5 -.5zM455.5 743.5l0 -7.8 -1.2 -1.2 -.6 0 -1.2 -1.2 0 -3.6 -1.2 -1.2 -.6 0 -1.2 -1.2 0 -9.6 -1.2 -1.2 -.6 0 -1.2 -1.2 0 -3.6 -1.2 -1.2 -.6 0 -1.2 -1.2 0 -9.6 -1.2 -1.2 -.6 0 -1.2 -1.2 0 -6.6 -1.2 -1.2 -.6 0 -1.2 -1.2 0 -12.6 -1.2 -1.2 -.6 0 -1.2 -1.2 0 -3.6 -1.2 -1.2 -.6 0 -1.2 -1.2 0 -60.6 1.2 -1.2 .6 0 1.2 -1.2 0 -.6 1.2 -1.2 6.6 0 1.2 -1.2 0 -.6 1.2 -1.2 18.6 0 1.2 1.2 0 .6 1.2 1.2 30.6 0 1.2 1.2 0 .6 1.2 1.2 .6 0 1.2 -1.2 0 -.6 1.2 -1.2 .6 0 1.2 1.2 0 .6 1.2 1.2 .6 0 1.2 -1.2 0 -.6 1.2 -1.2 6.6 0 1.2 -1.2 0 -15.6 1.2 -1.2 3.6 0 1.2 -1.2 0 -.6 1.2 -1.2 3.6 0 1.2 -1.2 0 -.6 1.2 -1.2 27.6 0 1.2 -1.2 0 -.6 1.2 -1.2 .6 0 1.2 -1.2 0 -.6 1.2 -1.2 .6 0 1.2 -1.2 0 -.6 1.2 -1.2 .6 0 1.2 -1.2 0 -.6 1.2 -1.2 .6 0 1.2 -1.2 0 -.6 1.2 -1.2 3.6 0 1.2 -1.2 0 -.6 1.2 -1.2 9.6 0 1.2 -1.2 0 -.6 1.2 -1.2 3.6 0 1.2 -1.2 0 -.6 1.2 -1.2 9.6 0 1.2 -1.2 0 -.6 1.2 -1.2 3.6 0 1.2 -1.2 0 -.6 1.2 -1.2 6.6 0 1.2 -1.2 0 -.6 1.2 -1.2 3.6 0 1.2 -1.2 0 -.6 1.2 -1.2 27.6 0 1.2 1.2 0 .6 1.2 1.2 6.6 0 1.2 1.2 0 .6 1.2 1.2 24.6 0 1.2 -1.2 0 -.6 1.2 -1.2 6.6 0 1.2 -1.2 0 -.6 1.2 -1.2 15.6 0 1.2 1.2 0 .6 1.2 1.2 3.6 0 1.2 1.2 0 .6 1.2 1.2 15.6 0 1.2 -1.2 0 -3.6 1.2 -1.2 3.6 0 1.2 -1.2 0 -3.6 1.2 -1.2 .6 0 1.2 -1.2 0 -3.6 1.2 -1.2 .6 0 1.2 -1.2 0 -16 -.8 -.8 -1.1 0 -1.1 -1.1 0 -4.1 -.8 -.8 -1.1 0 -1.1 -1.1 0 -7.4 -.5 -.5 -1.5 0 -1 -1 0 -1.2 -.8 -.8 -1 0 -1.2 -1.2 0 -10.5 -.3 -.3 -1.9 0 -.8 -.8 0 -4.9 -.3 -.3 -1.9 0 -.8 -.8 0 -10.9 -.3 -.3 -2.4 0 -.3 -.3 0 -5.4 -.3 -.3 -2.4 0 -.3 -.3 0 -8.4 -.3 -.3 -2.4 0 -.3 -.3 0 -2.4 -.3 -.3 -2.3 0 -.4 -.4 0 -29.3 -.3 -.3 -2.4 0 -.3 -.3 0 -5.4 -.3 -.3 -2.4 0 -.3 -.3 0 -53.4 -.3 -.3 -5.4 0 -.3 -.3 0 -2.4 .3 -.3 2.4 0 .3 -.3 0 -2.4 .3 -.3 2.4 0 .3 -.3 0 -5.4 .3 -.3 5.4 0 .3 .3 0 2.4 .3 .3 2.4 0 .3 .3 0 14.4 .3 .3 2.4 0 .3 .3 0 11.4 .3 .3 2.4 0 .3 .3 0 11.4 .3 .3 2.4 0 .3 .3 0 5.4 .3 .3 2.4 0 .3 .3 0 8.4 .3 .3 2.4 0 .3 .3 0 11.4 .3 .3 2.4 0 .3 .3 0 8.4 .3 .3 2.4 0 .3 .3 0 11.4 .3 .3 2.4 0 .3 .3 0 2.4 .3 .3 2.4 0 .3 -.3 0 -26.4 .3 -.3 2.4 0 .3 -.3 0 -2.4 .3 -.3 2.4 0 .3 .3 0 2.4 .3 .3 5.4 0 .3 -.3 0 -2.4 -.3 -.3 -2.4 0 -.3 -.3 0 -2.4 -.3 -.3 -2.4 0 -.3 -.3 0 -5.4 -.3 -.3 -2.4 0 -.3 -.3 0 -5.4 .3 -.3 17.4 0 .3 .3 0 2.4 .3 .3 2.4 0 .3 .3 0 8.4 .3 .3 5.4 0 .3 .3 0 2.4 -.3 .3 -2.4 0 -.3 .3 0 5.4 .3 .3 2.4 0 .3 -.3 0 -2.4 .3 -.3 11.4 0 .3 .3 0 5.4 -.3 .3 -2.4 0 -.3 .3 0 5.4 .3 .3 2.4 0 .3 .3 0 2.4 .3 .3 2.4 0 .3 .3 0 2.4 .3 .3 2.4 0 .3 .3 0 8.4 .3 .3 2.4 0 .3 .3 0 2.4 .3 .3 2.4 0 .3 -.3 0 -23.4 .3 -.3 2.4 0 .3 -.3 0 -17.4 .3 -.3 2.4 0 .3 -.3 0 -47.4 .3 -.3 2.4 0 .3 -.3 0 -5.4 -.3 -.3 -2.4 0 -.3 -.3 0 -2.4 -.3 -.3 -2.4 0 -.3 -.3 0 -2.4 .3 -.3 2.4 0 .3 -.3 0 -5.4 .3 -.3 5.4 0 .3 .3 0 17.4 .3 .3 2.4 0 .3 .3 0 5.4 .3 .3 2.4 0 .3 .3 0 17.4 .3 .3 2.4 0 .3 .3 0 20.4 .3 .3 2.4 0 .3 .3 0 35.4 .3 .3 2.4 0 .3 .3 0 49.6 -1.1 1.1 -1.4 0 -.5 .5 0 16.5 1 1 9.8 0 1.2 -1.2 0 -.6 1.2 -1.2 3.6 0 1.2 1.2 0 .6 1.2 1.2 9.6 0 1.2 1.2 0 .6 1.2 1.2 .6 0 1.2 1.2 0 .6 1.2 1.2 6.6 0 1.2 1.2 0 .6 1.2 1.2 9.6 0 1.2 -1.2 0 -.6 1.2 -1.2 9.6 0 1.2 -1.2 0 -.6 1.2 -1.2 9.6 0 1.2 -1.2 0 -.6 1.2 -1.2 9.6 0 1.2 1.2 0 .6 1.2 1.2 9.6 0 1.2 1.2 0 .6 1.2 1.2 21.6 0 1.2 1.2 0 .6 1.2 1.2 3.6 0 1.2 1.2 0 .6 1.2 1.2 18.6 0 1.2 -1.2 0 -.6 1.2 -1.2 .6 0 1.2 -1.2 0 -.6 1.2 -1.2 21.6 0 1.2 -1.2 0 -15.9 -.9 -.9 -1.1 0 -1 -1 0 -1.1 -.9 -.9 -1.1 0 -1 -1 0 -7.3 -.7 -.7 -1.4 0 -.9 -.9 0 -4.5 -.6 -.6 -1.6 0 -.8 -.8 0 -7.9 .3 -.3 2.2 0 .5 .5 0 2.1 .4 .4 2 0 .6 .6 0 1.9 .5 .5 1.8 0 .7 .7 0 1.7 .6 .6 1.6 0 .8 .8 0 4.6 .6 .6 4.5 0 .9 .9 0 4.3 .8 .8 1.3 0 .9 .9 0 1.2 .9 .9 1.1 0 1 1 0 7.1 .9 .9 1.1 0 1 1 0 1 1 1 .9 0 1.1 1.1 0 6.9 1 1 3.8 0 1.2 1.2 0 3.6 1.2 1.2 .6 0 1.2 -1.2 0 -.6 1.2 -1.2 .6 0 1.2 -1.2 0 -.6 1.2 -1.2 .6 0 1.2 -1.2 0 -.6 1.2 -1.2 .6 0 1.2 -1.2 0 -.6 1.2 -1.2 .6 0 1.2 -1.2 0 -3.6 1.2 -1.2 3.6 0 1.2 -1.2 0 -.6 1.2 -1.2 .6 0 1.2 -1.2 0 -.6 1.2 -1.2 1.8 0M761.8 362.5l-.3 .3 0 2.4 .3 .3 2.4 0 .3 -.3 0 -2.4 -.3 -.3zM767.8 380.5l-.3 .3 0 2.4 .3 .3 2.4 0 .3 -.3 0 -2.4 -.3 -.3zM755.8 443.5l-.3 .3 0 2.4 .3 .3 2.4 0 .3 -.3 0 -2.4 -.3 -.3zM992.8 452.5l-.3 .3 0 2.2 .5 .5 2.2 0 .3 -.3 0 -2.3 -.4 -.4zM995.8 455.5l-.3 .3 0 2.1 .6 .6 2 0 .4 -.4 0 -2.3 -.3 -.3zM464.5 743.5l0 -1.8 -1.2 -1.2 -.6 0 -1.2 -1.2 0 -9.6 -1.2 -1.2 -.6 0 -1.2 -1.2 0 -6.6 -1.2 -1.2 -.6 0 -1.2 -1.2 0 -9.6 -1.2 -1.2 -.6 0 -1.2 -1.2 0 -3.6 -1.2 -1.2 -.6 0 -1.2 -1.2 0 -12.6 -1.2 -1.2 -.6 0 -1.2 -1.2 0 -6.6 -1.2 -1.2 -.6 0 -1.2 -1.2 0 -63.6 1.2 -1.2 .6 0 1.2 -1.2 0 -.6 1.2 -1.2 .6 0 1.2 -1.2 0 -.6 1.2 -1.2 .6 0 1.2 -1.2 0 -.6 1.2 -1.2 27.6 0 1.2 1.2 0 .6 1.2 1.2 12.6 0 1.2 1.2 0 .6 1.2 1.2 30.6 0 1.2 -1.2 0 -.6 1.2 -1.2 .6 0 1.2 -1.2 0 -.6 1.2 -1.2 9.6 0 1.2 -1.2 0 -.6 1.2 -1.2 3.6 0 1.2 -1.2 0 -.6 1.2 -1.2 6.6 0 1.2 -1.2 0 -.6 1.2 -1.2 .6 0 1.2 -1.2 0 -.6 1.2 -1.2 3.6 0 1.2 -1.2 0 -.6 1.2 -1.2 .6 0 1.2 -1.2 0 -.6 1.2 -1.2 .6 0 1.2 -1.2 0 -.6 1.2 -1.2 .6 0 1.2 -1.2 0 -.6 1.2 -1.2 .6 0 1.2 -1.2 0 -.6 1.2 -1.2 3.6 0 1.2 -1.2 0 -.6 1.2 -1.2 3.6 0 1.2 -1.2 0 -.6 1.2 -1.2 3.6 0 1.2 -1.2 0 -.6 1.2 -1.2 9.6 0 1.2 -1.2 0 -.6 1.2 -1.2 3.6 0 1.2 -1.2 0 -.6 1.2 -1.2 6.6 0 1.2 -1.2 0 -.6 1.2 -1.2 3.6 0 1.2 -1.2 0 -.6 1.2 -1.2 18.6 0 1.2 1.2 0 .6 1.2 1.2 .6 0 1.2 1.2 0 .6 1.2 1.2 3.6 0 1.2 1.2 0 .6 1.2 1.2 .6 0 1.2 1.2 0 .6 1.2 1.2 12.6 0 1.2 -1.2 0 -.6 1.2 -1.2 3.6 0 1.2 -1.2 0 -.6 1.2 -1.2 6.6 0 1.2 -1.2 0 -.6 1.2 -1.2 3.6 0 1.2 -1.2 0 -.6 1.2 -1.2 21.6 0 1.2 1.2 0 .6 1.2 1.2 3.6 0 1.2 1.2 0 .6 1.2 1.2 15.6 0 1.2 -1.2 0 -3.6 1.2 -1.2 3.6 0 1.2 -1.2 0 -3.6 1.2 -1.2 .6 0 1.2 -1.2 0 -.6 1.2 -1.2 .6 0 1.2 -1.2 0 -6.6 1.2 -1.2 .6 0 1.2 -1.2 0 -6.9 -.9 -.9 -.9 0 -1.2 -1.2 0 -4.2 -.6 -.6 -1.3 0 -1.1 -1.1 0 -1.1 -.8 -.8 -1.1 0 -1.1 -1.1 0 -10.6 -.3 -.3 -1.9 0 -.8 -.8 0 -1.7 -.5 -.5 -1.5 0 -1 -1 0 -7.7 -.3 -.3 -1.9 0 -.8 -.8 0 -4.9 -.3 -.3 -1.9 0 -.8 -.8 0 -7.9 -.3 -.3 -2.1 0 -.6 -.6 0 -5.1 -.3 -.3 -2.1 0 -.6 -.6 0 -11.1 -.3 -.3 -2.4 0 -.3 -.3 0 -5.4 -.3 -.3 -2.4 0 -.3 -.3 0 -8.4 -.3 -.3 -2.4 0 -.3 -.3 0 -8.4 -.3 -.3 -2.4 0 -.3 -.3 0 -23.4 -.3 -.3 -2.4 0 -.3 -.3 0 -5.4 -.3 -.3 -2.4 0 -.3 -.3 0 -44.4 .3 -.3 2.4 0 .3 -.3 0 -2.4 -.3 -.3 -2.4 0 -.3 -.3 0 -2.4 -.3 -.3 -2.4 0 -.3 -.3 0 -2.4 .3 -.3 2.4 0 .3 -.3 0 -8.4 .3 -.3 5.4 0 .3 .3 0 5.4 .3 .3 2.4 0 .3 .3 0 2.4 -.3 .3 -2.4 0 -.3 .3 0 11.4 .3 .3 2.4 0 .3 .3 0 2.4 .3 .3 2.4 0 .3 .3 0 17.4 .3 .3 5.4 0 .3 .3 0 11.4 .3 .3 2.4 0 .3 .3 0 11.4 .3 .3 2.4 0 .3 .3 0 5.4 .3 .3 2.4 0 .3 .3 0 14.4 .3 .3 2.4 0 .3 .3 0 8.4 .3 .3 5.4 0 .3 .3 0 8.4 .3 .3 5.4 0 .3 -.3 0 -8.4 .3 -.3 2.4 0 .3 -.3 0 -2.4 -.3 -.3 -8.4 0 -.3 -.3 0 -2.4 .3 -.3 2.4 0 .3 -.3 0 -11.4 .3 -.3 2.4 0 .3 -.3 0 -2.4 .3 -.3 2.4 0 .3 -.3 0 -2.4 .3 -.3 2.4 0 .3 -.3 0 -14.4 .3 -.3 2.4 0 .3 -.3 0 -2.4 .3 -.3 2.4 0 .3 -.3 0 -2.4 .3 -.3 2.4 0 .3 .3 0 2.4 .3 .3 2.4 0 .3 .3 0 2.4 -.3 .3 -2.4 0 -.3 .3 0 2.4 .3 .3 2.4 0 .3 .3 0 11.4 .3 .3 11.4 0 .3 .3 0 5.4 .3 .3 2.4 0 .3 .3 0 2.4 .3 .3 2.4 0 .3 .3 0 2.4 .3 .3 2.4 0 .3 .3 0 5.4 -.3 .3 -2.4 0 -.3 .3 0 2.4 .3 .3 2.4 0 .3 .3 0 2.4 .3 .3 2.4 0 .3 .3 0 5.4 .3 .3 2.4 0 .3 .3 0 5.4 .3 .3 2.4 0 .3 -.3 0 -23.4 .3 -.3 2.4 0 .3 -.3 0 -5.4 -.3 -.3 -2.4 0 -.3 -.3 0 -2.4 .3 -.3 2.4 0 .3 -.3 0 -14.4 .3 -.3 2.4 0 .3 -.3 0 -53.4 .3 -.3 5.4 0 .3 .3 0 5.4 .3 .3 2.4 0 .3 .3 0 5.4 .3 .3 2.4 0 .3 .3 0 14.4 .3 .3 2.4 0 .3 .3 0 32.4 .3 .3 2.4 0 .3 .3 0 23.4 .3 .3 2.4 0 .3 .3 0 29.1 -.6 .6 -2.1 0 -.3 .3 0 40.6 -1.1 1.1 -1.2 0 -.7 .7 0 10.1 1.2 1.2 30.6 0 1.2 1.2 0 .6 1.2 1.2 24.6 0 1.2 -1.2 0 -.6 1.2 -1.2 18.6 0 1.2 -1.2 0 -.6 1.2 -1.2 9.6 0 1.2 1.2 0 .6 1.2 1.2 18.6 0 1.2 1.2 0 .6 1.2 1.2 9.6 0 1.2 1.2 0 .6 1.2 1.2 12.6 0 1.2 1.2 0 .6 1.2 1.2 15.6 0 1.2 -1.2 0 -.6 1.2 -1.2 21.6 0 1.2 1.2 0 .6 1.2 1.2 3.6 0 1.2 1.2 0 .6 1.2 1.2 6.6 0 1.2 1.2 0 .6 1.2 1.2 27.6 0 1.2 -1.2 0 -.6 1.2 -1.2 4.8 0M815.8 335.5l-.3 .3 0 8.4 .3 .3 2.4 0 .3 -.3 0 -2.4 .3 -.3 2.4 0 .3 -.3 0 -5.4 -.3 -.3zM758.8 410.5l-.3 .3 0 2.4 .3 .3 2.4 0 .3 -.3 0 -2.4 -.3 -.3zM1007.9 470.5l-.4 .4 0 4.9 .7 .7 1.8 0 .5 -.5 0 -4.9 -.6 -.6zM1011.0 476.5l-.5 .5 0 1.8 .7 .7 1.8 0 .5 -.5 0 -1.9 -.6 -.6zM1014.0 479.5l-.5 .5 0 1.9 .6 .6 1.8 0 .6 -.6 0 -1.7 -.7 -.7zM1017.1 485.5l-.6 .6 0 1.7 .7 .7 1.7 0 .6 -.6 0 -1.7 -.7 -.7zM473.5 743.5l0 -4.8 -1.2 -1.2 -.6 0 -1.2 -1.2 0 -3.6 -1.2 -1.2 -.6 0 -1.2 -1.2 0 -12.6 -1.2 -1.2 -.6 0 -1.2 -1.2 0 -3.6 -1.2 -1.2 -.6 0 -1.2 -1.2 0 -9.6 -1.2 -1.2 -.6 0 -1.2 -1.2 0 -6.6 -1.2 -1.2 -.6 0 -1.2 -1.2 0 -66.6 1.2 -1.2 .6 0 1.2 -1.2 0 -3.6 1.2 -1.2 .6 0 1.2 -1.2 0 -3.6 1.2 -1.2 6.6 0 1.2 -1.2 0 -.6 1.2 -1.2 9.6 0 1.2 1.2 0 .6 1.2 1.2 30.6 0 1.2 1.2 0 .6 1.2 1.2 .6 0 1.2 -1.2 0 -.6 1.2 -1.2 .6 0 1.2 1.2 0 .6 1.2 1.2 6.6 0 1.2 1.2 0 .6 1.2 1.2 15.6 0 1.2 1.2 0 .6 1.2 1.2 18.6 0 1.2 -1.2 0 -.6 1.2 -1.2 3.6 0 1.2 -1.2 0 -3.6 1.2 -1.2 3.6 0 1.2 -1.2 0 -3.6 1.2 -1.2 .6 0 1.2 -1.2 0 -.6 1.2 -1.2 .6 0 1.2 -1.2 0 -.6 1.2 -1.2 3.6 0 1.2 -1.2 0 -.6 1.2 -1.2 .6 0 1.2 -1.2 0 -.6 1.2 -1.2 27.6 0 1.2 -1.2 0 -.6 1.2 -1.2 .6 0 1.2 -1.2 0 -.6 1.2 -1.2 3.6 0 1.2 -1.2 0 -3.6 1.2 -1.2 3.6 0 1.2 -1.2 0 -.6 1.2 -1.2 .6 0 1.2 -1.2 0 -.6 1.2 -1.2 3.6 0 1.2 1.2 0 .6 1.2 1.2 .6 0 1.2 1.2 0 .6 1.2 1.2 15.6 0 1.2 1.2 0 .6 1.2 1.2 9.6 0 1.2 -1.2 0 -.6 1.2 -1.2 9.6 0 1.2 -1.2 0 -.6 1.2 -1.2 .6 0 1.2 -1.2 0 -.6 1.2 -1.2 6.6 0 1.2 -1.2 0 -.6 1.2 -1.2 3.6 0 1.2 -1.2 0 -.6 1.2 -1.2 3.6 0 1.2 1.2 0 .6 1.2 1.2 6.6 0 1.2 1.2 0 .6 1.2 1.2 24.6 0 1.2 -1.2 0 -.6 1.2 -1.2 .6 0 1.2 -1.2 0 -.6 1.2 -1.2 .6 0 1.2 -1.2 0 -.6 1.2 -1.2 .6 0 1.2 -1.2 0 -.6 1.2 -1.2 .6 0 1.2 -1.2 0 -3.6 1.2 -1.2 .6 0 1.2 -1.2 0 -3.6 1.2 -1.2 .6 0 1.2 -1.2 0 -10.1 -.7 -.7 -4.1 0 -1.2 -1.2 0 -7.4 -.4 -.4 -1.7 0 -.9 -.9 0 -1.6 -.5 -.5 -1.5 0 -1 -1 0 -4.7 -.3 -.3 -1.9 0 -.8 -.8 0 -1.8 -.4 -.4 -1.6 0 -1 -1 0 -10.7 -.3 -.3 -2.2 0 -.5 -.5 0 -2.2 -.3 -.3 -1.9 0 -.8 -.8 0 -7.9 -.3 -.3 -2.2 0 -.5 -.5 0 -5.2 -.3 -.3 -2.1 0 -.6 -.6 0 -8.1 -.3 -.3 -2.4 0 -.3 -.3 0 -5.4 -.3 -.3 -2.4 0 -.3 -.3 0 -8.4 -.3 -.3 -2.4 0 -.3 -.3 0 -8.4 -.3 -.3 -2.4 0 -.3 -.3 0 -5.4 -.3 -.3 -2.4 0 -.3 -.3 0 -11.4 -.3 -.3 -2.4 0 -.3 -.3 0 -23.4 -.3 -.3 -2.4 0 -.3 -.3 0 -5.4 -.3 -.3 -2.4 0 -.3 -.3 0 -2.4 .3 -.3 2.4 0 .3 -.3 0 -5.4 -.3 -.3 -2.4 0 -.3 -.3 0 -26.4 .3 -.3 2.4 0 .3 -.3 0 -2.4 .3 -.3 2.4 0 .3 .3 0 5.4 .3 .3 2.4 0 .3 .3 0 2.4 .3 .3 2.4 0 .3 .3 0 11.4 .3 .3 5.4 0 .3 .3 0 17.4 .3 .3 2.4 0 .3 .3 0 8.4 .3 .3 2.4 0 .3 .3 0 5.4 .3 .3 2.4 0 .3 .3 0 5.4 -.3 .3 -2.4 0 -.3 .3 0 2.4 .3 .3 2.4 0 .3 .3 0 5.4 .3 .3 2.4 0 .3 .3 0 5.4 .3 .3 2.4 0 .3 .3 0 2.4 .3 .3 2.4 0 .3 .3 0 5.4 .3 .3 2.4 0 .3 .3 0 2.4 .3 .3 2.4 0 .3 -.3 0 -5.4 .3 -.3 2.4 0 .3 -.3 0 -2.4 .3 -.3 2.4 0 .3 -.3 0 -8.4 -.3 -.3 -2.4 0 -.3 -.3 0 -2.4 -.3 -.3 -2.4 0 -.3 -.3 0 -8.4 .3 -.3 5.4 0 .3 -.3 0 -8.4 .3 -.3 2.4 0 .3 -.3 0 -5.4 -.3 -.3 -2.4 0 -.3 -.3 0 -2.4 .3 -.3 5.4 0 .3 .3 0 5.4 .3 .3 2.4 0 .3 .3 0 2.4 .3 .3 2.4 0 .3 .3 0 2.4 .3 .3 5.4 0 .3 .3 0 5.4 .3 .3 5.4 0 .3 .3 0 5.4 .3 .3 5.4 0 .3 .3 0 5.4 -.3 .3 -2.4 0 -.3 .3 0 2.4 -.3 .3 -2.4 0 -.3 .3 0 8.4 .3 .3 5.4 0 .3 -.3 0 -2.4 .3 -.3 5.4 0 .3 .3 0 11.4 .3 .3 2.4 0 .3 .3 0 2.4 .3 .3 2.4 0 .3 -.3 0 -20.4 .3 -.3 2.4 0 .3 -.3 0 -20.4 .3 -.3 2.4 0 .3 -.3 0 -32.4 .3 -.3 2.4 0 .3 -.3 0 -8.4 -.3 -.3 -2.4 0 -.3 -.3 0 -5.4 .3 -.3 2.4 0 .3 -.3 0 -11.4 -.3 -.3 -2.4 0 -.3 -.3 0 -2.4 .3 -.3 2.4 0 .3 -.3 0 -2.4 .3 -.3 2.4 0 .3 .3 0 11.4 .3 .3 2.4 0 .3 .3 0 5.4 .3 .3 2.4 0 .3 .3 0 14.4 .3 .3 2.4 0 .3 .3 0 5.4 -.3 .3 -2.4 0 -.3 .3 0 5.4 .3 .3 2.4 0 .3 .3 0 20.4 .3 .3 2.4 0 .3 .3 0 5.4 -.3 .3 -2.4 0 -.3 .3 0 5.4 .3 .3 2.4 0 .3 .3 0 61.9 -.8 .8 -1.9 0 -.3 .3 0 19.7 -1 1 -1.6 0 -.4 .4 0 13.5 1.1 1.1 9.7 0 1.2 1.2 0 .6 1.2 1.2 9.6 0 1.2 1.2 0 .6 1.2 1.2 3.6 0 1.2 1.2 0 .6 1.2 1.2 24.6 0 1.2 -1.2 0 -.6 1.2 -1.2 15.6 0 1.2 -1.2 0 -.6 1.2 -1.2 15.6 0 1.2 1.2 0 .6 1.2 1.2 6.6 0 1.2 1.2 0 .6 1.2 1.2 18.6 0 1.2 1.2 0 .6 1.2 1.2 18.6 0 1.2 -1.2 0 -.6 1.2 -1.2 33.6 0 1.2 1.2 0 .6 1.2 1.2 3.6 0 1.2 1.2 0 .6 1.2 1.2 6.6 0 1.2 1.2 0 .6 1.2 1.2 6.6 0 1.2 1.2 0 .6 1.2 1.2 31.8 0M815.8 335.5l-.3 .3 0 5.4 .3 .3 2.4 0 .3 -.3 0 -5.4 -.3 -.3zM719.8 347.5l-.3 .3 0 8.4 .3 .3 5.4 0 .3 -.3 0 -8.4 -.3 -.3zM779.8 422.5l-.3 .3 0 2.4 .3 .3 2.4 0 .3 -.3 0 -2.4 -.3 -.3zM761.8 458.5l-.3 .3 0 2.4 .3 .3 2.4 0 .3 -.3 0 -2.4 -.3 -.3zM764.8 461.5l-.3 .3 0 2.4 .3 .3 2.4 0 .3 -.3 0 -2.4 -.3 -.3zM479.5 743.5l0 -13.8 -1.2 -1.2 -.6 0 -1.2 -1.2 0 -3.6 -1.2 -1.2 -.6 0 -1.2 -1.2 0 -9.6 -1.2 -1.2 -.6 0 -1.2 -1.2 0 -6.6 -1.2 -1.2 -.6 0 -1.2 -1.2 0 -72.6 1.2 -1.2 .6 0 1.2 -1.2 0 -.6 1.2 -1.2 .6 0 1.2 -1.2 0 -6.6 1.2 -1.2 3.6 0 1.2 -1.2 0 -.6 1.2 -1.2 6.6 0 1.2 -1.2 0 -.6 1.2 -1.2 .6 0 1.2 1.2 0 .6 1.2 1.2 21.6 0 1.2 1.2 0 .6 1.2 1.2 .6 0 1.2 -1.2 0 -.6 1.2 -1.2 .6 0 1.2 1.2 0 .6 1.2 1.2 9.6 0 1.2 1.2 0 .6 1.2 1.2 3.6 0 1.2 1.2 0 .6 1.2 1.2 15.6 0 1.2 1.2 0 .6 1.2 1.2 3.6 0 1.2 1.2 0 .6 1.2 1.2 57.6 0 1.2 -1.2 0 -.6 1.2 -1.2 3.6 0 1.2 -1.2 0 -.6 1.2 -1.2 3.6 0 1.2 -1.2 0 -.6 1.2 -1.2 3.6 0 1.2 -1.2 0 -.6 1.2 -1.2 3.6 0 1.2 -1.2 0 -3.6 1.2 -1.2 3.6 0 1.2 -1.2 0 -3.6 1.2 -1.2 3.6 0 1.2 -1.2 0 -.6 1.2 -1.2 3.6 0 1.2 -1.2 0 -.6 1.2 -1.2 30.6 0 1.2 -1.2 0 -.6 1.2 -1.2 .6 0 1.2 -1.2 0 -.6 1.2 -1.2 6.6 0 1.2 -1.2 0 -.6 1.2 -1.2 .6 0 1.2 -1.2 0 -.6 1.2 -1.2 60.6 0 1.2 -1.2 0 -.6 1.2 -1.2 .6 0 1.2 -1.2 0 -.6 1.2 -1.2 3.6 0 1.2 -1.2 0 -3.7 -1.1 -1.1 -.7 0 -1.2 -1.2 0 -.7 -1.1 -1.1 -.7 0 -1.2 -1.2 0 -9.9 -.9 -.9 -1 0 -1.1 -1.1 0 -13 -.9 -.9 -.9 0 -1.2 -1.2 0 -4.1 -.7 -.7 -1.2 0 -1.1 -1.1 0 -4.6 -.3 -.3 -1.9 0 -.8 -.8 0 -4.9 -.3 -.3 -2.2 0 -.5 -.5 0 -2.2 -.3 -.3 -2.1 0 -.6 -.6 0 -5.1 -.3 -.3 -2.3 0 -.4 -.4 0 -2.3 -.3 -.3 -1.9 0 -.8 -.8 0 -10.9 -.3 -.3 -2.4 0 -.3 -.3 0 -2.4 -.3 -.3 -2.2 0 -.5 -.5 0 -8.2 -.3 -.3 -2.4 0 -.3 -.3 0 -5.4 -.3 -.3 -2.4 0 -.3 -.3 0 -8.4 -.3 -.3 -2.4 0 -.3 -.3 0 -8.4 -.3 -.3 -2.4 0 -.3 -.3 0 -5.4 -.3 -.3 -2.4 0 -.3 -.3 0 -8.4 -.3 -.3 -2.4 0 -.3 -.3 0 -11.4 -.3 -.3 -2.4 0 -.3 -.3 0 -5.4 -.3 -.3 -2.4 0 -.3 -.3 0 -8.4 .3 -.3 2.4 0 .3 -.3 0 -5.4 -.3 -.3 -2.4 0 -.3 -.3 0 -8.4 -.3 -.3 -2.4 0 -.3 -.3 0 -14.4 -.3 -.3 -2.4 0 -.3 -.3 0 -8.4 .3 -.3 2.4 0 .3 -.3 0 -2.4 -.3 -.3 -2.4 0 -.3 -.3 0 -5.4 .3 -.3 2.4 0 .3 -.3 0 -2.4 .3 -.3 2.4 0 .3 .3 0 2.4 .3 .3 5.4 0 .3 .3 0 11.4 .3 .3 2.4 0 .3 .3 0 2.4 .3 .3 2.4 0 .3 .3 0 20.4 .3 .3 2.4 0 .3 .3 0 5.4 .3 .3 2.4 0 .3 .3 0 14.4 .3 .3 2.4 0 .3 .3 0 2.4 .3 .3 2.4 0 .3 .3 0 8.4 .3 .3 2.4 0 .3 .3 0 2.4 .3 .3 2.4 0 .3 .3 0 5.4 .3 .3 2.4 0 .3 .3 0 2.4 .3 .3 2.4 0 .3 .3 0 8.4 .3 .3 2.4 0 .3 .3 0 5.4 .3 .3 2.4 0 .3 .3 0 8.4 .3 .3 2.4 0 .3 .3 0 2.4 .3 .3 2.4 0 .3 -.3 0 -14.4 -.3 -.3 -2.4 0 -.3 -.3 0 -2.4 -.3 -.3 -2.4 0 -.3 -.3 0 -8.4 -.3 -.3 -2.4 0 -.3 -.3 0 -8.4 .3 -.3 2.4 0 .3 -.3 0 -2.4 .3 -.3 5.4 0 .3 -.3 0 -20.4 -.3 -.3 -2.4 0 -.3 -.3 0 -5.4 .3 -.3 8.4 0 .3 .3 0 2.4 -.3 .3 -2.4 0 -.3 .3 0 5.4 .3 .3 2.4 0 .3 .3 0 2.4 .3 .3 11.4 0 .3 .3 0 2.4 -.3 .3 -5.4 0 -.3 .3 0 2.4 .3 .3 2.4 0 .3 .3 0 11.4 .3 .3 14.4 0 .3 .3 0 11.4 .3 .3 2.4 0 .3 .3 0 5.4 .3 .3 2.4 0 .3 -.3 0 -23.4 .3 -.3 2.4 0 .3 -.3 0 -20.4 .3 -.3 2.4 0 .3 -.3 0 -26.4 .3 -.3 2.4 0 .3 -.3 0 -11.4 .3 -.3 2.4 0 .3 -.3 0 -5.4 -.3 -.3 -2.4 0 -.3 -.3 0 -8.4 .3 -.3 5.4 0 .3 .3 0 11.4 .3 .3 2.4 0 .3 .3 0 32.4 .3 .3 2.4 0 .3 .3 0 17.4 .3 .3 2.4 0 .3 .3 0 53.2 -.5 .5 -2.2 0 -.3 .3 0 20.2 -.5 .5 -2.2 0 -.3 .3 0 22.6 -1.1 1.1 -1.3 0 -.6 .6 0 1.6 .8 .8 1.2 0 1 1 0 1.1 .9 .9 4 0 1.1 1.1 0 .8 1.1 1.1 .7 0 1.2 1.2 0 .7 1.1 1.1 .7 0 1.2 1.2 0 .7 1.1 1.1 3.7 0 1.2 1.2 0 3.7 1.1 1.1 3.7 0 1.2 1.2 0 3.7 1.1 1.1 21.7 0 1.2 -1.2 0 -.6 1.2 -1.2 3.6 0 1.2 -1.2 0 -.6 1.2 -1.2 42.6 0 1.2 1.2 0 .6 1.2 1.2 6.6 0 1.2 1.2 0 .6 1.2 1.2 24.6 0 1.2 -1.2 0 -.6 1.2 -1.2 3.6 0 1.2 -1.2 0 -.6 1.2 -1.2 12.6 0 1.2 -1.2 0 -.6 1.2 -1.2 15.6 0 1.2 1.2 0 .6 1.2 1.2 6.6 0 1.2 1.2 0 .6 1.2 1.2 .6 0 1.2 1.2 0 .6 1.2 1.2 9.6 0 1.2 1.2 0 .6 1.2 1.2 .6 0 1.2 1.2 0 .6 1.2 1.2 15.6 0 1.2 1.2 0 .6 1.2 1.2 16.8 0M773.8 443.5l-.3 .3 0 2.4 .3 .3 2.4 0 .3 -.3 0 -2.4 -.3 -.3zM488.5 743.5l0 -7.8 -1.2 -1.2 -.6 0 -1.2 -1.2 0 -9.6 -1.2 -1.2 -.6 0 -1.2 -1.2 0 -3.6 -1.2 -1.2 -.6 0 -1.2 -1.2 0 -75.6 1.2 -1.2 .6 0 1.2 -1.2 0 -.6 1.2 -1.2 .6 0 1.2 -1.2 0 -6.6 1.2 -1.2 .6 0 1.2 -1.2 0 -.6 1.2 -1.2 .6 0 1.2 -1.2 0 -.6 1.2 -1.2 .6 0 1.2 -1.2 0 -.6 1.2 -1.2 .6 0 1.2 -1.2 0 -.6 1.2 -1.2 24.6 0 1.2 1.2 0 .6 1.2 1.2 6.6 0 1.2 1.2 0 .6 1.2 1.2 9.6 0 1.2 1.2 0 .6 1.2 1.2 3.6 0 1.2 1.2 0 .6 1.2 1.2 12.6 0 1.2 1.2 0 .6 1.2 1.2 3.6 0 1.2 1.2 0 .6 1.2 1.2 12.6 0 1.2 1.2 0 .6 1.2 1.2 3.6 0 1.2 1.2 0 .6 1.2 1.2 18.6 0 1.2 1.2 0 .6 1.2 1.2 30.6 0 1.2 -1.2 0 -.6 1.2 -1.2 9.6 0 1.2 -1.2 0 -.6 1.2 -1.2 3.6 0 1.2 -1.2 0 -.6 1.2 -1.2 21.6 0 1.2 -1.2 0 -.6 1.2 -1.2 3.6 0 1.2 -1.2 0 -.6 1.2 -1.2 3.6 0 1.2 -1.2 0 -3.6 1.2 -1.2 3.6 0 1.2 -1.2 0 -3.6 1.2 -1.2 3.6 0 1.2 -1.2 0 -.6 1.2 -1.2 .6 0 1.2 -1.2 0 -.6 1.2 -1.2 3.6 0 1.2 -1.2 0 -.6 1.2 -1.2 .6 0 1.2 -1.2 0 -.6 1.2 -1.2 3.6 0 1.2 -1.2 0 -.6 1.2 -1.2 3.6 0 1.2 -1.2 0 -.6 1.2 -1.2 21.6 0 1.2 1.2 0 .6 1.2 1.2 3.6 0 1.2 1.2 0 .6 1.2 1.2 9.6 0 1.2 1.2 0 .6 1.2 1.2 3.6 0 1.2 1.2 0 .6 1.2 1.2 3.6 0 1.2 1.2 0 .6 1.2 1.2 3.6 0 1.2 1.2 0 .6 1.2 1.2 .6 0 1.2 1.2 0 .6 1.2 1.2 .6 0 1.2 1.2 0 .6 1.2 1.2 3.6 0 1.2 1.2 0 .6 1.2 1.2 .6 0 1.2 -1.2 0 -.6 1.2 -1.2 .7 0 1.1 -1.1 0 -.9 -1 -1 -.9 0 -1.1 -1.1 0 -.9 -1 -1 -.9 0 -1.1 -1.1 0 -3.9 -1 -1 -.9 0 -1.1 -1.1 0 -4 -.9 -.9 -1 0 -1.1 -1.1 0 -4 -.9 -.9 -1.1 0 -1 -1 0 -1 -1 -1 -.9 0 -1.1 -1.1 0 -7.1 -.8 -.8 -1.2 0 -1 -1 0 -1.1 -.9 -.9 -1.1 0 -1 -1 0 -4.2 -.8 -.8 -1.2 0 -1 -1 0 -4.2 -.8 -.8 -1.2 0 -1 -1 0 -7.5 -.5 -.5 -4.5 0 -1 -1 0 -16.6 -.4 -.4 -1.7 0 -.9 -.9 0 -4.8 -.3 -.3 -2 0 -.7 -.7 0 -2 -.3 -.3 -2 0 -.7 -.7 0 -2 -.3 -.3 -1.9 0 -.8 -.8 0 -7.9 -.3 -.3 -2.4 0 -.3 -.3 0 -2.4 -.3 -.3 -2.4 0 -.3 -.3 0 -5.4 -.3 -.3 -2.4 0 -.3 -.3 0 -5.4 -.3 -.3 -2.4 0 -.3 -.3 0 -5.4 -.3 -.3 -2.4 0 -.3 -.3 0 -5.4 -.3 -.3 -2.4 0 -.3 -.3 0 -8.4 -.3 -.3 -2.4 0 -.3 -.3 0 -2.4 -.3 -.3 -2.4 0 -.3 -.3 0 -11.4 -.3 -.3 -2.4 0 -.3 -.3 0 -5.4 -.3 -.3 -2.4 0 -.3 -.3 0 -14.4 -.3 -.3 -2.4 0 -.3 -.3 0 -2.4 -.3 -.3 -2.4 0 -.3 -.3 0 -11.4 -.3 -.3 -2.4 0 -.3 -.3 0 -23.4 -.3 -.3 -2.4 0 -.3 -.3 0 -5.4 -.3 -.3 -2.4 0 -.3 -.3 0 -20.4 .3 -.3 2.4 0 .3 .3 0 2.4 .3 .3 5.4 0 .3 .3 0 5.4 .3 .3 2.4 0 .3 .3 0 2.4 .3 .3 2.4 0 .3 .3 0 2.4 -.3 .3 -2.4 0 -.3 .3 0 8.4 .3 .3 2.4 0 .3 .3 0 8.4 .3 .3 5.4 0 .3 .3 0 17.4 .3 .3 2.4 0 .3 .3 0 5.4 .3 .3 2.4 0 .3 .3 0 5.4 .3 .3 5.4 0 .3 .3 0 5.4 .3 .3 2.4 0 .3 .3 0 5.4 .3 .3 2.4 0 .3 .3 0 5.4 .3 .3 2.4 0 .3 .3 0 5.4 .3 .3 2.4 0 .3 .3 0 11.4 .3 .3 5.4 0 .3 .3 0 5.4 .3 .3 2.4 0 .3 -.3 0 -2.4 .3 -.3 2.4 0 .3 -.3 0 -2.4 -.3 -.3 -2.4 0 -.3 -.3 0 -11.4 -.3 -.3 -2.4 0 -.3 -.3 0 -8.4 -.3 -.3 -2.4 0 -.3 -.3 0 -2.4 -.3 -.3 -2.4 0 -.3 -.3 0 -5.4 .3 -.3 5.4 0 .3 -.3 0 -2.4 .3 -.3 5.4 0 .3 -.3 0 -8.4 .3 -.3 5.4 0 .3 .3 0 5.4 .3 .3 5.4 0 .3 .3 0 2.4 .3 .3 8.4 0 .3 .3 0 8.4 .3 .3 2.4 0 .3 .3 0 5.4 .3 .3 2.4 0 .3 .3 0 2.4 .3 .3 2.4 0 .3 -.3 0 -11.4 .3 -.3 2.4 0 .3 -.3 0 -14.4 .3 -.3 2.4 0 .3 -.3 0 -41.4 .3 -.3 2.4 0 .3 -.3 0 -11.4 .3 -.3 2.4 0 .3 -.3 0 -5.4 .3 -.3 5.4 0 .3 .3 0 32.4 .3 .3 2.4 0 .3 .3 0 17.4 .3 .3 2.4 0 .3 .3 0 38.4 -.3 .3 -2.4 0 -.3 .3 0 17.4 -.3 .3 -2.4 0 -.3 .3 0 28.9 -.8 .8 -1.9 0 -.3 .3 0 10.9 -.8 .8 -1.9 0 -.3 .3 0 2.4 .3 .3 4.8 0 .9 .9 0 1.4 .7 .7 4.2 0 1.1 1.1 0 4.1 .8 .8 1.2 0 1 1 0 1.2 .8 .8 1.2 0 1 1 0 1.1 .9 .9 1.1 0 1 1 0 1.1 .9 .9 1.1 0 1 1 0 1.1 .9 .9 1.1 0 1 1 0 4.2 .8 .8 4.1 0 1.1 1.1 0 .9 1 1 .9 0 1.1 1.1 0 .9 1 1 .9 0 1.1 1.1 0 .9 1 1 .9 0 1.1 1.1 0 .9 1 1 12.8 0 1.2 -1.2 0 -.6 1.2 -1.2 .6 0 1.2 -1.2 0 -.6 1.2 -1.2 6.6 0 1.2 -1.2 0 -.6 1.2 -1.2 15.6 0 1.2 1.2 0 .6 1.2 1.2 30.6 0 1.2 1.2 0 .6 1.2 1.2 3.6 0 1.2 -1.2 0 -.6 1.2 -1.2 12.6 0 1.2 -1.2 0 -.6 1.2 -1.2 .6 0 1.2 -1.2 0 -.6 1.2 -1.2 9.6 0 1.2 -1.2 0 -.6 1.2 -1.2 6.6 0 1.2 -1.2 0 -.6 1.2 -1.2 3.6 0 1.2 1.2 0 .6 1.2 1.2 6.6 0 1.2 1.2 0 .6 1.2 1.2 3.6 0 1.2 1.2 0 .6 1.2 1.2 3.6 0 1.2 1.2 0 .6 1.2 1.2 3.6 0 1.2 1.2 0 .6 1.2 1.2 3.6 0 1.2 1.2 0 .6 1.2 1.2 9.6 0 1.2 1.2 0 .6 1.2 1.2 6.6 0 1.2 1.2 0 .6 1.2 1.2 12.6 0 1.2 -1.2 0 -.6 1.2 -1.2 1.8 0M722.8 374.5l-.3 .3 0 2.4 .3 .3 2.4 0 .3 .3 0 2.4 .3 .3 2.4 0 .3 -.3 0 -5.4 -.3 -.3zM497.5 743.5l0 -10.8 -1.2 -1.2 -.6 0 -1.2 -1.2 0 -3.6 -1.2 -1.2 -.6 0 -1.2 -1.2 0 -69.6 1.2 -1.2 .6 0 1.2 -1.2 0 -3.6 1.2 -1.2 .6 0 1.2 -1.2 0 -6.6 1.2 -1.2 .6 0 1.2 -1.2 0 -.6 1.2 -1.2 .6 0 1.2 -1.2 0 -3.6 1.2 -1.2 .6 0 1.2 -1.2 0 -.6 1.2 -1.2 .6 0 1.2 -1.2 0 -3.6 1.2 -1.2 21.6 0 1.2 1.2 0 .6 1.2 1.2 3.6 0 1.2 1.2 0 .6 1.2 1.2 12.6 0 1.2 1.2 0 .6 1.2 1.2 6.6 0 1.2 1.2 0 .6 1.2 1.2 6.6 0 1.2 1.2 0 .6 1.2 1.2 3.6 0 1.2 1.2 0 .6 1.2 1.2 6.6 0 1.2 1.2 0 .6 1.2 1.2 3.6 0 1.2 1.2 0 .6 1.2 1.2 6.6 0 1.2 1.2 0 .6 1.2 1.2 6.6 0 1.2 1.2 0 .6 1.2 1.2 9.6 0 1.2 1.2 0 .6 1.2 1.2 3.6 0 1.2 1.2 0 .6 1.2 1.2 21.6 0 1.2 -1.2 0 -.6 1.2 -1.2 3.6 0 1.2 -1.2 0 -.6 1.2 -1.2 6.6 0 1.2 -1.2 0 -.6 1.2 -1.2 3.6 0 1.2 -1.2 0 -.6 1.2 -1.2 12.6 0 1.2 -1.2 0 -.6 1.2 -1.2 3.6 0 1.2 -1.2 0 -.6 1.2 -1.2 3.6 0 1.2 -1.2 0 -.6 1.2 -1.2 3.6 0 1.2 -1.2 0 -.6 1.2 -1.2 .6 0 1.2 -1.2 0 -.6 1.2 -1.2 .6 0 1.2 -1.2 0 -.6 1.2 -1.2 3.6 0 1.2 -1.2 0 -.6 1.2 -1.2 3.6 0 1.2 -1.2 0 -.6 1.2 -1.2 3.6 0 1.2 -1.2 0 -.6 1.2 -1.2 .6 0 1.2 -1.2 0 -.6 1.2 -1.2 12.6 0 1.2 1.2 0 .6 1.2 1.2 3.6 0 1.2 1.2 0 .6 1.2 1.2 27.6 0 1.2 1.2 0 .6 1.2 1.2 3.6 0 1.2 1.2 0 .6 1.2 1.2 3.6 0 1.2 1.2 0 .6 1.2 1.2 .6 0 1.2 1.2 0 .6 1.2 1.2 6.6 0 1.2 1.2 0 .6 1.2 1.2 12.6 0 1.2 -1.2 0 -.7 1.1 -1.1 .8 0 1.1 -1.1 0 -4 -.9 -.9 -1.1 0 -1 -1 0 -1.1 -.9 -.9 -1.1 0 -1 -1 0 -7.3 -.7 -.7 -4.4 0 -.9 -.9 0 -4.4 -.7 -.7 -1.4 0 -.9 -.9 0 -1.4 -.7 -.7 -1.4 0 -.9 -.9 0 -7.5 -.6 -.6 -1.7 0 -.7 -.7 0 -1.7 -.6 -.6 -1.6 0 -.8 -.8 0 -4.7 -.5 -.5 -1.8 0 -.7 -.7 0 -1.7 -.6 -.6 -1.6 0 -.8 -.8 0 -4.7 -.5 -.5 -4.6 0 -.9 -.9 0 -10.8 -.3 -.3 -2.1 0 -.6 -.6 0 -5.1 -.3 -.3 -2.2 0 -.5 -.5 0 -2.2 -.3 -.3 -2.1 0 -.6 -.6 0 -11.1 -.3 -.3 -1.9 0 -.8 -.8 0 -4.9 -.3 -.3 -2.2 0 -.5 -.5 0 -2.2 -.3 -.3 -2 0 -.7 -.7 0 -5 -.3 -.3 -2.4 0 -.3 -.3 0 -2.4 -.3 -.3 -2.3 0 -.4 -.4 0 -8.3 -.3 -.3 -5.4 0 -.3 -.3 0 -8.4 -.3 -.3 -2.4 0 -.3 -.3 0 -5.4 -.3 -.3 -2.4 0 -.3 -.3 0 -5.4 -.3 -.3 -2.4 0 -.3 -.3 0 -5.4 -.3 -.3 -2.4 0 -.3 -.3 0 -8.4 -.3 -.3 -2.4 0 -.3 -.3 0 -2.4 -.3 -.3 -2.4 0 -.3 -.3 0 -11.4 -.3 -.3 -2.4 0 -.3 -.3 0 -5.4 -.3 -.3 -2.4 0 -.3 -.3 0 -14.4 -.3 -.3 -2.4 0 -.3 -.3 0 -2.4 -.3 -.3 -2.4 0 -.3 -.3 0 -8.4 -.3 -.3 -2.4 0 -.3 -.3 0 -14.4 .3 -.3 2.4 0 .3 -.3 0 -5.4 -.3 -.3 -2.4 0 -.3 -.3 0 -2.4 -.3 -.3 -2.4 0 -.3 -.3 0 -20.4 .3 -.3 5.4 0 .3 .3 0 5.4 .3 .3 2.4 0 .3 .3 0 2.4 -.3 .3 -2.4 0 -.3 .3 0 8.4 .3 .3 2.4 0 .3 .3 0 2.4 .3 .3 2.4 0 .3 .3 0 5.4 .3 .3 2.4 0 .3 .3 0 2.4 .3 .3 2.4 0 .3 .3 0 14.4 .3 .3 2.4 0 .3 .3 0 5.4 .3 .3 2.4 0 .3 .3 0 5.4 .3 .3 2.4 0 .3 .3 0 2.4 .3 .3 2.4 0 .3 .3 0 5.4 .3 .3 2.4 0 .3 .3 0 2.4 .3 .3 2.4 0 .3 .3 0 8.4 .3 .3 2.4 0 .3 .3 0 5.4 .3 .3 2.4 0 .3 .3 0 8.4 .3 .3 2.4 0 .3 .3 0 2.4 .3 .3 2.4 0 .3 .3 0 5.4 .3 .3 2.4 0 .3 .3 0 2.4 .3 .3 2.4 0 .3 -.3 0 -26.4 .3 -.3 2.4 0 .3 -.3 0 -2.4 -.3 -.3 -5.4 0 -.3 -.3 0 -2.4 -.3 -.3 -2.4 0 -.3 -.3 0 -5.4 .3 -.3 2.4 0 .3 -.3 0 -2.4 .3 -.3 2.4 0 .3 -.3 0 -5.4 .3 -.3 5.4 0 .3 .3 0 2.4 .3 .3 2.4 0 .3 .3 0 2.4 .3 .3 8.4 0 .3 .3 0 5.4 .3 .3 2.4 0 .3 .3 0 2.4 .3 .3 2.4 0 .3 .3 0 14.4 .3 .3 5.4 0 .3 -.3 0 -17.4 .3 -.3 2.4 0 .3 -.3 0 -5.4 .3 -.3 2.4 0 .3 -.3 0 -5.4 -.3 -.3 -2.4 0 -.3 -.3 0 -2.4 .3 -.3 2.4 0 .3 -.3 0 -26.4 .3 -.3 2.4 0 .3 -.3 0 -20.4 .3 -.3 2.4 0 .3 -.3 0 -8.4 .3 -.3 5.4 0 .3 .3 0 5.4 -.3 .3 -2.4 0 -.3 .3 0 5.4 .3 .3 2.4 0 .3 .3 0 29.4 .3 .3 2.4 0 .3 .3 0 17.4 .3 .3 2.4 0 .3 .3 0 2.4 -.3 .3 -2.4 0 -.3 .3 0 32.4 -.3 .3 -2.4 0 -.3 .3 0 29.3 -.4 .4 -2.3 0 -.3 .3 0 8.4 -.3 .3 -2.4 0 -.3 .3 0 14.4 .3 .3 5 0 .7 .7 0 5 .3 .3 4.9 0 .8 .8 0 4.8 .4 .4 4.7 0 .9 .9 0 4.5 .6 .6 1.7 0 .7 .7 0 1.7 .6 .6 1.6 0 .8 .8 0 4.7 .5 .5 1.8 0 .7 .7 0 1.7 .6 .6 1.7 0 .7 .7 0 1.7 .6 .6 1.6 0 .8 .8 0 1.5 .7 .7 4.4 0 .9 .9 0 1.3 .8 .8 1.3 0 .9 .9 0 1.3 .8 .8 4.1 0 1.1 1.1 0 .9 1 1 3.9 0 1.1 1.1 0 .8 1.1 1.1 21.7 0 1.2 -1.2 0 -.6 1.2 -1.2 21.6 0 1.2 -1.2 0 -.6 1.2 -1.2 51.6 0 1.2 1.2 0 .6 1.2 1.2 6.6 0 1.2 1.2 0 .6 1.2 1.2 15.6 0 1.2 1.2 0 .6 1.2 1.2 48.6 0 1.2 -1.2 0 -.6 1.2 -1.2 7.8 0M779.8 497.5l-.3 .3 0 5.4 .3 .3 2.4 0 .3 .3 0 2.4 .3 .3 2.4 0 .3 -.3 0 -5.4 -.3 -.3 -2.4 0 -.3 -.3 0 -2.4 -.3 -.3zM509.5 743.5l0 -1.8 -1.2 -1.2 -.6 0 -1.2 -1.2 0 -3.6 -1.2 -1.2 -.6 0 -1.2 -1.2 0 -63.6 1.2 -1.2 .6 0 1.2 -1.2 0 -3.6 1.2 -1.2 .6 0 1.2 -1.2 0 -6.6 1.2 -1.2 .6 0 1.2 -1.2 0 -.6 1.2 -1.2 .6 0 1.2 -1.2 0 -9.6 1.2 -1.2 .6 0 1.2 -1.2 0 -.6 1.2 -1.2 9.6 0 1.2 1.2 0 .6 1.2 1.2 27.6 0 1.2 1.2 0 .6 1.2 1.2 .6 0 1.2 1.2 0 .6 1.2 1.2 3.6 0 1.2 1.2 0 3.6 1.2 1.2 .6 0 1.2 1.2 0 .6 1.2 1.2 .6 0 1.2 1.2 0 3.6 1.2 1.2 .6 0 1.2 1.2 0 .6 1.2 1.2 .6 0 1.2 1.2 0 .6 1.2 1.2 .6 0 1.2 1.2 0 .6 1.2 1.2 .6 0 1.2 1.2 0 .6 1.2 1.2 3.6 0 1.2 1.2 0 .6 1.2 1.2 3.6 0 1.2 1.2 0 .6 1.2 1.2 .6 0 1.2 1.2 0 .6 1.2 1.2 30.6 0 1.2 -1.2 0 -.6 1.2 -1.2 3.6 0 1.2 -1.2 0 -.6 1.2 -1.2 6.6 0 1.2 -1.2 0 -.6 1.2 -1.2 .6 0 1.2 -1.2 0 -.6 1.2 -1.2 6.6 0 1.2 -1.2 0 -.6 1.2 -1.2 .6 0 1.2 -1.2 0 -.6 1.2 -1.2 3.6 0 1.2 -1.2 0 -.6 1.2 -1.2 3.6 0 1.2 -1.2 0 -.6 1.2 -1.2 9.6 0 1.2 -1.2 0 -.6 1.2 -1.2 .6 0 1.2 -1.2 0 -.6 1.2 -1.2 6.6 0 1.2 -1.2 0 -.6 1.2 -1.2 .6 0 1.2 -1.2 0 -.6 1.2 -1.2 3.6 0 1.2 -1.2 0 -.6 1.2 -1.2 .6 0 1.2 -1.2 0 -.6 1.2 -1.2 6.6 0 1.2 -1.2 0 -.6 1.2 -1.2 3.6 0 1.2 -1.2 0 -.6 1.2 -1.2 6.6 0 1.2 1.2 0 .6 1.2 1.2 .6 0 1.2 1.2 0 .6 1.2 1.2 3.6 0 1.2 1.2 0 .6 1.2 1.2 .6 0 1.2 1.2 0 .6 1.2 1.2 21.6 0 1.2 -1.2 0 -.6 1.2 -1.2 15.6 0 1.2 1.2 0 .6 1.2 1.2 6.6 0 1.2 1.2 0 .6 1.2 1.2 3.6 0 1.2 1.2 0 .6 1.2 1.2 18.6 0 1.2 -1.2 0 -.6 1.2 -1.2 3.6 0 1.2 -1.2 0 -19.2 -.6 -.6 -1.6 0 -.8 -.8 0 -1.6 -.6 -.6 -1.6 0 -.8 -.8 0 -7.8 -.4 -.4 -2.1 0 -.5 -.5 0 -2.1 -.4 -.4 -2 0 -.6 -.6 0 -2 -.4 -.4 -2 0 -.6 -.6 0 -2 -.4 -.4 -2 0 -.6 -.6 0 -5.1 -.3 -.3 -2.2 0 -.5 -.5 0 -2.1 -.4 -.4 -2 0 -.6 -.6 0 -5.1 -.3 -.3 -2.2 0 -.5 -.5 0 -2.2 -.3 -.3 -2.2 0 -.5 -.5 0 -5.2 -.3 -.3 -2.2 0 -.5 -.5 0 -2.2 -.3 -.3 -2.2 0 -.5 -.5 0 -2.1 -.4 -.4 -2 0 -.6 -.6 0 -5.1 -.3 -.3 -2.2 0 -.5 -.5 0 -8.2 -.3 -.3 -2.4 0 -.3 -.3 0 -2.4 -.3 -.3 -2.4 0 -.3 -.3 0 -11.4 -.3 -.3 -2.4 0 -.3 -.3 0 -2.4 -.3 -.3 -2.3 0 -.4 -.4 0 -5.3 -.3 -.3 -2.4 0 -.3 -.3 0 -2.4 -.3 -.3 -2.4 0 -.3 -.3 0 -2.4 -.3 -.3 -2.4 0 -.3 -.3 0 -5.4 -.3 -.3 -2.4 0 -.3 -.3 0 -5.4 -.3 -.3 -5.4 0 -.3 -.3 0 -11.4 -.3 -.3 -2.4 0 -.3 -.3 0 -5.4 -.3 -.3 -2.4 0 -.3 -.3 0 -5.4 -.3 -.3 -2.4 0 -.3 -.3 0 -5.4 -.3 -.3 -2.4 0 -.3 -.3 0 -8.4 -.3 -.3 -2.4 0 -.3 -.3 0 -2.4 -.3 -.3 -2.4 0 -.3 -.3 0 -11.4 -.3 -.3 -2.4 0 -.3 -.3 0 -2.4 -.3 -.3 -2.4 0 -.3 -.3 0 -17.4 -.3 -.3 -2.4 0 -.3 -.3 0 -2.4 -.3 -.3 -2.4 0 -.3 -.3 0 -8.4 -.3 -.3 -2.4 0 -.3 -.3 0 -2.4 .3 -.3 2.4 0 .3 -.3 0 -17.4 .3 -.3 5.4 0 .3 .3 0 8.4 .3 .3 2.4 0 .3 .3 0 11.4 .3 .3 2.4 0 .3 .3 0 8.4 .3 .3 2.4 0 .3 .3 0 2.4 .3 .3 2.4 0 .3 .3 0 5.4 .3 .3 5.4 0 .3 .3 0 8.4 .3 .3 2.4 0 .3 .3 0 2.4 .3 .3 2.4 0 .3 .3 0 8.4 .3 .3 2.4 0 .3 .3 0 2.4 .3 .3 2.4 0 .3 .3 0 11.4 .3 .3 2.4 0 .3 .3 0 2.4 .3 .3 2.4 0 .3 .3 0 5.4 .3 .3 2.4 0 .3 .3 0 2.4 .3 .3 2.4 0 .3 .3 0 8.4 .3 .3 2.4 0 .3 .3 0 2.4 .3 .3 2.4 0 .3 -.3 0 -14.4 -.3 -.3 -2.4 0 -.3 -.3 0 -11.4 .3 -.3 2.4 0 .3 -.3 0 -8.4 -.3 -.3 -2.4 0 -.3 -.3 0 -2.4 .3 -.3 2.4 0 .3 -.3 0 -14.4 -.3 -.3 -2.4 0 -.3 -.3 0 -5.4 .3 -.3 2.4 0 .3 .3 0 2.4 .3 .3 5.4 0 .3 .3 0 5.4 .3 .3 2.4 0 .3 .3 0 2.4 -.3 .3 -2.4 0 -.3 .3 0 14.4 .3 .3 5.4 0 .3 -.3 0 -2.4 .3 -.3 5.4 0 .3 .3 0 2.4 .3 .3 2.4 0 .3 .3 0 2.4 .3 .3 2.4 0 .3 -.3 0 -17.4 .3 -.3 2.4 0 .3 -.3 0 -5.4 .3 -.3 2.4 0 .3 -.3 0 -23.4 .3 -.3 2.4 0 .3 -.3 0 -14.4 .3 -.3 2.4 0 .3 -.3 0 -17.4 .3 -.3 2.4 0 .3 .3 0 2.4 .3 .3 2.4 0 .3 .3 0 2.4 -.3 .3 -2.4 0 -.3 .3 0 2.4 .3 .3 2.4 0 .3 .3 0 23.4 .3 .3 2.4 0 .3 .3 0 2.4 -.3 .3 -2.4 0 -.3 .3 0 5.4 .3 .3 2.4 0 .3 .3 0 29.4 -.3 .3 -2.4 0 -.3 .3 0 38.4 -.3 .3 -2.4 0 -.3 .3 0 5.4 -.3 .3 -2.4 0 -.3 .3 0 14.4 -.3 .3 -2.4 0 -.3 .3 0 5.4 .3 .3 5.3 0 .4 .4 0 5.3 .3 .3 2.4 0 .3 .3 0 2.4 .3 .3 2.3 0 .4 .4 0 2.3 .3 .3 2.3 0 .4 .4 0 2.3 .3 .3 2.2 0 .5 .5 0 2.2 .3 .3 2.1 0 .6 .6 0 5.1 .3 .3 2.2 0 .5 .5 0 2.2 .3 .3 2.2 0 .5 .5 0 2.1 .4 .4 2 0 .6 .6 0 2 .4 .4 2 0 .6 .6 0 5 .4 .4 2.1 0 .5 .5 0 2.1 .4 .4 4.9 0 .7 .7 0 1.7 .6 .6 1.7 0 .7 .7 0 1.7 .6 .6 4.5 0 .9 .9 0 1.3 .8 .8 4.2 0 1 1 0 1.1 .9 .9 4 0 1.1 1.1 0 .9 1 1 .9 0 1.1 1.1 0 .9 1 1 6.8 0 1.2 1.2 0 .6 1.2 1.2 9.6 0 1.2 -1.2 0 -.6 1.2 -1.2 15.6 0 1.2 -1.2 0 -.6 1.2 -1.2 3.6 0 1.2 -1.2 0 -.6 1.2 -1.2 21.6 0 1.2 1.2 0 .6 1.2 1.2 3.6 0 1.2 1.2 0 .6 1.2 1.2 6.6 0 1.2 1.2 0 .6 1.2 1.2 12.6 0 1.2 1.2 0 .6 1.2 1.2 42.6 0 1.2 -1.2 0 -.6 1.2 -1.2 6.6 0 1.2 -1.2 0 -.6 1.2 -1.2 21.6 0 1.2 -1.2 0 -.6 1.2 -1.2 1.8 0M725.8 395.5l-.3 .3 0 8.4 .3 .3 5.4 0 .3 -.3 0 -8.4 -.3 -.3zM797.8 464.5l-.3 .3 0 5.4 .3 .3 5.4 0 .3 -.3 0 -5.4 -.3 -.3zM515.5 743.5l0 -49.8 1.2 -1.2 .6 0 1.2 -1.2 0 -9.6 1.2 -1.2 .6 0 1.2 -1.2 0 -.6 1.2 -1.2 3.6 0 1.2 1.2 0 .6 1.2 1.2 .6 0 1.2 -1.2 0 -.6 1.2 -1.2 21.6 0 1.2 -1.2 0 -.6 1.2 -1.2 3.6 0 1.2 1.2 0 .6 1.2 1.2 .6 0 1.2 1.2 0 .6 1.2 1.2 3.6 0 1.2 1.2 0 .6 1.2 1.2 3.6 0 1.2 1.2 0 .6 1.2 1.2 3.6 0 1.2 1.2 0 3.6 1.2 1.2 3.6 0 1.2 1.2 0 .6 1.2 1.2 3.6 0 1.2 1.2 0 .6 1.2 1.2 3.6 0 1.2 1.2 0 .6 1.2 1.2 9.6 0 1.2 1.2 0 .6 1.2 1.2 3.6 0 1.2 -1.2 0 -.6 1.2 -1.2 9.6 0 1.2 -1.2 0 -.6 1.2 -1.2 12.6 0 1.2 -1.2 0 -.6 1.2 -1.2 .6 0 1.2 -1.2 0 -.6 1.2 -1.2 3.6 0 1.2 -1.2 0 -.6 1.2 -1.2 3.6 0 1.2 -1.2 0 -.6 1.2 -1.2 3.6 0 1.2 -1.2 0 -.6 1.2 -1.2 .6 0 1.2 -1.2 0 -.6 1.2 -1.2 3.6 0 1.2 -1.2 0 -.6 1.2 -1.2 .6 0 1.2 -1.2 0 -.6 1.2 -1.2 9.6 0 1.2 -1.2 0 -.6 1.2 -1.2 6.6 0 1.2 -1.2 0 -.6 1.2 -1.2 6.6 0 1.2 -1.2 0 -3.6 1.2 -1.2 3.6 0 1.2 -1.2 0 -3.6 1.2 -1.2 15.6 0 1.2 1.2 0 .6 1.2 1.2 6.6 0 1.2 1.2 0 .6 1.2 1.2 12.6 0 1.2 -1.2 0 -.6 1.2 -1.2 .6 0 1.2 1.2 0 .6 1.2 1.2 18.6 0 1.2 1.2 0 .6 1.2 1.2 .6 0 1.2 1.2 0 .6 1.2 1.2 39.6 0 1.2 -1.2 0 -.6 1.2 -1.2 3.6 0 1.2 -1.2 0 -.6 1.2 -1.2 3.6 0 1.2 -1.2 0 -.6 1.2 -1.2 .6 0 1.2 -1.2 0 -.6 1.2 -1.2 .6 0 1.2 -1.2 0 -13 -.8 -.8 -1.3 0 -.9 -.9 0 -7.5 -.6 -.6 -1.7 0 -.7 -.7 0 -4.8 -.5 -.5 -1.9 0 -.6 -.6 0 -5 -.4 -.4 -2.1 0 -.5 -.5 0 -5.2 -.3 -.3 -2.3 0 -.4 -.4 0 -5.3 -.3 -.3 -2.4 0 -.3 -.3 0 -5.4 -.3 -.3 -2.4 0 -.3 -.3 0 -5.4 -.3 -.3 -2.4 0 -.3 -.3 0 -2.4 -.3 -.3 -2.4 0 -.3 -.3 0 -8.4 -.3 -.3 -8.4 0 -.3 -.3 0 -2.4 -.3 -.3 -2.4 0 -.3 -.3 0 -5.4 -.3 -.3 -5.3 0 -.4 -.4 0 -5.3 -.3 -.3 -2.4 0 -.3 -.3 0 -2.4 -.3 -.3 -2.4 0 -.3 -.3 0 -11.4 -.3 -.3 -2.4 0 -.3 -.3 0 -2.4 -.3 -.3 -2.4 0 -.3 -.3 0 -8.4 -.3 -.3 -5.3 0 -.4 -.4 0 -5.3 -.3 -.3 -2.4 0 -.3 -.3 0 -2.4 -.3 -.3 -2.4 0 -.3 -.3 0 -5.4 -.3 -.3 -2.4 0 -.3 -.3 0 -2.4 -.3 -.3 -2.4 0 -.3 -.3 0 -5.4 -.3 -.3 -2.4 0 -.3 -.3 0 -5.4 -.3 -.3 -2.4 0 -.3 -.3 0 -8.4 -.3 -.3 -2.4 0 -.3 -.3 0 -2.4 -.3 -.3 -2.4 0 -.3 -.3 0 -8.4 -.3 -.3 -2.4 0 -.3 -.3 0 -8.4 -.3 -.3 -2.4 0 -.3 -.3 0 -5.4 -.3 -.3 -2.4 0 -.3 -.3 0 -2.4 -.3 -.3 -2.4 0 -.3 -.3 0 -8.4 -.3 -.3 -2.4 0 -.3 -.3 0 -5.4 -.3 -.3 -2.4 0 -.3 -.3 0 -5.4 .3 -.3 2.4 0 .3 -.3 0 -14.4 -.3 -.3 -2.4 0 -.3 .3 0 2.4 -.3 .3 -2.4 0 -.3 -.3 0 -5.4 -.3 -.3 -2.4 0 -.3 -.3 0 -17.4 .3 -.3 5.4 0 .3 .3 0 14.4 .3 .3 2.4 0 .3 .3 0 2.4 .3 .3 2.4 0 .3 .3 0 5.4 .3 .3 2.4 0 .3 .3 0 5.4 .3 .3 2.4 0 .3 .3 0 2.4 .3 .3 2.4 0 .3 .3 0 2.4 .3 .3 2.4 0 .3 .3 0 5.4 .3 .3 2.4 0 .3 .3 0 5.4 .3 .3 2.4 0 .3 .3 0 8.4 .3 .3 2.4 0 .3 .3 0 8.4 .3 .3 2.4 0 .3 .3 0 5.4 .3 .3 5.4 0 .3 .3 0 5.4 .3 .3 2.4 0 .3 .3 0 5.4 .3 .3 2.4 0 .3 .3 0 5.4 .3 .3 2.4 0 .3 .3 0 2.4 .3 .3 2.4 0 .3 .3 0 5.4 .3 .3 2.4 0 .3 -.3 0 -5.4 .3 -.3 2.4 0 .3 -.3 0 -5.4 -.3 -.3 -2.4 0 -.3 -.3 0 -8.4 -.3 -.3 -2.4 0 -.3 -.3 0 -14.4 .3 -.3 11.4 0 .3 -.3 0 -2.4 .3 -.3 5.4 0 .3 .3 0 8.4 .3 .3 2.4 0 .3 .3 0 8.4 -.3 .3 -2.4 0 -.3 .3 0 8.4 .3 .3 5.4 0 .3 -.3 0 -38.4 .3 -.3 2.4 0 .3 -.3 0 -5.4 .3 -.3 2.4 0 .3 -.3 0 -20.4 .3 -.3 2.4 0 .3 -.3 0 -5.4 .3 -.3 2.4 0 .3 -.3 0 -20.4 .3 -.3 5.4 0 .3 .3 0 32.4 .3 .3 2.4 0 .3 .3 0 5.4 -.3 .3 -2.4 0 -.3 .3 0 41.4 -.3 .3 -2.4 0 -.3 .3 0 8.4 .3 .3 2.4 0 .3 .3 0 2.4 -.3 .3 -2.4 0 -.3 .3 0 8.4 -.3 .3 -2.4 0 -.3 .3 0 17.4 -.3 .3 -2.4 0 -.3 .3 0 5.4 .3 .3 2.4 0 .3 .3 0 5.4 .3 .3 2.4 0 .3 .3 0 2.4 .3 .3 2.4 0 .3 .3 0 2.4 .3 .3 2.4 0 .3 .3 0 2.4 .3 .3 2.4 0 .3 .3 0 2.4 .3 .3 2.4 0 .3 .3 0 5.4 .3 .3 2.4 0 .3 .3 0 5.4 .3 .3 2.4 0 .3 .3 0 2.4 .3 .3 2.4 0 .3 .3 0 2.4 .3 .3 2.4 0 .3 .3 0 5.4 .3 .3 2.4 0 .3 .3 0 2.4 .3 .3 5.3 0 .4 .4 0 2.3 .3 .3 5.1 0 .6 .6 0 1.9 .5 .5 1.9 0 .6 .6 0 1.9 .5 .5 4.7 0 .8 .8 0 1.5 .7 .7 1.5 0 .8 .8 0 1.5 .7 .7 4.4 0 .9 .9 0 1.3 .8 .8 1.3 0 .9 .9 0 1.3 .8 .8 4.2 0 1 1 0 1.1 .9 .9 1.1 0 1 1 0 1 1 1 3.9 0 1.1 1.1 0 .9 1 1 3.8 0 1.2 1.2 0 .7 1.1 1.1 6.7 0 1.2 -1.2 0 -.6 1.2 -1.2 6.6 0 1.2 -1.2 0 -.6 1.2 -1.2 6.6 0 1.2 -1.2 0 -.6 1.2 -1.2 3.6 0 1.2 -1.2 0 -.6 1.2 -1.2 6.6 0 1.2 1.2 0 .6 1.2 1.2 3.6 0 1.2 1.2 0 .6 1.2 1.2 9.6 0 1.2 1.2 0 .6 1.2 1.2 6.6 0 1.2 1.2 0 .6 1.2 1.2 18.6 0 1.2 1.2 0 .6 1.2 1.2 9.6 0 1.2 1.2 0 .6 1.2 1.2 6.6 0 1.2 -1.2 0 -.6 1.2 -1.2 6.6 0 1.2 -1.2 0 -.6 1.2 -1.2 6.6 0 1.2 -1.2 0 -.6 1.2 -1.2 3.6 0 1.2 -1.2 0 -.6 1.2 -1.2 6.6 0 1.2 -1.2 0 -.6 1.2 -1.2 6.6 0 1.2 -1.2 0 -.6 1.2 -1.2 4.8 0M725.8 398.5l-.3 .3 0 2.4 .3 .3 2.4 0 .3 -.3 0 -2.4 -.3 -.3zM731.8 410.5l-.3 .3 0 2.4 .3 .3 2.4 0 .3 -.3 0 -2.4 -.3 -.3zM548.5 743.5l0 -7.8 -1.2 -1.2 -.6 0 -1.2 -1.2 0 -21.6 1.2 -1.2 .6 0 1.2 -1.2 0 -.6 1.2 -1.2 .6 0 1.2 -1.2 0 -.6 1.2 -1.2 9.6 0 1.2 1.2 0 3.6 1.2 1.2 3.6 0 1.2 1.2 0 3.6 1.2 1.2 3.6 0 1.2 1.2 0 .6 1.2 1.2 .6 0 1.2 1.2 0 .6 1.2 1.2 12.6 0 1.2 -1.2 0 -.6 1.2 -1.2 6.6 0 1.2 -1.2 0 -.6 1.2 -1.2 6.6 0 1.2 1.2 0 .6 1.2 1.2 24.6 0 1.2 1.2 0 .6 1.2 1.2 .6 0 1.2 -1.2 0 -.6 1.2 -1.2 .6 0 1.2 -1.2 0 -.6 1.2 -1.2 9.6 0 1.2 -1.2 0 -.6 1.2 -1.2 3.6 0 1.2 -1.2 0 -.6 1.2 -1.2 6.6 0 1.2 -1.2 0 -.6 1.2 -1.2 3.6 0 1.2 -1.2 0 -.6 1.2 -1.2 27.6 0 1.2 -1.2 0 -.6 1.2 -1.2 3.6 0 1.2 -1.2 0 -.6 1.2 -1.2 3.6 0 1.2 -1.2 0 -.6 1.2 -1.2 .6 0 1.2 -1.2 0 -.6 1.2 -1.2 3.6 0 1.2 -1.2 0 -.6 1.2 -1.2 .6 0 1.2 -1.2 0 -.6 1.2 -1.2 .6 0 1.2 -1.2 0 -.6 1.2 -1.2 .6 0 1.2 -1.2 0 -.6 1.2 -1.2 3.6 0 1.2 -1.2 0 -.6 1.2 -1.2 3.6 0 1.2 -1.2 0 -.6 1.2 -1.2 18.6 0 1.2 1.2 0 .6 1.2 1.2 .6 0 1.2 1.2 0 .6 1.2 1.2 54.6 0 1.2 -1.2 0 -.6 1.2 -1.2 6.6 0 1.2 -1.2 0 -.6 1.2 -1.2 6.6 0 1.2 -1.2 0 -.6 1.2 -1.2 .6 0 1.2 -1.2 0 -19 -.8 -.8 -1.3 0 -.9 -.9 0 -10.7 -.4 -.4 -2 0 -.6 -.6 0 -5.1 -.3 -.3 -2.2 0 -.5 -.5 0 -8.2 -.3 -.3 -2.4 0 -.3 -.3 0 -2.4 -.3 -.3 -2.4 0 -.3 -.3 0 -2.4 -.3 -.3 -2.4 0 -.3 -.3 0 -8.4 -.3 -.3 -2.4 0 -.3 -.3 0 -2.4 -.3 -.3 -2.4 0 -.3 -.3 0 -2.4 -.3 -.3 -2.4 0 -.3 -.3 0 -5.4 -.3 -.3 -2.4 0 -.3 -.3 0 -8.4 -.3 -.3 -2.4 0 -.3 -.3 0 -2.4 -.3 -.3 -2.4 0 -.3 -.3 0 -2.4 -.3 -.3 -2.4 0 -.3 -.3 0 -2.4 -.3 -.3 -5.4 0 -.3 -.3 0 -2.4 -.3 -.3 -2.4 0 -.3 -.3 0 -2.4 -.3 -.3 -5.4 0 -.3 -.3 0 -8.4 -.3 -.3 -2.4 0 -.3 -.3 0 -2.4 -.3 -.3 -2.4 0 -.3 -.3 0 -8.4 -.3 -.3 -2.4 0 -.3 -.3 0 -2.4 -.3 -.3 -2.4 0 -.3 -.3 0 -5.4 -.3 -.3 -2.4 0 -.3 -.3 0 -2.4 -.3 -.3 -2.4 0 -.3 -.3 0 -5.4 -.3 -.3 -2.4 0 -.3 -.3 0 -2.4 -.3 -.3 -2.4 0 -.3 -.3 0 -5.4 -.3 -.3 -2.4 0 -.3 -.3 0 -2.4 -.3 -.3 -2.4 0 -.3 -.3 0 -5.4 -.3 -.3 -2.4 0 -.3 -.3 0 -5.4 -.3 -.3 -2.4 0 -.3 -.3 0 -8.4 -.3 -.3 -2.4 0 -.3 -.3 0 -2.4 -.3 -.3 -2.4 0 -.3 -.3 0 -14.4 -.3 -.3 -2.4 0 -.3 -.3 0 -2.4 -.3 -.3 -2.4 0 -.3 -.3 0 -8.4 -.3 -.3 -5.4 0 -.3 -.3 0 -8.4 -.3 -.3 -2.4 0 -.3 -.3 0 -11.4 .3 -.3 2.4 0 .3 -.3 0 -2.4 .3 -.3 2.4 0 .3 .3 0 2.4 .3 .3 2.4 0 .3 .3 0 2.4 .3 .3 5.4 0 .3 .3 0 8.4 .3 .3 2.4 0 .3 .3 0 2.4 .3 .3 2.4 0 .3 .3 0 8.4 .3 .3 2.4 0 .3 .3 0 8.4 .3 .3 2.4 0 .3 .3 0 5.4 .3 .3 2.4 0 .3 .3 0 2.4 .3 .3 2.4 0 .3 .3 0 5.4 .3 .3 2.4 0 .3 .3 0 2.4 .3 .3 2.4 0 .3 .3 0 8.4 .3 .3 2.4 0 .3 .3 0 2.4 .3 .3 2.4 0 .3 .3 0 2.4 .3 .3 2.4 0 .3 .3 0 2.4 .3 .3 2.4 0 .3 -.3 0 -5.4 .3 -.3 2.4 0 .3 -.3 0 -8.4 -.3 -.3 -2.4 0 -.3 -.3 0 -11.4 .3 -.3 5.4 0 .3 -.3 0 -2.4 -.3 -.3 -5.4 0 -.3 -.3 0 -2.4 -.3 -.3 -2.4 0 -.3 -.3 0 -2.4 .3 -.3 8.4 0 .3 .3 0 2.4 .3 .3 5.4 0 .3 .3 0 11.4 -.3 .3 -5.4 0 -.3 .3 0 5.4 .3 .3 5.4 0 .3 .3 0 2.4 .3 .3 5.4 0 .3 -.3 0 -38.4 .3 -.3 2.4 0 .3 -.3 0 -5.4 .3 -.3 2.4 0 .3 -.3 0 -20.4 .3 -.3 2.4 0 .3 -.3 0 -5.4 .3 -.3 2.4 0 .3 -.3 0 -5.4 .3 -.3 5.4 0 .3 .3 0 2.4 -.3 .3 -2.4 0 -.3 .3 0 2.4 .3 .3 2.4 0 .3 .3 0 53.4 -.3 .3 -2.4 0 -.3 .3 0 20.4 -.3 .3 -2.4 0 -.3 .3 0 14.4 -.3 .3 -2.4 0 -.3 .3 0 5.4 -.3 .3 -2.4 0 -.3 .3 0 8.4 .3 .3 2.4 0 .3 .3 0 2.4 .3 .3 2.4 0 .3 .3 0 5.4 .3 .3 5.4 0 .3 .3 0 5.4 .3 .3 2.4 0 .3 .3 0 2.4 .3 .3 2.4 0 .3 .3 0 8.4 .3 .3 2.4 0 .3 .3 0 5.4 .3 .3 5.4 0 .3 .3 0 2.4 .3 .3 2.4 0 .3 .3 0 8.4 .3 .3 11.4 0 .3 .3 0 2.4 .3 .3 5.2 0 .5 .5 0 5.2 .3 .3 2.3 0 .4 .4 0 2.3 .3 .3 2.3 0 .4 .4 0 2.3 .3 .3 5.1 0 .6 .6 0 2 .4 .4 2 0 .6 .6 0 1.9 .5 .5 1.9 0 .6 .6 0 1.9 .5 .5 7.6 0 .9 .9 0 1.3 .8 .8 1.3 0 .9 .9 0 1.3 .8 .8 4.2 0 1 1 0 1.1 .9 .9 4.1 0 1 1 0 1 1 1 3.9 0 1.1 1.1 0 .9 1 1 3.8 0 1.2 1.2 0 .7 1.1 1.1 54.7 0 1.2 1.2 0 .6 1.2 1.2 3.6 0 1.2 1.2 0 .6 1.2 1.2 45.6 0 1.2 -1.2 0 -.6 1.2 -1.2 .6 0 1.2 -1.2 0 -.6 1.2 -1.2 9.6 0 1.2 -1.2 0 -.6 1.2 -1.2 .6 0 1.2 -1.2 0 -.6 1.2 -1.2 6.6 0 1.2 -1.2 0 -.6 1.2 -1.2 3.6 0 1.2 -1.2 0 -.6 1.2 -1.2 1.8 0M821.8 416.5l-.3 .3 0 5.4 .3 .3 2.4 0 .3 -.3 0 -5.4 -.3 -.3zM731.8 428.5l-.3 .3 0 5.4 .3 .3 5.4 0 .3 -.3 0 -5.4 -.3 -.3zM836.8 605.5l-.3 .3 0 2.4 .3 .3 2.4 0 .3 -.3 0 -2.4 -.3 -.3zM659.5 743.5l0 -4.8 1.2 -1.2 .6 0 1.2 -1.2 0 -.6 1.2 -1.2 .6 0 1.2 -1.2 0 -.6 1.2 -1.2 .6 0 1.2 -1.2 0 -.6 1.2 -1.2 3.6 0 1.2 -1.2 0 -.6 1.2 -1.2 .6 0 1.2 -1.2 0 -.6 1.2 -1.2 15.6 0 1.2 -1.2 0 -.6 1.2 -1.2 6.6 0 1.2 -1.2 0 -.6 1.2 -1.2 6.6 0 1.2 -1.2 0 -.6 1.2 -1.2 3.6 0 1.2 -1.2 0 -.6 1.2 -1.2 3.6 0 1.2 -1.2 0 -.6 1.2 -1.2 .6 0 1.2 -1.2 0 -.6 1.2 -1.2 3.6 0 1.2 -1.2 0 -.6 1.2 -1.2 .6 0 1.2 -1.2 0 -.6 1.2 -1.2 3.6 0 1.2 -1.2 0 -.6 1.2 -1.2 3.6 0 1.2 -1.2 0 -.6 1.2 -1.2 57.6 0 1.2 -1.2 0 -.6 1.2 -1.2 27.6 0 1.2 -1.2 0 -.6 1.2 -1.2 15.6 0 1.2 -1.2 0 -.6 1.2 -1.2 3.6 0 1.2 -1.2 0 -.6 1.2 -1.2 .6 0 1.2 -1.2 0 -3.8 -1 -1 -.9 0 -1.1 -1.1 0 -10.1 -.8 -.8 -4.2 0 -1 -1 0 -16.7 -.3 -.3 -2.3 0 -.4 -.4 0 -5.3 -.3 -.3 -2.4 0 -.3 -.3 0 -11.4 -.3 -.3 -2.4 0 -.3 -.3 0 -2.4 -.3 -.3 -2.4 0 -.3 -.3 0 -2.4 -.3 -.3 -2.4 0 -.3 -.3 0 -5.4 .3 -.3 2.4 0 .3 -.3 0 -17.4 -.3 -.3 -5.4 0 -.3 .3 0 5.4 -.3 .3 -11.4 0 -.3 -.3 0 -5.4 -.3 -.3 -2.4 0 -.3 -.3 0 -5.4 -.3 -.3 -2.4 0 -.3 -.3 0 -11.4 -.3 -.3 -11.4 0 -.3 -.3 0 -2.4 -.3 -.3 -2.4 0 -.3 -.3 0 -2.4 -.3 -.3 -2.4 0 -.3 -.3 0 -2.4 -.3 -.3 -2.4 0 -.3 -.3 0 -2.4 -.3 -.3 -2.4 0 -.3 -.3 0 -5.4 -.3 -.3 -2.4 0 -.3 -.3 0 -2.4 -.3 -.3 -2.4 0 -.3 -.3 0 -8.4 -.3 -.3 -2.4 0 -.3 -.3 0 -2.4 -.3 -.3 -2.4 0 -.3 -.3 0 -2.4 -.3 -.3 -2.4 0 -.3 -.3 0 -5.4 -.3 -.3 -2.4 0 -.3 -.3 0 -5.4 -.3 -.3 -5.4 0 -.3 -.3 0 -8.4 -.3 -.3 -2.4 0 -.3 -.3 0 -2.4 -.3 -.3 -2.4 0 -.3 -.3 0 -5.4 -.3 -.3 -2.4 0 -.3 -.3 0 -5.4 -.3 -.3 -2.4 0 -.3 -.3 0 -5.4 -.3 -.3 -2.4 0 -.3 -.3 0 -5.4 -.3 -.3 -2.4 0 -.3 -.3 0 -17.4 -.3 -.3 -2.4 0 -.3 -.3 0 -5.4 -.3 -.3 -5.4 0 -.3 -.3 0 -2.4 -.3 -.3 -2.4 0 -.3 -.3 0 -14.4 .3 -.3 8.4 0 .3 .3 0 8.4 .3 .3 2.4 0 .3 .3 0 2.4 .3 .3 2.4 0 .3 .3 0 2.4 .3 .3 2.4 0 .3 .3 0 14.4 .3 .3 2.4 0 .3 .3 0 2.4 .3 .3 2.4 0 .3 .3 0 5.4 .3 .3 2.4 0 .3 .3 0 2.4 .3 .3 2.4 0 .3 .3 0 5.4 .3 .3 2.4 0 .3 .3 0 5.4 .3 .3 2.4 0 .3 .3 0 2.4 .3 .3 2.4 0 .3 .3 0 2.4 .3 .3 2.4 0 .3 .3 0 5.4 .3 .3 2.4 0 .3 .3 0 2.4 .3 .3 2.4 0 .3 .3 0 2.4 .3 .3 2.4 0 .3 -.3 0 -5.4 .3 -.3 11.4 0 .3 -.3 0 -11.4 .3 -.3 2.4 0 .3 -.3 0 -32.4 .3 -.3 2.4 0 .3 -.3 0 -8.4 .3 -.3 2.4 0 .3 -.3 0 -5.4 .3 -.3 2.4 0 .3 -.3 0 -2.4 -.3 -.3 -2.4 0 -.3 -.3 0 -2.4 .3 -.3 2.4 0 .3 -.3 0 -14.4 .3 -.3 5.4 0 .3 .3 0 2.4 .3 .3 2.4 0 .3 .3 0 11.4 -.3 .3 -2.4 0 -.3 .3 0 5.4 .3 .3 2.4 0 .3 .3 0 17.4 -.3 .3 -2.4 0 -.3 .3 0 17.4 -.3 .3 -2.4 0 -.3 .3 0 23.4 -.3 .3 -2.4 0 -.3 .3 0 11.4 -.3 .3 -2.4 0 -.3 .3 0 17.4 .3 .3 5.4 0 .3 .3 0 5.4 .3 .3 2.4 0 .3 .3 0 5.4 .3 .3 5.4 0 .3 .3 0 2.4 .3 .3 2.4 0 .3 .3 0 8.4 .3 .3 2.4 0 .3 .3 0 2.4 .3 .3 2.4 0 .3 .3 0 2.4 .3 .3 2.4 0 .3 .3 0 11.4 .3 .3 14.4 0 .3 .3 0 2.4 .3 .3 2.4 0 .3 .3 0 14.4 -.3 .3 -2.4 0 -.3 -.3 0 -2.4 -.3 -.3 -2.4 0 -.3 -.3 0 -2.4 .3 -.3 2.4 0 .3 -.3 0 -2.4 .3 -.3 8.4 0 .3 .3 0 2.4 .3 .3 5.4 0 .3 .3 0 2.4 .3 .3 2.4 0 .3 .3 0 2.4 .3 .3 2.4 0 .3 .3 0 2.4 .3 .3 5.2 0 .5 .5 0 2.1 .4 .4 5 0 .6 .6 0 1.9 .5 .5 1.8 0 .7 .7 0 1.8 .5 .5 4.7 0 .8 .8 0 1.5 .7 .7 4.4 0 .9 .9 0 1.3 .8 .8 4.2 0 1 1 0 1.1 .9 .9 1.1 0 1 1 0 1.1 .9 .9 7 0 1.1 1.1 0 .9 1 1 3.8 0 1.2 1.2 0 .7 1.1 1.1 33.7 0 1.2 1.2 0 .6 1.2 1.2 3.6 0 1.2 1.2 0 .6 1.2 1.2 9.6 0 1.2 1.2 0 .6 1.2 1.2 24.6 0 1.2 -1.2 0 -.6 1.2 -1.2 18.6 0 1.2 -1.2 0 -.6 1.2 -1.2 .6 0 1.2 -1.2 0 -.6 1.2 -1.2 9.6 0 1.2 -1.2 0 -.6 1.2 -1.2 16.8 0M791.8 494.5l-.3 .3 0 5.4 .3 .3 5.4 0 .3 -.3 0 -5.4 -.3 -.3zM797.8 506.5l-.3 .3 0 5.4 .3 .3 5.4 0 .3 -.3 0 -5.4 -.3 -.3zM794.8 527.5l-.3 .3 0 2.4 .3 .3 2.4 0 .3 -.3 0 -2.4 -.3 -.3zM677.5 743.5l0 -1.8 1.2 -1.2 3.6 0 1.2 -1.2 0 -.6 1.2 -1.2 3.6 0 1.2 -1.2 0 -.6 1.2 -1.2 18.6 0 1.2 -1.2 0 -.6 1.2 -1.2 6.6 0 1.2 -1.2 0 -.6 1.2 -1.2 6.6 0 1.2 -1.2 0 -.6 1.2 -1.2 .6 0 1.2 -1.2 0 -.6 1.2 -1.2 3.6 0 1.2 -1.2 0 -.6 1.2 -1.2 3.6 0 1.2 -1.2 0 -.6 1.2 -1.2 3.6 0 1.2 -1.2 0 -.6 1.2 -1.2 3.6 0 1.2 -1.2 0 -.6 1.2 -1.2 9.6 0 1.2 -1.2 0 -.6 1.2 -1.2 6.6 0 1.2 -1.2 0 -.6 1.2 -1.2 18.6 0 1.2 -1.2 0 -.6 1.2 -1.2 39.6 0 1.2 -1.2 0 -.6 1.2 -1.2 27.6 0 1.2 -1.2 0 -.6 1.2 -1.2 3.6 0 1.2 -1.2 0 -.6 1.2 -1.2 .6 0 1.2 -1.2 0 -9.9 -.9 -.9 -1.1 0 -1 -1 0 -7.3 -.7 -.7 -1.5 0 -.8 -.8 0 -1.5 -.7 -.7 -1.5 0 -.8 -.8 0 -4.7 -.5 -.5 -4.7 0 -.8 -.8 0 -19.9 -.3 -.3 -2.4 0 -.3 -.3 0 -2.4 -.3 -.3 -2.4 0 -.3 -.3 0 -11.4 -.3 -.3 -2.4 0 -.3 -.3 0 -2.4 -.3 -.3 -2.4 0 -.3 -.3 0 -2.4 -.3 -.3 -5.4 0 -.3 -.3 0 -11.4 .3 -.3 11.4 0 .3 .3 0 2.4 .3 .3 5.4 0 .3 -.3 0 -5.4 .3 -.3 2.4 0 .3 .3 0 2.4 .3 .3 2.4 0 .3 .3 0 2.4 .3 .3 5.4 0 .3 .3 0 8.4 .3 .3 17.2 0 .5 .5 0 5.2 .3 .3 5.2 0 .5 .5 0 2.1 .4 .4 2.1 0 .5 .5 0 2.1 .4 .4 7.8 0 .8 .8 0 1.5 .7 .7 4.4 0 .9 .9 0 1.3 .8 .8 4.2 0 1 1 0 1.1 .9 .9 1.1 0 1 1 0 1.1 .9 .9 7 0 1.1 1.1 0 .9 1 1 3.8 0 1.2 1.2 0 .7 1.1 1.1 18.7 0 1.2 1.2 0 .6 1.2 1.2 3.6 0 1.2 1.2 0 .6 1.2 1.2 6.6 0 1.2 1.2 0 .6 1.2 1.2 3.6 0 1.2 1.2 0 .6 1.2 1.2 27.6 0 1.2 -1.2 0 -.6 1.2 -1.2 3.6 0 1.2 -1.2 0 -.6 1.2 -1.2 6.6 0 1.2 -1.2 0 -.6 1.2 -1.2 3.6 0 1.2 -1.2 0 -.6 1.2 -1.2 12.6 0 1.2 -1.2 0 -.6 1.2 -1.2 6.6 0 1.2 1.2 0 .6 1.2 1.2 4.8 0M818.8 440.5l-.3 .3 0 5.4 .3 .3 2.4 0 .3 .3 0 5.4 .3 .3 5.4 0 .3 -.3 0 -11.4 -.3 -.3zM743.8 452.5l-.3 .3 0 11.4 .3 .3 5.4 0 .3 -.3 0 -5.4 .3 -.3 2.4 0 .3 -.3 0 -2.4 -.3 -.3 -2.4 0 -.3 -.3 0 -2.4 -.3 -.3zM815.8 461.5l-.3 .3 0 5.4 -.3 .3 -2.4 0 -.3 .3 0 2.4 .3 .3 2.4 0 .3 .3 0 2.4 -.3 .3 -2.4 0 -.3 .3 0 5.4 -.3 .3 -2.4 0 -.3 .3 0 14.4 .3 .3 2.4 0 .3 .3 0 11.4 -.3 .3 -2.4 0 -.3 .3 0 5.4 -.3 .3 -2.4 0 -.3 .3 0 5.4 -.3 .3 -8.4 0 -.3 .3 0 17.4 .3 .3 5.4 0 .3 -.3 0 -5.4 -.3 -.3 -11.4 0 -.3 -.3 0 -5.4 -.3 -.3 -2.4 0 -.3 -.3 0 -2.4 -.3 -.3 -2.4 0 -.3 -.3 0 -5.4 -.3 -.3 -2.4 0 -.3 -.3 0 -2.4 -.3 -.3 -2.4 0 -.3 -.3 0 -5.4 -.3 -.3 -2.4 0 -.3 -.3 0 -2.4 -.3 -.3 -2.4 0 -.3 -.3 0 -8.4 -.3 -.3 -5.4 0 -.3 -.3 0 -5.4 -.3 -.3 -2.4 0 -.3 -.3 0 -2.4 -.3 -.3 -2.4 0 -.3 -.3 0 -8.4 -.3 -.3 -2.4 0 -.3 -.3 0 -11.4 -.3 -.3 -5.4 0 -.3 .3 0 5.4 .3 .3 2.4 0 .3 .3 0 8.4 .3 .3 2.4 0 .3 .3 0 2.4 -.3 .3 -2.4 0 -.3 .3 0 8.4 .3 .3 2.4 0 .3 .3 0 5.4 .3 .3 2.4 0 .3 .3 0 8.4 .3 .3 2.4 0 .3 .3 0 2.4 .3 .3 2.4 0 .3 .3 0 8.4 .3 .3 5.4 0 .3 .3 0 8.4 .3 .3 2.4 0 .3 .3 0 2.4 .3 .3 2.4 0 .3 .3 0 5.4 .3 .3 2.4 0 .3 .3 0 2.4 .3 .3 2.4 0 .3 .3 0 2.4 .3 .3 2.4 0 .3 .3 0 2.4 .3 .3 2.4 0 .3 .3 0 8.4 .3 .3 2.4 0 .3 .3 0 2.4 .3 .3 2.4 0 .3 .3 0 2.4 .3 .3 5.4 0 .3 .3 0 5.4 .3 .3 5.4 0 .3 .3 0 8.4 .3 .3 11.4 0 .3 -.3 0 -2.4 .3 -.3 8.4 0 .3 -.3 0 -5.4 -.3 -.3 -5.4 0 -.3 -.3 0 -5.4 -.3 -.3 -2.4 0 -.3 -.3 0 -5.4 -.3 -.3 -2.4 0 -.3 -.3 0 -2.4 -.3 -.3 -2.4 0 -.3 -.3 0 -26.4 .3 -.3 2.4 0 .3 -.3 0 -8.4 .3 -.3 2.4 0 .3 -.3 0 -26.4 .3 -.3 2.4 0 .3 -.3 0 -2.4 -.3 -.3 -2.4 0 -.3 -.3 0 -5.4 .3 -.3 2.4 0 .3 -.3 0 -2.4 .3 -.3 2.4 0 .3 -.3 0 -8.4 -.3 -.3 -2.4 0 -.3 -.3 0 -2.4 -.3 -.3 -2.4 0 -.3 -.3 0 -2.4 -.3 -.3zM830.8 578.5l-.3 .3 0 8.4 -.3 .3 -2.4 0 -.3 .3 0 11.4 .3 .3 2.4 0 .3 .3 0 2.4 .3 .3 5.4 0 .3 -.3 0 -2.4 .3 -.3 2.4 0 .3 -.3 0 -2.4 .3 -.3 2.4 0 .3 -.3 0 -5.4 -.3 -.3 -2.4 0 -.3 -.3 0 -2.4 -.3 -.3 -2.4 0 -.3 -.3 0 -8.4 -.3 -.3zM737.5 743.5l0 -1.8 1.2 -1.2 .6 0 1.2 -1.2 0 -.6 1.2 -1.2 .6 0 1.2 -1.2 0 -.6 1.2 -1.2 3.6 0 1.2 -1.2 0 -.6 1.2 -1.2 .6 0 1.2 -1.2 0 -.6 1.2 -1.2 6.6 0 1.2 -1.2 0 -.6 1.2 -1.2 3.6 0 1.2 -1.2 0 -.6 1.2 -1.2 3.6 0 1.2 -1.2 0 -.6 1.2 -1.2 3.6 0 1.2 -1.2 0 -.6 1.2 -1.2 9.6 0 1.2 -1.2 0 -.6 1.2 -1.2 9.6 0 1.2 1.2 0 .6 1.2 1.2 12.6 0 1.2 1.2 0 .6 1.2 1.2 12.6 0 1.2 -1.2 0 -.6 1.2 -1.2 9.6 0 1.2 -1.2 0 -.6 1.2 -1.2 3.6 0 1.2 -1.2 0 -.6 1.2 -1.2 18.6 0 1.2 -1.2 0 -.6 1.2 -1.2 3.6 0 1.2 -1.2 0 -.6 1.2 -1.2 6.6 0 1.2 -1.2 0 -16 -.8 -.8 -1.3 0 -.9 -.9 0 -4.4 -.7 -.7 -1.5 0 -.8 -.8 0 -10.9 -.3 -.3 -8 0 -.7 -.7 0 -4.9 -.4 -.4 -2.1 0 -.5 -.5 0 -2.1 .4 -.4 2.3 0 .3 -.3 0 -2.4 .3 -.3 2.4 0 .3 -.3 0 -5.4 -.3 -.3 -2.4 0 -.3 -.3 0 -5.4 -.3 -.3 -2.4 0 -.3 -.3 0 -2.4 -.3 -.3 -5.4 0 -.3 -.3 0 -11.4 .3 -.3 8.4 0 .3 -.3 0 -2.4 .3 -.3 2.4 0 .3 .3 0 2.4 .3 .3 5.4 0 .3 -.3 0 -2.4 .3 -.3 2.4 0 .3 -.3 0 -2.4 .3 -.3 2.4 0 .3 .3 0 2.4 .3 .3 5.4 0 .3 .3 0 5.4 .3 .3 2.4 0 .3 .3 0 2.4 .3 .3 2.4 0 .3 .3 0 2.4 .3 .3 14 0 .7 .7 0 1.8 .5 .5 1.8 0 .7 .7 0 1.8 .5 .5 4.7 0 .8 .8 0 4.7 .5 .5 10.5 0 1 1 0 1.1 .9 .9 4 0 1.1 1.1 0 .9 1 1 3.9 0 1.1 1.1 0 3.9 1 1 3.9 0 1.1 1.1 0 .8 1.1 1.1 3.7 0 1.2 1.2 0 .7 1.1 1.1 12.7 0 1.2 1.2 0 .6 1.2 1.2 3.6 0 1.2 1.2 0 .6 1.2 1.2 6.6 0 1.2 1.2 0 .6 1.2 1.2 3.6 0 1.2 1.2 0 .6 1.2 1.2 21.6 0 1.2 -1.2 0 -.6 1.2 -1.2 .6 0 1.2 -1.2 0 -.6 1.2 -1.2 3.6 0 1.2 -1.2 0 -.6 1.2 -1.2 .6 0 1.2 -1.2 0 -.6 1.2 -1.2 6.6 0 1.2 -1.2 0 -.6 1.2 -1.2 6.6 0 1.2 -1.2 0 -.6 1.2 -1.2 13.8 0M821.8 440.5l-.3 .3 0 8.4 .3 .3 2.4 0 .3 -.3 0 -2.4 .3 -.3 2.4 0 .3 -.3 0 -2.4 -.3 -.3 -2.4 0 -.3 -.3 0 -2.4 -.3 -.3zM746.8 455.5l-.3 .3 0 2.4 .3 .3 2.4 0 .3 -.3 0 -2.4 -.3 -.3zM815.8 464.5l-.3 .3 0 5.4 .3 .3 2.4 0 .3 .3 0 2.4 -.3 .3 -2.4 0 -.3 .3 0 5.4 -.3 .3 -2.4 0 -.3 .3 0 2.4 -.3 .3 -2.4 0 -.3 .3 0 8.4 .3 .3 2.4 0 .3 .3 0 8.4 .3 .3 2.4 0 .3 .3 0 5.4 -.3 .3 -2.4 0 -.3 .3 0 2.4 -.3 .3 -2.4 0 -.3 .3 0 5.4 -.3 .3 -2.4 0 -.3 .3 0 8.4 -.3 .3 -2.4 0 -.3 .3 0 11.4 -.3 .3 -5.4 0 -.3 -.3 0 -2.4 -.3 -.3 -2.4 0 -.3 -.3 0 -2.4 -.3 -.3 -2.4 0 -.3 -.3 0 -5.4 -.3 -.3 -5.4 0 -.3 -.3 0 -5.4 -.3 -.3 -2.4 0 -.3 -.3 0 -2.4 -.3 -.3 -2.4 0 -.3 -.3 0 -8.4 -.3 -.3 -5.4 0 -.3 -.3 0 -8.4 -.3 -.3 -2.4 0 -.3 -.3 0 -2.4 -.3 -.3 -2.4 0 -.3 -.3 0 -2.4 -.3 -.3 -2.4 0 -.3 -.3 0 -2.4 -.3 -.3 -2.4 0 -.3 -.3 0 -2.4 -.3 -.3 -5.4 0 -.3 .3 0 2.4 .3 .3 2.4 0 .3 .3 0 2.4 .3 .3 2.4 0 .3 .3 0 11.4 .3 .3 2.4 0 .3 .3 0 2.4 .3 .3 2.4 0 .3 .3 0 8.4 .3 .3 2.4 0 .3 .3 0 2.4 .3 .3 2.4 0 .3 .3 0 2.4 .3 .3 2.4 0 .3 .3 0 5.4 .3 .3 2.4 0 .3 .3 0 8.4 .3 .3 5.4 0 .3 .3 0 5.4 .3 .3 5.4 0 .3 .3 0 8.4 .3 .3 2.4 0 .3 .3 0 2.4 .3 .3 2.4 0 .3 .3 0 2.4 .3 .3 5.4 0 .3 .3 0 2.4 .3 .3 5.4 0 .3 .3 0 5.4 .3 .3 2.4 0 .3 .3 0 2.4 .3 .3 8.4 0 .3 -.3 0 -14.4 -.3 -.3 -5.4 0 -.3 -.3 0 -2.4 -.3 -.3 -2.4 0 -.3 .3 0 2.4 -.3 .3 -2.4 0 -.3 -.3 0 -5.4 .3 -.3 2.4 0 .3 -.3 0 -5.4 .3 -.3 2.4 0 .3 -.3 0 -20.4 .3 -.3 2.4 0 .3 -.3 0 -11.4 .3 -.3 2.4 0 .3 -.3 0 -5.4 -.3 -.3 -2.4 0 -.3 -.3 0 -5.4 .3 -.3 2.4 0 .3 -.3 0 -20.4 .3 -.3 2.4 0 .3 -.3 0 -8.4 -.3 -.3 -2.4 0 -.3 -.3 0 -2.4 -.3 -.3zM833.8 590.5l-.3 .3 0 2.4 -.3 .3 -2.4 0 -.3 .3 0 2.4 .3 .3 8.4 0 .3 -.3 0 -5.4 -.3 -.3zM854.8 614.5l-.3 .3 0 2.4 .3 .3 2.4 0 .3 .3 0 5.4 .3 .3 2.4 0 .3 -.3 0 -2.4 .3 -.3 2.4 0 .3 .3 0 2.4 .3 .3 5.4 0 .3 -.3 0 -8.4 -.3 -.3 -5.4 0 -.3 .3 0 2.4 -.3 .3 -2.4 0 -.3 -.3 0 -2.4 -.3 -.3zM764.5 743.5l0 -1.8 1.2 -1.2 3.6 0 1.2 -1.2 0 -.6 1.2 -1.2 3.6 0 1.2 -1.2 0 -.6 1.2 -1.2 6.6 0 1.2 -1.2 0 -3.6 1.2 -1.2 21.6 0 1.2 1.2 0 .6 1.2 1.2 3.6 0 1.2 1.2 0 .6 1.2 1.2 24.6 0 1.2 -1.2 0 -.6 1.2 -1.2 .6 0 1.2 -1.2 0 -.6 1.2 -1.2 6.6 0 1.2 -1.2 0 -.6 1.2 -1.2 .6 0 1.2 -1.2 0 -.6 1.2 -1.2 9.6 0 1.2 -1.2 0 -.6 1.2 -1.2 3.6 0 1.2 -1.2 0 -.6 1.2 -1.2 9.6 0 1.2 -1.2 0 -.6 1.2 -1.2 3.6 0 1.2 -1.2 0 -.6 1.2 -1.2 .6 0 1.2 -1.2 0 -9.9 .9 -.9 1.3 0 .8 -.8 0 -1.5 -.7 -.7 -1.5 0 -.8 -.8 0 -1.5 -.7 -.7 -1.5 0 -.8 -.8 0 -4.7 -.5 -.5 -1.8 0 -.7 -.7 0 -1.8 -.5 -.5 -1.8 0 -.7 -.7 0 -11 -.3 -.3 -2.4 0 -.3 -.3 0 -2.4 -.3 -.3 -2.4 0 -.3 -.3 0 -8.4 .3 -.3 2.4 0 .3 -.3 0 -2.4 -.3 -.3 -2.4 0 -.3 -.3 0 -11.4 .3 -.3 5.4 0 .3 -.3 0 -14.4 .3 -.3 2.4 0 .3 .3 0 2.4 .3 .3 2.4 0 .3 .3 0 5.4 .3 .3 2.4 0 .3 .3 0 2.4 .3 .3 8.4 0 .3 .3 0 2.4 .3 .3 5.4 0 .3 .3 0 5.4 .3 .3 11.2 0 .5 .5 0 2.1 .4 .4 2.1 0 .5 .5 0 2.1 .4 .4 7.8 0 .8 .8 0 1.5 .7 .7 1.5 0 .8 .8 0 1.5 .7 .7 4.4 0 .9 .9 0 1.3 .8 .8 1.3 0 .9 .9 0 1.3 .8 .8 1.3 0 .9 .9 0 1.3 .8 .8 1.3 0 .9 .9 0 1.3 .8 .8 7.1 0 1.1 1.1 0 .9 1 1 .9 0 1.1 1.1 0 .9 1 1 3.8 0 1.2 1.2 0 .7 1.1 1.1 3.7 0 1.2 1.2 0 .6 1.2 1.2 6.6 0 1.2 1.2 0 .6 1.2 1.2 6.6 0 1.2 1.2 0 .6 1.2 1.2 24.6 0 1.2 -1.2 0 -.6 1.2 -1.2 6.6 0 1.2 -1.2 0 -.6 1.2 -1.2 15.6 0 1.2 -1.2 0 -.6 1.2 -1.2 3.6 0 1.2 -1.2 0 -.6 1.2 -1.2 7.8 0M815.8 476.5l-.3 .3 0 5.4 -.3 .3 -2.4 0 -.3 .3 0 11.4 .3 .3 2.4 0 .3 .3 0 2.4 .3 .3 2.4 0 .3 -.3 0 -2.4 .3 -.3 2.4 0 .3 -.3 0 -17.4 -.3 -.3zM761.8 494.5l-.3 .3 0 5.4 .3 .3 2.4 0 .3 .3 0 5.4 .3 .3 2.4 0 .3 .3 0 5.4 .3 .3 2.4 0 .3 .3 0 2.4 .3 .3 2.4 0 .3 .3 0 2.4 .3 .3 2.4 0 .3 .3 0 5.4 .3 .3 2.4 0 .3 .3 0 5.4 .3 .3 2.4 0 .3 .3 0 5.4 .3 .3 2.4 0 .3 .3 0 5.4 .3 .3 5.4 0 .3 .3 0 5.4 .3 .3 2.4 0 .3 .3 0 5.4 .3 .3 8.4 0 .3 .3 0 2.4 .3 .3 2.4 0 .3 -.3 0 -5.4 .3 -.3 2.4 0 .3 -.3 0 -8.4 .3 -.3 2.4 0 .3 -.3 0 -11.4 -.3 -.3 -5.4 0 -.3 .3 0 5.4 -.3 .3 -2.4 0 -.3 .3 0 2.4 -.3 .3 -5.4 0 -.3 -.3 0 -5.4 -.3 -.3 -2.4 0 -.3 -.3 0 -2.4 -.3 -.3 -5.4 0 -.3 -.3 0 -5.4 -.3 -.3 -2.4 0 -.3 -.3 0 -5.4 -.3 -.3 -5.4 0 -.3 -.3 0 -8.4 -.3 -.3 -2.4 0 -.3 -.3 0 -2.4 -.3 -.3 -2.4 0 -.3 -.3 0 -5.4 -.3 -.3 -2.4 0 -.3 -.3 0 -2.4 -.3 -.3 -2.4 0 -.3 -.3 0 -2.4 -.3 -.3zM809.8 512.5l-.3 .3 0 11.4 .3 .3 5.4 0 .3 -.3 0 -11.4 -.3 -.3zM815.8 560.5l-.3 .3 0 5.4 .3 .3 5.4 0 .3 -.3 0 -5.4 -.3 -.3zM872.8 632.5l-.3 .3 0 5.4 .3 .3 5.4 0 .3 -.3 0 -2.4 -.3 -.3 -2.4 0 -.3 -.3 0 -2.4 -.3 -.3zM851.5 743.5l0 -1.8 1.2 -1.2 .6 0 1.2 -1.2 0 -.6 1.2 -1.2 .6 0 1.2 -1.2 0 -.6 1.2 -1.2 9.6 0 1.2 -1.2 0 -.6 1.2 -1.2 6.6 0 1.2 -1.2 0 -.6 1.2 -1.2 12.6 0 1.2 -1.2 0 -.6 1.2 -1.2 3.6 0 1.2 -1.2 0 -.6 1.2 -1.2 3.6 0 1.2 -1.2 0 -22.2 -.6 -.6 -1.7 0 -.7 -.7 0 -4.9 -.4 -.4 -2 0 -.6 -.6 0 -5.1 -.3 -.3 -2.3 0 -.4 -.4 0 -8.3 -.3 -.3 -2.4 0 -.3 -.3 0 -2.4 -.3 -.3 -2.4 0 -.3 -.3 0 -5.4 -.3 -.3 -2.4 0 -.3 -.3 0 -5.4 .3 -.3 5.4 0 .3 -.3 0 -5.4 .3 -.3 2.4 0 .3 -.3 0 -5.4 -.3 -.3 -2.4 0 -.3 -.3 0 -5.4 .3 -.3 11.4 0 .3 .3 0 5.4 .3 .3 5.4 0 .3 .3 0 5.4 .3 .3 11.4 0 .3 .3 0 2.4 .3 .3 2.4 0 .3 .3 0 2.4 .3 .3 5.3 0 .4 .4 0 2.3 .3 .3 2.3 0 .4 .4 0 2.3 .3 .3 8 0 .7 .7 0 1.7 .6 .6 1.7 0 .7 .7 0 1.7 .6 .6 1.7 0 .7 .7 0 1.7 .6 .6 1.7 0 .7 .7 0 1.7 .6 .6 4.6 0 .8 .8 0 1.5 .7 .7 1.4 0 .9 .9 0 1.3 .8 .8 4.2 0 1 1 0 1.1 .9 .9 1.1 0 1 1 0 1.1 .9 .9 4 0 1.1 1.1 0 .9 1 1 .9 0 1.1 1.1 0 .9 1 1 6.8 0 1.2 1.2 0 .7 1.1 1.1 66.7 0 1.2 -1.2 0 -.6 1.2 -1.2 4.8 0M815.8 485.5l-.3 .3 0 8.4 .3 .3 2.4 0 .3 -.3 0 -2.4 .3 -.3 2.4 0 .3 -.3 0 -2.4 -.3 -.3 -2.4 0 -.3 -.3 0 -2.4 -.3 -.3zM764.8 497.5l-.3 .3 0 2.4 .3 .3 2.4 0 .3 -.3 0 -2.4 -.3 -.3zM767.8 500.5l-.3 .3 0 5.4 .3 .3 2.4 0 .3 .3 0 5.4 .3 .3 2.4 0 .3 .3 0 2.4 .3 .3 2.4 0 .3 -.3 0 -8.4 -.3 -.3 -2.4 0 -.3 -.3 0 -2.4 -.3 -.3 -2.4 0 -.3 -.3 0 -2.4 -.3 -.3zM809.8 512.5l-.3 .3 0 8.4 .3 .3 5.4 0 .3 -.3 0 -8.4 -.3 -.3zM779.8 521.5l-.3 .3 0 5.4 .3 .3 5.4 0 .3 -.3 0 -2.4 -.3 -.3 -2.4 0 -.3 -.3 0 -2.4 -.3 -.3zM785.8 530.5l-.3 .3 0 8.4 .3 .3 2.4 0 .3 .3 0 2.4 .3 .3 5.4 0 .3 .3 0 8.4 .3 .3 2.4 0 .3 .3 0 2.4 .3 .3 5.4 0 .3 -.3 0 -2.4 .3 -.3 2.4 0 .3 -.3 0 -2.4 .3 -.3 2.4 0 .3 -.3 0 -5.4 .3 -.3 2.4 0 .3 -.3 0 -5.4 -.3 -.3 -8.4 0 -.3 .3 0 5.4 -.3 .3 -2.4 0 -.3 -.3 0 -2.4 -.3 -.3 -2.4 0 -.3 -.3 0 -2.4 -.3 -.3 -2.4 0 -.3 -.3 0 -2.4 -.3 -.3 -2.4 0 -.3 -.3 0 -2.4 -.3 -.3zM905.5 743.5l0 -1.8 1.2 -1.2 3.6 0 1.2 -1.2 0 -.6 1.2 -1.2 9.6 0 1.2 -1.2 0 -12.9 -.9 -.9 -1.2 0 -.9 -.9 0 -1.3 -.8 -.8 -1.3 0 -.9 -.9 0 -7.5 -.6 -.6 -4.6 0 -.8 -.8 0 -10.9 -.3 -.3 -5.1 0 -.6 -.6 0 -5.1 -.3 -.3 -2.3 0 -.4 -.4 0 -11.3 .3 -.3 2.4 0 .3 -.3 0 -5.4 -.3 -.3 -8.4 0 -.3 -.3 0 -5.4 .3 -.3 2.4 0 .3 -.3 0 -2.4 .3 -.3 2.4 0 .3 -.3 0 -2.4 .3 -.3 8.4 0 .3 -.3 0 -2.4 .3 -.3 2.4 0 .3 .3 0 2.4 .3 .3 5.4 0 .3 .3 0 2.4 .3 .3 8.4 0 .3 .3 0 2.4 .3 .3 2.4 0 .3 .3 0 5.4 .3 .3 8.3 0 .4 .4 0 2.3 .3 .3 2.3 0 .4 .4 0 2.3 .3 .3 5.2 0 .5 .5 0 2.1 .4 .4 2.1 0 .5 .5 0 2.1 .4 .4 5 0 .6 .6 0 1.9 .5 .5 4.7 0 .8 .8 0 1.5 .7 .7 1.5 0 .8 .8 0 1.5 .7 .7 1.5 0 .8 .8 0 1.5 .7 .7 4.4 0 .9 .9 0 4.4 .7 .7 7.3 0 1 1 0 1.1 .9 .9 1.1 0 1 1 0 1 1 1 21.8 0 1.2 1.2 0 .6 1.2 1.2 15.6 0 1.2 1.2 0 .6 1.2 1.2 31.8 0M770.8 506.5l-.3 .3 0 5.4 .3 .3 5.4 0 .3 -.3 0 -2.4 -.3 -.3 -2.4 0 -.3 -.3 0 -2.4 -.3 -.3zM809.8 515.5l-.3 .3 0 5.4 .3 .3 2.4 0 .3 -.3 0 -2.4 .3 -.3 2.4 0 .3 -.3 0 -2.4 -.3 -.3zM785.8 533.5l-.3 .3 0 2.4 .3 .3 2.4 0 .3 .3 0 2.4 .3 .3 2.4 0 .3 .3 0 2.4 .3 .3 2.4 0 .3 .3 0 2.4 .3 .3 2.4 0 .3 .3 0 5.4 .3 .3 5.4 0 .3 -.3 0 -2.4 .3 -.3 5.4 0 .3 -.3 0 -11.4 -.3 -.3 -2.4 0 -.3 .3 0 2.4 -.3 .3 -2.4 0 -.3 .3 0 2.4 -.3 .3 -5.4 0 -.3 -.3 0 -5.4 -.3 -.3 -5.4 0 -.3 -.3 0 -2.4 -.3 -.3zM935.5 743.5l0 -14.3 -.7 -.7 -1.5 0 -.8 -.8 0 -4.7 -.5 -.5 -1.9 0 -.6 -.6 0 -5 -.4 -.4 -5 0 -.6 -.6 0 -5 -.4 -.4 -2.1 0 -.5 -.5 0 -2.1 -.4 -.4 -2.1 0 -.5 -.5 0 -5.2 -.3 -.3 -2.3 0 -.4 -.4 0 -2.3 -.3 -.3 -2.4 0 -.3 -.3 0 -5.4 -.3 -.3 -2.4 0 -.3 -.3 0 -5.4 .3 -.3 2.4 0 .3 -.3 0 -2.4 .3 -.3 2.4 0 .3 -.3 0 -2.4 .3 -.3 2.4 0 .3 -.3 0 -5.4 .3 -.3 2.4 0 .3 -.3 0 -2.4 .3 -.3 5.4 0 .3 .3 0 2.4 .3 .3 2.4 0 .3 .3 0 5.4 .3 .3 2.4 0 .3 .3 0 2.4 .3 .3 2.4 0 .3 .3 0 2.4 .3 .3 14.4 0 .3 .3 0 2.4 .3 .3 2.4 0 .3 .3 0 2.4 .3 .3 8.2 0 .5 .5 0 2.1 .4 .4 2 0 .6 .6 0 2 .4 .4 2 0 .6 .6 0 5 .4 .4 5 0 .6 .6 0 1.9 .5 .5 1.9 0 .6 .6 0 1.9 .5 .5 4.7 0 .8 .8 0 1.5 .7 .7 1.5 0 .8 .8 0 1.5 .7 .7 10.2 0 1.1 1.1 0 .9 1 1 3.9 0 1.1 1.1 0 .8 1.1 1.1 12.7 0 1.2 1.2 0 .6 1.2 1.2 3.6 0 1.2 1.2 0 .6 1.2 1.2 37.8 0M791.8 536.5l-.3 .3 0 2.4 .3 .3 2.4 0 .3 -.3 0 -2.4 -.3 -.3zM803.8 542.5l-.3 .3 0 2.4 .3 .3 2.4 0 .3 -.3 0 -2.4 -.3 -.3zM797.8 545.5l-.3 .3 0 2.4 .3 .3 2.4 0 .3 -.3 0 -2.4 -.3 -.3zM899.8 668.5l-.3 .3 0 2.4 .3 .3 5.4 0 .3 -.3 0 -2.4 -.3 -.3zM911.8 668.5l-.3 .3 0 5.4 .3 .3 2.4 0 .3 -.3 0 -2.4 .3 -.3 2.4 0 .3 -.3 0 -2.4 -.3 -.3zM944.5 743.5l0 -8.5 -.5 -.5 -1.9 0 -.6 -.6 0 -8.1 -.3 -.3 -2.3 0 -.4 -.4 0 -2.3 -.3 -.3 -2.3 0 -.4 -.4 0 -11.3 -.3 -.3 -2.4 0 -.3 -.3 0 -2.4 -.3 -.3 -2.4 0 -.3 -.3 0 -2.4 -.3 -.3 -2.4 0 -.3 -.3 0 -5.4 -.3 -.3 -2.4 0 -.3 -.3 0 -5.4 -.3 -.3 -5.4 0 -.3 -.3 0 -5.4 .3 -.3 8.4 0 .3 -.3 0 -5.4 .3 -.3 2.4 0 .3 .3 0 5.4 .3 .3 2.4 0 .3 .3 0 2.4 .3 .3 2.4 0 .3 .3 0 2.4 .3 .3 11.4 0 .3 .3 0 8.4 .3 .3 2.4 0 .3 .3 0 2.4 .3 .3 14.4 0 .3 .3 0 2.4 .3 .3 2.4 0 .3 .3 0 2.4 .3 .3 2.4 0 .3 .3 0 5.4 .3 .3 11.1 0 .6 .6 0 1.9 .5 .5 4.8 0 .7 .7 0 1.7 .6 .6 4.6 0 .8 .8 0 1.5 .7 .7 4.4 0 .9 .9 0 1.3 .8 .8 7.1 0 1.1 1.1 0 .9 1 1 .9 0 1.1 1.1 0 .9 1 1 6.8 0 1.2 1.2 0 .6 1.2 1.2 .6 0 1.2 1.2 0 .6 1.2 1.2 21.6 0 1.2 1.2 0 1.8M953.5 743.5l0 -11.7 -.3 -.3 -5.4 0 -.3 -.3 0 -14.4 -.3 -.3 -5.4 0 -.3 -.3 0 -2.4 .3 -.3 5.4 0 .3 -.3 0 -2.4 .3 -.3 5.4 0 .3 -.3 0 -2.4 .3 -.3 5.4 0 .3 .3 0 2.4 .3 .3 2.4 0 .3 .3 0 2.4 .3 .3 5.4 0 .3 .3 0 2.4 .3 .3 2.4 0 .3 .3 0 2.4 .3 .3 2.4 0 .3 .3 0 2.4 .3 .3 8.3 0 .4 .4 0 2.3 .3 .3 2.3 0 .4 .4 0 2.3 .3 .3 8.1 0 .6 .6 0 1.9 .5 .5 4.7 0 .8 .8 0 1.5 .7 .7 4.4 0 .9 .9 0 1.3 .8 .8 4.2 0 1 1 0 5M935.8 695.5l-.3 .3 0 5.4 .3 .3 5.4 0 .3 -.3 0 -5.4 -.3 -.3zM962.5 743.5l0 -2.7 .3 -.3 2.4 0 .3 -.3 0 -11.4 -.3 -.3 -8.4 0 -.3 -.3 0 -2.4 -.3 -.3 -2.4 0 -.3 -.3 0 -11.4 .3 -.3 5.4 0 .3 .3 0 2.4 .3 .3 5.4 0 .3 .3 0 2.4 .3 .3 2.4 0 .3 .3 0 2.4 .3 .3 2.4 0 .3 .3 0 5.4 .3 .3 14.4 0 .3 .3 0 2.4 .3 .3 2.4 0 .3 .3 0 2.4 .3 .3 5.3 0 .4 .4 0 2.3 .3 .3 5.1 0 .6 .6 0 1.9 .5 .5 1.9 0 .6 .6 0 2.4M968.5 743.5l0 -5.7 .3 -.3 2.4 0 .3 -.3 0 -2.4 .3 -.3 17.4 0 .3 .3 0 2.4 .3 .3 2.4 0 .3 .3 0 5.7"/></g></defs>
<g transform="translate(0,0)">
<polygon points="131.3,79.5 990.4,79.5 990.4,79.5 974.3,103.6 959.3,124.8 935.7,146.7 912,158.4 882.2,174.6 857.3,180.8 829.9,184.6 810.8,188.3 780,194.9 755.1,200.6 731.9,212.2 718.6,212.2 705.3,211.5 675.3,218.4 660,223.3 631,234.6 600,243.8 559.3,256.3 496.2,260.3 392.4,300 307.7,331.1 260.4,339.8 256.7,341.8 248,353.5 236.8,373.4 231.8,383.4 224.4,387.6 200.7,374.2 184.5,373.9 168.3,375.4 131.5,382.2" fill="#e2e2e2"/>
<polygon points="404.1,339.9 868.5,231.2 906.1,519.6 441.7,628.3" fill="#f4f8fe"/>
<polygon points="565.5,354.3 591.3,348.2 594.6,373.5 568.8,379.6" fill="#e4eefb" stroke="#e4eefb" stroke-width="0.6"/>
<polygon points="723.6,343.3 749.4,337.3 752.7,362.6 726.9,368.6" fill="#e4eefb" stroke="#e4eefb" stroke-width="0.6"/>
<polygon points="801,325.2 826.8,319.2 830.1,344.5 804.3,350.5" fill="#e4eefb" stroke="#e4eefb" stroke-width="0.6"/>
<polygon points="427.2,517 453,511 456.3,536.3 430.5,542.3" fill="#e4eefb" stroke="#e4eefb" stroke-width="0.6"/>
<polygon points="430.5,542.3 456.3,536.3 459.6,561.6 433.8,567.6" fill="#e4eefb" stroke="#e4eefb" stroke-width="0.6"/>
<polygon points="513.9,366.3 539.7,360.3 543,385.6 517.2,391.6" fill="#dce9fa" stroke="#dce9fa" stroke-width="0.6"/>
<polygon points="433.2,359.2 459,353.1 462.3,378.4 436.5,384.5" fill="#d4e4f9" stroke="#d4e4f9" stroke-width="0.6"/>
<polygon points="459,353.1 484.8,347.1 488.1,372.4 462.3,378.4" fill="#d4e4f9" stroke="#d4e4f9" stroke-width="0.6"/>
<polygon points="562.2,329 588,322.9 591.3,348.2 565.5,354.3" fill="#d4e4f9" stroke="#d4e4f9" stroke-width="0.6"/>
<polygon points="613.8,316.9 639.6,310.8 642.9,336.1 617.1,342.2" fill="#d4e4f9" stroke="#d4e4f9" stroke-width="0.6"/>
<polygon points="691.2,298.8 717,292.7 720.3,318 694.5,324.1" fill="#d4e4f9" stroke="#d4e4f9" stroke-width="0.6"/>
<polygon points="742.8,286.7 768.6,280.6 771.9,305.9 746.1,312" fill="#d4e4f9" stroke="#d4e4f9" stroke-width="0.6"/>
<polygon points="462.3,378.4 488.1,372.4 491.4,397.7 465.6,403.7" fill="#d4e4f9" stroke="#d4e4f9" stroke-width="0.6"/>
<polygon points="617.1,342.2 642.9,336.1 646.2,361.4 620.4,367.5" fill="#d4e4f9" stroke="#d4e4f9" stroke-width="0.6"/>
<polygon points="720.3,318 746.1,312 749.4,337.3 723.6,343.3" fill="#d4e4f9" stroke="#d4e4f9" stroke-width="0.6"/>
<polygon points="746.1,312 771.9,305.9 775.2,331.2 749.4,337.3" fill="#d4e4f9" stroke="#d4e4f9" stroke-width="0.6"/>
<polygon points="849.3,287.8 875.1,281.8 878.4,307.1 852.6,313.1" fill="#d4e4f9" stroke="#d4e4f9" stroke-width="0.6"/>
<polygon points="465.6,403.7 491.4,397.7 494.7,423 468.9,429" fill="#d4e4f9" stroke="#d4e4f9" stroke-width="0.6"/>
<polygon points="491.4,397.7 517.2,391.6 520.5,416.9 494.7,423" fill="#d4e4f9" stroke="#d4e4f9" stroke-width="0.6"/>
<polygon points="517.2,391.6 543,385.6 546.3,410.9 520.5,416.9" fill="#d4e4f9" stroke="#d4e4f9" stroke-width="0.6"/>
<polygon points="543,385.6 568.8,379.6 572.1,404.9 546.3,410.9" fill="#d4e4f9" stroke="#d4e4f9" stroke-width="0.6"/>
<polygon points="594.6,373.5 620.4,367.5 623.7,392.8 597.9,398.8" fill="#d4e4f9" stroke="#d4e4f9" stroke-width="0.6"/>
<polygon points="672,355.4 697.8,349.4 701.1,374.7 675.3,380.7" fill="#d4e4f9" stroke="#d4e4f9" stroke-width="0.6"/>
<polygon points="443.1,435.1 468.9,429 472.2,454.3 446.4,460.4" fill="#d4e4f9" stroke="#d4e4f9" stroke-width="0.6"/>
<polygon points="468.9,429 494.7,423 498,448.3 472.2,454.3" fill="#d4e4f9" stroke="#d4e4f9" stroke-width="0.6"/>
<polygon points="494.7,423 520.5,416.9 523.8,442.2 498,448.3" fill="#d4e4f9" stroke="#d4e4f9" stroke-width="0.6"/>
<polygon points="420.6,466.4 446.4,460.4 449.7,485.7 423.9,491.7" fill="#d4e4f9" stroke="#d4e4f9" stroke-width="0.6"/>
<polygon points="446.4,460.4 472.2,454.3 475.5,479.6 449.7,485.7" fill="#d4e4f9" stroke="#d4e4f9" stroke-width="0.6"/>
<polygon points="472.2,454.3 498,448.3 501.3,473.6 475.5,479.6" fill="#d4e4f9" stroke="#d4e4f9" stroke-width="0.6"/>
<polygon points="552.9,461.5 578.7,455.5 582,480.8 556.2,486.8" fill="#d4e4f9" stroke="#d4e4f9" stroke-width="0.6"/>
<polygon points="423.9,491.7 449.7,485.7 453,511 427.2,517" fill="#d4e4f9" stroke="#d4e4f9" stroke-width="0.6"/>
<polygon points="717,292.7 742.8,286.7 746.1,312 720.3,318" fill="#bcd9ef" stroke="#bcd9ef" stroke-width="0.6"/>
<polygon points="436.5,384.5 462.3,378.4 465.6,403.7 439.8,409.8" fill="#bcd9ef" stroke="#bcd9ef" stroke-width="0.6"/>
<polygon points="488.1,372.4 513.9,366.3 517.2,391.6 491.4,397.7" fill="#bcd9ef" stroke="#bcd9ef" stroke-width="0.6"/>
<polygon points="539.7,360.3 565.5,354.3 568.8,379.6 543,385.6" fill="#bcd9ef" stroke="#bcd9ef" stroke-width="0.6"/>
<polygon points="797.7,299.9 823.5,293.9 826.8,319.2 801,325.2" fill="#bcd9ef" stroke="#bcd9ef" stroke-width="0.6"/>
<polygon points="826.8,319.2 852.6,313.1 855.9,338.4 830.1,344.5" fill="#bcd9ef" stroke="#bcd9ef" stroke-width="0.6"/>
<polygon points="852.6,313.1 878.4,307.1 881.7,332.4 855.9,338.4" fill="#bcd9ef" stroke="#bcd9ef" stroke-width="0.6"/>
<polygon points="439.8,409.8 465.6,403.7 468.9,429 443.1,435.1" fill="#aed3ea" stroke="#aed3ea" stroke-width="0.6"/>
<polygon points="417.3,441.1 443.1,435.1 446.4,460.4 420.6,466.4" fill="#aed3ea" stroke="#aed3ea" stroke-width="0.6"/>
<polygon points="665.4,304.8 691.2,298.8 694.5,324.1 668.7,330.1" fill="#a0cde6" stroke="#a0cde6" stroke-width="0.6"/>
<polygon points="642.9,336.1 668.7,330.1 672,355.4 646.2,361.4" fill="#a0cde6" stroke="#a0cde6" stroke-width="0.6"/>
<polygon points="771.9,305.9 797.7,299.9 801,325.2 775.2,331.2" fill="#a0cde6" stroke="#a0cde6" stroke-width="0.6"/>
<polygon points="414,415.8 439.8,409.8 443.1,435.1 417.3,441.1" fill="#a0cde6" stroke="#a0cde6" stroke-width="0.6"/>
<polygon points="639.6,310.8 665.4,304.8 668.7,330.1 642.9,336.1" fill="#79b8de" stroke="#79b8de" stroke-width="0.6"/>
<polygon points="410.7,390.5 436.5,384.5 439.8,409.8 414,415.8" fill="#79b8de" stroke="#79b8de" stroke-width="0.6"/>
<polygon points="668.7,330.1 694.5,324.1 697.8,349.4 672,355.4" fill="#5aa6d5" stroke="#5aa6d5" stroke-width="0.6"/>
<polygon points="694.5,324.1 720.3,318 723.6,343.3 697.8,349.4" fill="#5aa6d5" stroke="#5aa6d5" stroke-width="0.6"/>
<use href="#cont"/>
<polyline points="131.5,382.2 168.3,375.4 184.5,373.9 200.7,374.2 224.4,387.6 231.8,383.4 236.8,373.4 248,353.5 256.7,341.8 260.4,339.8 307.7,331.1 392.4,300 496.2,260.3 559.3,256.3 600,243.8 631,234.6 660,223.3 675.3,218.4 705.3,211.5 718.6,212.2 731.9,212.2 755.1,200.6 780,194.9 810.8,188.3 829.9,184.6 857.3,180.8 882.2,174.6 912,158.4 935.7,146.7 959.3,124.8 974.3,103.6 990.4,79.5" fill="none" stroke="#111" stroke-width="1.6" stroke-linejoin="round"/>
<path d="M131.3 79.5V750.5H1176.3" fill="none" stroke="#111" stroke-width="1.8"/>
<path d="M122.5 149.6H131.3M122.5 248.1H131.3M122.5 346.6H131.3M122.5 445.1H131.3M122.5 543.6H131.3M122.5 642.1H131.3M122.5 740.6H131.3M168.7 750.5V759.5M243.2 750.5V759.5M317.7 750.5V759.5M392.1 750.5V759.5M466.6 750.5V759.5M541.1 750.5V759.5M615.6 750.5V759.5M690.1 750.5V759.5M764.5 750.5V759.5M839 750.5V759.5M913.5 750.5V759.5M988 750.5V759.5M1062.5 750.5V759.5M1136.9 750.5V759.5" stroke="#111" stroke-width="1.6"/>
<text transform="translate(114,160.9) scale(0.945,1)" text-anchor="end" class="tl">41.3ºN</text>
<text transform="translate(114,259.4) scale(0.945,1)" text-anchor="end" class="tl">41.2ºN</text>
<text transform="translate(114,357.9) scale(0.945,1)" text-anchor="end" class="tl">41.1ºN</text>
<text transform="translate(114,456.4) scale(0.945,1)" text-anchor="end" class="tl">41ºN</text>
<text transform="translate(114,554.9) scale(0.945,1)" text-anchor="end" class="tl">40.9ºN</text>
<text transform="translate(114,653.4) scale(0.945,1)" text-anchor="end" class="tl">40.8ºN</text>
<text transform="translate(114,751.9) scale(0.945,1)" text-anchor="end" class="tl">40.7ºN</text>
<text transform="translate(168.7,783.3) scale(1.05,1)" text-anchor="middle" class="tl">1.1ºE</text>
<text transform="translate(317.7,783.3) scale(1.05,1)" text-anchor="middle" class="tl">1.3ºE</text>
<text transform="translate(466.6,783.3) scale(1.05,1)" text-anchor="middle" class="tl">1.5ºE</text>
<text transform="translate(615.6,783.3) scale(1.05,1)" text-anchor="middle" class="tl">1.7ºE</text>
<text transform="translate(764.5,783.3) scale(1.05,1)" text-anchor="middle" class="tl">1.9ºE</text>
<text transform="translate(839,783.3) scale(1.05,1)" text-anchor="middle" class="tl">2ºE</text>
<text transform="translate(913.5,783.3) scale(1.05,1)" text-anchor="middle" class="tl">2.1ºE</text>
<text transform="translate(1062.5,783.3) scale(1.05,1)" text-anchor="middle" class="tl">2.3ºE</text>
<text x="653" y="816.2" text-anchor="middle" class="at">Longitude</text>
<text transform="translate(34.6,413.7) rotate(-90)" text-anchor="middle" class="at2">Latitude</text>
<text x="173.5" y="136" class="pl">A</text>
<text transform="translate(850.2,106.9) scale(1.03,1)" class="pn">Barcelona</text>
<text transform="translate(533,190.8) scale(1.058,1)" class="pn">Vilanova i</text>
<text transform="translate(533.5,228.5) scale(1.08,1)" class="pn">la Geltrú</text>
<text transform="translate(189.5,323.6) scale(1.039,1)" class="pn">Tarragona</text>
<rect x="1121.9" y="246.6" width="7" height="84.4" fill="#2c7bbf"/>
<rect x="1121.9" y="330.7" width="7" height="45.4" fill="#4090cb"/>
<rect x="1121.9" y="375.8" width="7" height="39.2" fill="#5ea7d9"/>
<rect x="1121.9" y="414.7" width="7" height="39.5" fill="#88c0e4"/>
<rect x="1121.9" y="453.9" width="7" height="41.5" fill="#b3d6ef"/>
<rect x="1121.9" y="495.1" width="7" height="40.6" fill="#d4e7f7"/>
<rect x="1121.9" y="535.4" width="7" height="33.2" fill="#ebf3fc"/>
<rect x="1121.9" y="568.3" width="7" height="13.6" fill="#f7fbff"/>
<rect x="1121.9" y="246.6" width="7" height="335" fill="none" stroke="#111" stroke-width="1.5"/>
<path d="M1128.9 246.6H1138.7M1128.9 330.7H1138.7M1128.9 375.8H1138.7M1128.9 414.7H1138.7M1128.9 453.9H1138.7M1128.9 495.1H1138.7M1128.9 535.4H1138.7M1128.9 568.3H1138.7M1128.9 581.6H1138.7" stroke="#111" stroke-width="1.5"/>
<text x="1146.5" y="251.8" class="lg">6.0</text>
<text x="1146.5" y="335.9" class="lg">4.5</text>
<text x="1146.5" y="381" class="lg">3.7</text>
<text x="1146.5" y="419.9" class="lg">3.0</text>
<text x="1146.5" y="459.1" class="lg">2.3</text>
<text x="1146.5" y="500.3" class="lg">1.5</text>
<text x="1146.5" y="540.6" class="lg">0.8</text>
<text x="1146.5" y="573.5" class="lg">0.3</text>
<text x="1146.5" y="586.8" class="lg">0.0</text>
<path d="M223.2 631.3L203.1 672.6L223.2 653.1Z" fill="#fff" stroke="#000" stroke-width="1.2" stroke-linejoin="miter"/>
<path d="M223.2 631.3L245.3 673.2L223.2 653.1Z" fill="#000" stroke="#000" stroke-width="1"/>
<text x="222.8" y="679.3" text-anchor="middle" class="sn">N</text>
<rect x="183" y="708.5" width="177" height="9" fill="#fff" stroke="#000" stroke-width="1"/>
<rect x="226.6" y="708.5" width="46.2" height="9" fill="#000"/>
<rect x="315.5" y="708.5" width="44.5" height="9" fill="#000"/>
<text x="182.5" y="702.8" text-anchor="middle" class="sb">0</text>
<text x="271.8" y="702.8" text-anchor="middle" class="sb">10</text>
<text x="358.6" y="702.8" text-anchor="middle" class="sb">20</text>
<text x="271.5" y="733.3" text-anchor="middle" class="sb">km</text>
</g>
<g transform="translate(0,833.2)">
<polygon points="131.3,79.5 990.4,79.5 990.4,79.5 974.3,103.6 959.3,124.8 935.7,146.7 912,158.4 882.2,174.6 857.3,180.8 829.9,184.6 810.8,188.3 780,194.9 755.1,200.6 731.9,212.2 718.6,212.2 705.3,211.5 675.3,218.4 660,223.3 631,234.6 600,243.8 559.3,256.3 496.2,260.3 392.4,300 307.7,331.1 260.4,339.8 256.7,341.8 248,353.5 236.8,373.4 231.8,383.4 224.4,387.6 200.7,374.2 184.5,373.9 168.3,375.4 131.5,382.2" fill="#e2e2e2"/>
<polygon points="404.1,339.9 868.5,231.2 906.1,519.6 441.7,628.3" fill="#f4f8fe"/>
<polygon points="633.6,468.7 659.4,462.6 662.7,487.9 636.9,494" fill="#e4eefb" stroke="#e4eefb" stroke-width="0.6"/>
<polygon points="771.9,305.9 797.7,299.9 801,325.2 775.2,331.2" fill="#dce9fa" stroke="#dce9fa" stroke-width="0.6"/>
<polygon points="746.1,312 771.9,305.9 775.2,331.2 749.4,337.3" fill="#dce9fa" stroke="#dce9fa" stroke-width="0.6"/>
<polygon points="407.4,365.2 433.2,359.2 436.5,384.5 410.7,390.5" fill="#d4e4f9" stroke="#d4e4f9" stroke-width="0.6"/>
<polygon points="459,353.1 484.8,347.1 488.1,372.4 462.3,378.4" fill="#d4e4f9" stroke="#d4e4f9" stroke-width="0.6"/>
<polygon points="513.9,366.3 539.7,360.3 543,385.6 517.2,391.6" fill="#d4e4f9" stroke="#d4e4f9" stroke-width="0.6"/>
<polygon points="517.2,391.6 543,385.6 546.3,410.9 520.5,416.9" fill="#d4e4f9" stroke="#d4e4f9" stroke-width="0.6"/>
<polygon points="543,385.6 568.8,379.6 572.1,404.9 546.3,410.9" fill="#d4e4f9" stroke="#d4e4f9" stroke-width="0.6"/>
<polygon points="494.7,423 520.5,416.9 523.8,442.2 498,448.3" fill="#d4e4f9" stroke="#d4e4f9" stroke-width="0.6"/>
<polygon points="520.5,416.9 546.3,410.9 549.6,436.2 523.8,442.2" fill="#d4e4f9" stroke="#d4e4f9" stroke-width="0.6"/>
<polygon points="420.6,466.4 446.4,460.4 449.7,485.7 423.9,491.7" fill="#d4e4f9" stroke="#d4e4f9" stroke-width="0.6"/>
<polygon points="472.2,454.3 498,448.3 501.3,473.6 475.5,479.6" fill="#d4e4f9" stroke="#d4e4f9" stroke-width="0.6"/>
<polygon points="523.8,442.2 549.6,436.2 552.9,461.5 527.1,467.5" fill="#d4e4f9" stroke="#d4e4f9" stroke-width="0.6"/>
<polygon points="423.9,491.7 449.7,485.7 453,511 427.2,517" fill="#d4e4f9" stroke="#d4e4f9" stroke-width="0.6"/>
<polygon points="504.6,498.9 530.4,492.8 533.7,518.1 507.9,524.2" fill="#d4e4f9" stroke="#d4e4f9" stroke-width="0.6"/>
<polygon points="665.4,304.8 691.2,298.8 694.5,324.1 668.7,330.1" fill="#d4e4f9" stroke="#d4e4f9" stroke-width="0.6"/>
<polygon points="620.4,367.5 646.2,361.4 649.5,386.7 623.7,392.8" fill="#d4e4f9" stroke="#d4e4f9" stroke-width="0.6"/>
<polygon points="623.7,392.8 649.5,386.7 652.8,412 627,418.1" fill="#d4e4f9" stroke="#d4e4f9" stroke-width="0.6"/>
<polygon points="594.6,373.5 620.4,367.5 623.7,392.8 597.9,398.8" fill="#d4e4f9" stroke="#d4e4f9" stroke-width="0.6"/>
<polygon points="597.9,398.8 623.7,392.8 627,418.1 601.2,424.1" fill="#d4e4f9" stroke="#d4e4f9" stroke-width="0.6"/>
<polygon points="568.8,379.6 594.6,373.5 597.9,398.8 572.1,404.9" fill="#d4e4f9" stroke="#d4e4f9" stroke-width="0.6"/>
<polygon points="601.2,424.1 627,418.1 630.3,443.4 604.5,449.4" fill="#d4e4f9" stroke="#d4e4f9" stroke-width="0.6"/>
<polygon points="630.3,443.4 656.1,437.3 659.4,462.6 633.6,468.7" fill="#d4e4f9" stroke="#d4e4f9" stroke-width="0.6"/>
<polygon points="656.1,437.3 681.9,431.3 685.2,456.6 659.4,462.6" fill="#d4e4f9" stroke="#d4e4f9" stroke-width="0.6"/>
<polygon points="717,292.7 742.8,286.7 746.1,312 720.3,318" fill="#d4e4f9" stroke="#d4e4f9" stroke-width="0.6"/>
<polygon points="807.6,375.8 833.4,369.8 836.7,395.1 810.9,401.1" fill="#d4e4f9" stroke="#d4e4f9" stroke-width="0.6"/>
<polygon points="810.9,401.1 836.7,395.1 840,420.4 814.2,426.4" fill="#d4e4f9" stroke="#d4e4f9" stroke-width="0.6"/>
<polygon points="836.7,395.1 862.5,389 865.8,414.3 840,420.4" fill="#d4e4f9" stroke="#d4e4f9" stroke-width="0.6"/>
<polygon points="862.5,389 888.3,383 891.6,408.3 865.8,414.3" fill="#d4e4f9" stroke="#d4e4f9" stroke-width="0.6"/>
<polygon points="723.6,343.3 749.4,337.3 752.7,362.6 726.9,368.6" fill="#d4e4f9" stroke="#d4e4f9" stroke-width="0.6"/>
<polygon points="726.9,368.6 752.7,362.6 756,387.9 730.2,393.9" fill="#d4e4f9" stroke="#d4e4f9" stroke-width="0.6"/>
<polygon points="730.2,393.9 756,387.9 759.3,413.2 733.5,419.2" fill="#d4e4f9" stroke="#d4e4f9" stroke-width="0.6"/>
<polygon points="749.4,337.3 775.2,331.2 778.5,356.5 752.7,362.6" fill="#d4e4f9" stroke="#d4e4f9" stroke-width="0.6"/>
<polygon points="775.2,331.2 801,325.2 804.3,350.5 778.5,356.5" fill="#d4e4f9" stroke="#d4e4f9" stroke-width="0.6"/>
<polygon points="752.7,362.6 778.5,356.5 781.8,381.8 756,387.9" fill="#d4e4f9" stroke="#d4e4f9" stroke-width="0.6"/>
<polygon points="546.3,410.9 572.1,404.9 575.4,430.2 549.6,436.2" fill="#c8def4" stroke="#c8def4" stroke-width="0.6"/>
<polygon points="566.1,562.7 591.9,556.7 595.2,582 569.4,588" fill="#c8def4" stroke="#c8def4" stroke-width="0.6"/>
<polygon points="433.2,359.2 459,353.1 462.3,378.4 436.5,384.5" fill="#bcd9ef" stroke="#bcd9ef" stroke-width="0.6"/>
<polygon points="465.6,403.7 491.4,397.7 494.7,423 468.9,429" fill="#bcd9ef" stroke="#bcd9ef" stroke-width="0.6"/>
<polygon points="491.4,397.7 517.2,391.6 520.5,416.9 494.7,423" fill="#bcd9ef" stroke="#bcd9ef" stroke-width="0.6"/>
<polygon points="443.1,435.1 468.9,429 472.2,454.3 446.4,460.4" fill="#bcd9ef" stroke="#bcd9ef" stroke-width="0.6"/>
<polygon points="468.9,429 494.7,423 498,448.3 472.2,454.3" fill="#bcd9ef" stroke="#bcd9ef" stroke-width="0.6"/>
<polygon points="446.4,460.4 472.2,454.3 475.5,479.6 449.7,485.7" fill="#bcd9ef" stroke="#bcd9ef" stroke-width="0.6"/>
<polygon points="549.6,436.2 575.4,430.2 578.7,455.5 552.9,461.5" fill="#bcd9ef" stroke="#bcd9ef" stroke-width="0.6"/>
<polygon points="562.2,329 588,322.9 591.3,348.2 565.5,354.3" fill="#bcd9ef" stroke="#bcd9ef" stroke-width="0.6"/>
<polygon points="639.6,310.8 665.4,304.8 668.7,330.1 642.9,336.1" fill="#bcd9ef" stroke="#bcd9ef" stroke-width="0.6"/>
<polygon points="694.5,324.1 720.3,318 723.6,343.3 697.8,349.4" fill="#bcd9ef" stroke="#bcd9ef" stroke-width="0.6"/>
<polygon points="627,418.1 652.8,412 656.1,437.3 630.3,443.4" fill="#bcd9ef" stroke="#bcd9ef" stroke-width="0.6"/>
<polygon points="572.1,404.9 597.9,398.8 601.2,424.1 575.4,430.2" fill="#bcd9ef" stroke="#bcd9ef" stroke-width="0.6"/>
<polygon points="552.9,461.5 578.7,455.5 582,480.8 556.2,486.8" fill="#bcd9ef" stroke="#bcd9ef" stroke-width="0.6"/>
<polygon points="575.4,430.2 601.2,424.1 604.5,449.4 578.7,455.5" fill="#bcd9ef" stroke="#bcd9ef" stroke-width="0.6"/>
<polygon points="578.7,455.5 604.5,449.4 607.8,474.7 582,480.8" fill="#bcd9ef" stroke="#bcd9ef" stroke-width="0.6"/>
<polygon points="849.3,287.8 875.1,281.8 878.4,307.1 852.6,313.1" fill="#bcd9ef" stroke="#bcd9ef" stroke-width="0.6"/>
<polygon points="830.1,344.5 855.9,338.4 859.2,363.7 833.4,369.8" fill="#bcd9ef" stroke="#bcd9ef" stroke-width="0.6"/>
<polygon points="855.9,338.4 881.7,332.4 885,357.7 859.2,363.7" fill="#bcd9ef" stroke="#bcd9ef" stroke-width="0.6"/>
<polygon points="833.4,369.8 859.2,363.7 862.5,389 836.7,395.1" fill="#bcd9ef" stroke="#bcd9ef" stroke-width="0.6"/>
<polygon points="859.2,363.7 885,357.7 888.3,383 862.5,389" fill="#bcd9ef" stroke="#bcd9ef" stroke-width="0.6"/>
<polygon points="697.8,349.4 723.6,343.3 726.9,368.6 701.1,374.7" fill="#aed3ea" stroke="#aed3ea" stroke-width="0.6"/>
<polygon points="436.5,384.5 462.3,378.4 465.6,403.7 439.8,409.8" fill="#a0cde6" stroke="#a0cde6" stroke-width="0.6"/>
<polygon points="462.3,378.4 488.1,372.4 491.4,397.7 465.6,403.7" fill="#a0cde6" stroke="#a0cde6" stroke-width="0.6"/>
<polygon points="488.1,372.4 513.9,366.3 517.2,391.6 491.4,397.7" fill="#a0cde6" stroke="#a0cde6" stroke-width="0.6"/>
<polygon points="539.7,360.3 565.5,354.3 568.8,379.6 543,385.6" fill="#a0cde6" stroke="#a0cde6" stroke-width="0.6"/>
<polygon points="439.8,409.8 465.6,403.7 468.9,429 443.1,435.1" fill="#a0cde6" stroke="#a0cde6" stroke-width="0.6"/>
<polygon points="565.5,354.3 591.3,348.2 594.6,373.5 568.8,379.6" fill="#a0cde6" stroke="#a0cde6" stroke-width="0.6"/>
<polygon points="642.9,336.1 668.7,330.1 672,355.4 646.2,361.4" fill="#a0cde6" stroke="#a0cde6" stroke-width="0.6"/>
<polygon points="668.7,330.1 694.5,324.1 697.8,349.4 672,355.4" fill="#a0cde6" stroke="#a0cde6" stroke-width="0.6"/>
<polygon points="649.5,386.7 675.3,380.7 678.6,406 652.8,412" fill="#a0cde6" stroke="#a0cde6" stroke-width="0.6"/>
<polygon points="826.8,319.2 852.6,313.1 855.9,338.4 830.1,344.5" fill="#a0cde6" stroke="#a0cde6" stroke-width="0.6"/>
<polygon points="852.6,313.1 878.4,307.1 881.7,332.4 855.9,338.4" fill="#a0cde6" stroke="#a0cde6" stroke-width="0.6"/>
<polygon points="804.3,350.5 830.1,344.5 833.4,369.8 807.6,375.8" fill="#a0cde6" stroke="#a0cde6" stroke-width="0.6"/>
<polygon points="701.1,374.7 726.9,368.6 730.2,393.9 704.4,400" fill="#8cc2e2" stroke="#8cc2e2" stroke-width="0.6"/>
<polygon points="417.3,441.1 443.1,435.1 446.4,460.4 420.6,466.4" fill="#79b8de" stroke="#79b8de" stroke-width="0.6"/>
<polygon points="672,355.4 697.8,349.4 701.1,374.7 675.3,380.7" fill="#79b8de" stroke="#79b8de" stroke-width="0.6"/>
<polygon points="675.3,380.7 701.1,374.7 704.4,400 678.6,406" fill="#79b8de" stroke="#79b8de" stroke-width="0.6"/>
<polygon points="704.4,400 730.2,393.9 733.5,419.2 707.7,425.3" fill="#6aafda" stroke="#6aafda" stroke-width="0.6"/>
<polygon points="414,415.8 439.8,409.8 443.1,435.1 417.3,441.1" fill="#5aa6d5" stroke="#5aa6d5" stroke-width="0.6"/>
<polygon points="591.3,348.2 617.1,342.2 620.4,367.5 594.6,373.5" fill="#5aa6d5" stroke="#5aa6d5" stroke-width="0.6"/>
<polygon points="617.1,342.2 642.9,336.1 646.2,361.4 620.4,367.5" fill="#5aa6d5" stroke="#5aa6d5" stroke-width="0.6"/>
<polygon points="646.2,361.4 672,355.4 675.3,380.7 649.5,386.7" fill="#5aa6d5" stroke="#5aa6d5" stroke-width="0.6"/>
<polygon points="652.8,412 678.6,406 681.9,431.3 656.1,437.3" fill="#5aa6d5" stroke="#5aa6d5" stroke-width="0.6"/>
<polygon points="678.6,406 704.4,400 707.7,425.3 681.9,431.3" fill="#5aa6d5" stroke="#5aa6d5" stroke-width="0.6"/>
<polygon points="410.7,390.5 436.5,384.5 439.8,409.8 414,415.8" fill="#297bbd" stroke="#297bbd" stroke-width="0.6"/>
<use href="#cont"/>
<polyline points="131.5,382.2 168.3,375.4 184.5,373.9 200.7,374.2 224.4,387.6 231.8,383.4 236.8,373.4 248,353.5 256.7,341.8 260.4,339.8 307.7,331.1 392.4,300 496.2,260.3 559.3,256.3 600,243.8 631,234.6 660,223.3 675.3,218.4 705.3,211.5 718.6,212.2 731.9,212.2 755.1,200.6 780,194.9 810.8,188.3 829.9,184.6 857.3,180.8 882.2,174.6 912,158.4 935.7,146.7 959.3,124.8 974.3,103.6 990.4,79.5" fill="none" stroke="#111" stroke-width="1.6" stroke-linejoin="round"/>
<path d="M131.3 79.5V750.5H1176.3" fill="none" stroke="#111" stroke-width="1.8"/>
<path d="M122.5 149.6H131.3M122.5 248.1H131.3M122.5 346.6H131.3M122.5 445.1H131.3M122.5 543.6H131.3M122.5 642.1H131.3M122.5 740.6H131.3M168.7 750.5V759.5M243.2 750.5V759.5M317.7 750.5V759.5M392.1 750.5V759.5M466.6 750.5V759.5M541.1 750.5V759.5M615.6 750.5V759.5M690.1 750.5V759.5M764.5 750.5V759.5M839 750.5V759.5M913.5 750.5V759.5M988 750.5V759.5M1062.5 750.5V759.5M1136.9 750.5V759.5" stroke="#111" stroke-width="1.6"/>
<text transform="translate(114,160.9) scale(0.945,1)" text-anchor="end" class="tl">41.3ºN</text>
<text transform="translate(114,259.4) scale(0.945,1)" text-anchor="end" class="tl">41.2ºN</text>
<text transform="translate(114,357.9) scale(0.945,1)" text-anchor="end" class="tl">41.1ºN</text>
<text transform="translate(114,456.4) scale(0.945,1)" text-anchor="end" class="tl">41ºN</text>
<text transform="translate(114,554.9) scale(0.945,1)" text-anchor="end" class="tl">40.9ºN</text>
<text transform="translate(114,653.4) scale(0.945,1)" text-anchor="end" class="tl">40.8ºN</text>
<text transform="translate(114,751.9) scale(0.945,1)" text-anchor="end" class="tl">40.7ºN</text>
<text transform="translate(168.7,783.3) scale(1.05,1)" text-anchor="middle" class="tl">1.1ºE</text>
<text transform="translate(317.7,783.3) scale(1.05,1)" text-anchor="middle" class="tl">1.3ºE</text>
<text transform="translate(466.6,783.3) scale(1.05,1)" text-anchor="middle" class="tl">1.5ºE</text>
<text transform="translate(615.6,783.3) scale(1.05,1)" text-anchor="middle" class="tl">1.7ºE</text>
<text transform="translate(764.5,783.3) scale(1.05,1)" text-anchor="middle" class="tl">1.9ºE</text>
<text transform="translate(839,783.3) scale(1.05,1)" text-anchor="middle" class="tl">2ºE</text>
<text transform="translate(913.5,783.3) scale(1.05,1)" text-anchor="middle" class="tl">2.1ºE</text>
<text transform="translate(1062.5,783.3) scale(1.05,1)" text-anchor="middle" class="tl">2.3ºE</text>
<text x="653" y="816.2" text-anchor="middle" class="at">Longitude</text>
<text transform="translate(34.6,413.7) rotate(-90)" text-anchor="middle" class="at2">Latitude</text>
<text x="173.5" y="136" class="pl">B</text>
<text transform="translate(850.2,104.2) scale(1.03,1)" class="pn">Barcelona</text>
<text transform="translate(533,188.1) scale(1.058,1)" class="pn">Vilanova i</text>
<text transform="translate(533.5,225.8) scale(1.08,1)" class="pn">la Geltrú</text>
<text transform="translate(189.5,320.9) scale(1.039,1)" class="pn">Tarragona</text>
<rect x="1121.9" y="246.6" width="7" height="84.4" fill="#2c7bbf"/>
<rect x="1121.9" y="330.7" width="7" height="45.4" fill="#4090cb"/>
<rect x="1121.9" y="375.8" width="7" height="39.2" fill="#5ea7d9"/>
<rect x="1121.9" y="414.7" width="7" height="39.5" fill="#88c0e4"/>
<rect x="1121.9" y="453.9" width="7" height="41.5" fill="#b3d6ef"/>
<rect x="1121.9" y="495.1" width="7" height="40.6" fill="#d4e7f7"/>
<rect x="1121.9" y="535.4" width="7" height="33.2" fill="#ebf3fc"/>
<rect x="1121.9" y="568.3" width="7" height="13.6" fill="#f7fbff"/>
<rect x="1121.9" y="246.6" width="7" height="335" fill="none" stroke="#111" stroke-width="1.5"/>
<path d="M1128.9 246.6H1138.7M1128.9 330.7H1138.7M1128.9 375.8H1138.7M1128.9 414.7H1138.7M1128.9 453.9H1138.7M1128.9 495.1H1138.7M1128.9 535.4H1138.7M1128.9 568.3H1138.7M1128.9 581.6H1138.7" stroke="#111" stroke-width="1.5"/>
<text x="1146.5" y="251.8" class="lg">6.0</text>
<text x="1146.5" y="335.9" class="lg">4.5</text>
<text x="1146.5" y="381" class="lg">3.7</text>
<text x="1146.5" y="419.9" class="lg">3.0</text>
<text x="1146.5" y="459.1" class="lg">2.3</text>
<text x="1146.5" y="500.3" class="lg">1.5</text>
<text x="1146.5" y="540.6" class="lg">0.8</text>
<text x="1146.5" y="573.5" class="lg">0.3</text>
<text x="1146.5" y="586.8" class="lg">0.0</text>
<path d="M223.2 631.3L203.1 672.6L223.2 653.1Z" fill="#fff" stroke="#000" stroke-width="1.2" stroke-linejoin="miter"/>
<path d="M223.2 631.3L245.3 673.2L223.2 653.1Z" fill="#000" stroke="#000" stroke-width="1"/>
<text x="222.8" y="679.3" text-anchor="middle" class="sn">N</text>
<rect x="183" y="708.5" width="177" height="9" fill="#fff" stroke="#000" stroke-width="1"/>
<rect x="226.6" y="708.5" width="46.2" height="9" fill="#000"/>
<rect x="315.5" y="708.5" width="44.5" height="9" fill="#000"/>
<text x="182.5" y="702.8" text-anchor="middle" class="sb">0</text>
<text x="271.8" y="702.8" text-anchor="middle" class="sb">10</text>
<text x="358.6" y="702.8" text-anchor="middle" class="sb">20</text>
<text x="271.5" y="733.3" text-anchor="middle" class="sb">km</text>
</g>
<g transform="translate(0,1664.6)">
<polygon points="131.3,79.5 990.4,79.5 990.4,79.5 974.3,103.6 959.3,124.8 935.7,146.7 912,158.4 882.2,174.6 857.3,180.8 829.9,184.6 810.8,188.3 780,194.9 755.1,200.6 731.9,212.2 718.6,212.2 705.3,211.5 675.3,218.4 660,223.3 631,234.6 600,243.8 559.3,256.3 496.2,260.3 392.4,300 307.7,331.1 260.4,339.8 256.7,341.8 248,353.5 236.8,373.4 231.8,383.4 224.4,387.6 200.7,374.2 184.5,373.9 168.3,375.4 131.5,382.2" fill="#e2e2e2"/>
<polygon points="404.1,339.9 868.5,231.2 906.1,519.6 441.7,628.3" fill="#f4f8fe"/>
<polygon points="410.7,390.5 436.5,384.5 439.8,409.8 414,415.8" fill="#d4e4f9" stroke="#d4e4f9" stroke-width="0.6"/>
<polygon points="459,353.1 484.8,347.1 488.1,372.4 462.3,378.4" fill="#d4e4f9" stroke="#d4e4f9" stroke-width="0.6"/>
<polygon points="662.1,279.5 687.9,273.5 691.2,298.8 665.4,304.8" fill="#d4e4f9" stroke="#d4e4f9" stroke-width="0.6"/>
<polygon points="613.8,316.9 639.6,310.8 642.9,336.1 617.1,342.2" fill="#d4e4f9" stroke="#d4e4f9" stroke-width="0.6"/>
<polygon points="717,292.7 742.8,286.7 746.1,312 720.3,318" fill="#d4e4f9" stroke="#d4e4f9" stroke-width="0.6"/>
<polygon points="749.4,337.3 775.2,331.2 778.5,356.5 752.7,362.6" fill="#d4e4f9" stroke="#d4e4f9" stroke-width="0.6"/>
<polygon points="810.9,401.1 836.7,395.1 840,420.4 814.2,426.4" fill="#d4e4f9" stroke="#d4e4f9" stroke-width="0.6"/>
<polygon points="814.2,426.4 840,420.4 843.3,445.7 817.5,451.7" fill="#d4e4f9" stroke="#d4e4f9" stroke-width="0.6"/>
<polygon points="849.3,287.8 875.1,281.8 878.4,307.1 852.6,313.1" fill="#d4e4f9" stroke="#d4e4f9" stroke-width="0.6"/>
<polygon points="801,325.2 826.8,319.2 830.1,344.5 804.3,350.5" fill="#d4e4f9" stroke="#d4e4f9" stroke-width="0.6"/>
<polygon points="807.6,375.8 833.4,369.8 836.7,395.1 810.9,401.1" fill="#d4e4f9" stroke="#d4e4f9" stroke-width="0.6"/>
<polygon points="765.9,463.8 791.7,457.7 795,483 769.2,489.1" fill="#c8def4" stroke="#c8def4" stroke-width="0.6"/>
<polygon points="639.6,310.8 665.4,304.8 668.7,330.1 642.9,336.1" fill="#bcd9ef" stroke="#bcd9ef" stroke-width="0.6"/>
<polygon points="746.1,312 771.9,305.9 775.2,331.2 749.4,337.3" fill="#bcd9ef" stroke="#bcd9ef" stroke-width="0.6"/>
<polygon points="797.7,299.9 823.5,293.9 826.8,319.2 801,325.2" fill="#bcd9ef" stroke="#bcd9ef" stroke-width="0.6"/>
<polygon points="804.3,350.5 830.1,344.5 833.4,369.8 807.6,375.8" fill="#bcd9ef" stroke="#bcd9ef" stroke-width="0.6"/>
<polygon points="862.5,389 888.3,383 891.6,408.3 865.8,414.3" fill="#bcd9ef" stroke="#bcd9ef" stroke-width="0.6"/>
<polygon points="762.6,438.5 788.4,432.4 791.7,457.7 765.9,463.8" fill="#bcd9ef" stroke="#bcd9ef" stroke-width="0.6"/>
<polygon points="720.3,318 746.1,312 749.4,337.3 723.6,343.3" fill="#aed3ea" stroke="#aed3ea" stroke-width="0.6"/>
<polygon points="407.4,365.2 433.2,359.2 436.5,384.5 410.7,390.5" fill="#a0cde6" stroke="#a0cde6" stroke-width="0.6"/>
<polygon points="636.3,285.5 662.1,279.5 665.4,304.8 639.6,310.8" fill="#a0cde6" stroke="#a0cde6" stroke-width="0.6"/>
<polygon points="617.1,342.2 642.9,336.1 646.2,361.4 620.4,367.5" fill="#a0cde6" stroke="#a0cde6" stroke-width="0.6"/>
<polygon points="642.9,336.1 668.7,330.1 672,355.4 646.2,361.4" fill="#a0cde6" stroke="#a0cde6" stroke-width="0.6"/>
<polygon points="697.8,349.4 723.6,343.3 726.9,368.6 701.1,374.7" fill="#a0cde6" stroke="#a0cde6" stroke-width="0.6"/>
<polygon points="771.9,305.9 797.7,299.9 801,325.2 775.2,331.2" fill="#a0cde6" stroke="#a0cde6" stroke-width="0.6"/>
<polygon points="701.1,374.7 726.9,368.6 730.2,393.9 704.4,400" fill="#8cc2e2" stroke="#8cc2e2" stroke-width="0.6"/>
<polygon points="672,355.4 697.8,349.4 701.1,374.7 675.3,380.7" fill="#79b8de" stroke="#79b8de" stroke-width="0.6"/>
<polygon points="665.4,304.8 691.2,298.8 694.5,324.1 668.7,330.1" fill="#297bbd" stroke="#297bbd" stroke-width="0.6"/>
<polygon points="694.5,324.1 720.3,318 723.6,343.3 697.8,349.4" fill="#297bbd" stroke="#297bbd" stroke-width="0.6"/>
<use href="#cont"/>
<polyline points="131.5,382.2 168.3,375.4 184.5,373.9 200.7,374.2 224.4,387.6 231.8,383.4 236.8,373.4 248,353.5 256.7,341.8 260.4,339.8 307.7,331.1 392.4,300 496.2,260.3 559.3,256.3 600,243.8 631,234.6 660,223.3 675.3,218.4 705.3,211.5 718.6,212.2 731.9,212.2 755.1,200.6 780,194.9 810.8,188.3 829.9,184.6 857.3,180.8 882.2,174.6 912,158.4 935.7,146.7 959.3,124.8 974.3,103.6 990.4,79.5" fill="none" stroke="#111" stroke-width="1.6" stroke-linejoin="round"/>
<path d="M131.3 79.5V750.5H1176.3" fill="none" stroke="#111" stroke-width="1.8"/>
<path d="M122.5 149.6H131.3M122.5 248.1H131.3M122.5 346.6H131.3M122.5 445.1H131.3M122.5 543.6H131.3M122.5 642.1H131.3M122.5 740.6H131.3M168.7 750.5V759.5M243.2 750.5V759.5M317.7 750.5V759.5M392.1 750.5V759.5M466.6 750.5V759.5M541.1 750.5V759.5M615.6 750.5V759.5M690.1 750.5V759.5M764.5 750.5V759.5M839 750.5V759.5M913.5 750.5V759.5M988 750.5V759.5M1062.5 750.5V759.5M1136.9 750.5V759.5" stroke="#111" stroke-width="1.6"/>
<text transform="translate(114,160.9) scale(0.945,1)" text-anchor="end" class="tl">41.3ºN</text>
<text transform="translate(114,259.4) scale(0.945,1)" text-anchor="end" class="tl">41.2ºN</text>
<text transform="translate(114,357.9) scale(0.945,1)" text-anchor="end" class="tl">41.1ºN</text>
<text transform="translate(114,456.4) scale(0.945,1)" text-anchor="end" class="tl">41ºN</text>
<text transform="translate(114,554.9) scale(0.945,1)" text-anchor="end" class="tl">40.9ºN</text>
<text transform="translate(114,653.4) scale(0.945,1)" text-anchor="end" class="tl">40.8ºN</text>
<text transform="translate(114,751.9) scale(0.945,1)" text-anchor="end" class="tl">40.7ºN</text>
<text transform="translate(168.7,783.3) scale(1.05,1)" text-anchor="middle" class="tl">1.1ºE</text>
<text transform="translate(317.7,783.3) scale(1.05,1)" text-anchor="middle" class="tl">1.3ºE</text>
<text transform="translate(466.6,783.3) scale(1.05,1)" text-anchor="middle" class="tl">1.5ºE</text>
<text transform="translate(615.6,783.3) scale(1.05,1)" text-anchor="middle" class="tl">1.7ºE</text>
<text transform="translate(764.5,783.3) scale(1.05,1)" text-anchor="middle" class="tl">1.9ºE</text>
<text transform="translate(839,783.3) scale(1.05,1)" text-anchor="middle" class="tl">2ºE</text>
<text transform="translate(913.5,783.3) scale(1.05,1)" text-anchor="middle" class="tl">2.1ºE</text>
<text transform="translate(1062.5,783.3) scale(1.05,1)" text-anchor="middle" class="tl">2.3ºE</text>
<text x="653" y="816.2" text-anchor="middle" class="at">Longitude</text>
<text transform="translate(34.6,413.7) rotate(-90)" text-anchor="middle" class="at2">Latitude</text>
<text x="173.5" y="136" class="pl">C</text>
<text transform="translate(853.2,101.6) scale(1.03,1)" class="pn">Barcelona</text>
<text transform="translate(536,185.5) scale(1.058,1)" class="pn">Vilanova i</text>
<text transform="translate(536.5,223.2) scale(1.08,1)" class="pn">la Geltrú</text>
<text transform="translate(192.5,318.3) scale(1.039,1)" class="pn">Tarragona</text>
<rect x="1121.9" y="246.6" width="7" height="84.4" fill="#2c7bbf"/>
<rect x="1121.9" y="330.7" width="7" height="45.4" fill="#4090cb"/>
<rect x="1121.9" y="375.8" width="7" height="39.2" fill="#5ea7d9"/>
<rect x="1121.9" y="414.7" width="7" height="39.5" fill="#88c0e4"/>
<rect x="1121.9" y="453.9" width="7" height="41.5" fill="#b3d6ef"/>
<rect x="1121.9" y="495.1" width="7" height="40.6" fill="#d4e7f7"/>
<rect x="1121.9" y="535.4" width="7" height="33.2" fill="#ebf3fc"/>
<rect x="1121.9" y="568.3" width="7" height="13.6" fill="#f7fbff"/>
<rect x="1121.9" y="246.6" width="7" height="335" fill="none" stroke="#111" stroke-width="1.5"/>
<path d="M1128.9 246.6H1138.7M1128.9 330.7H1138.7M1128.9 375.8H1138.7M1128.9 414.7H1138.7M1128.9 453.9H1138.7M1128.9 495.1H1138.7M1128.9 535.4H1138.7M1128.9 568.3H1138.7M1128.9 581.6H1138.7" stroke="#111" stroke-width="1.5"/>
<text x="1146.5" y="251.8" class="lg">6.0</text>
<text x="1146.5" y="335.9" class="lg">4.5</text>
<text x="1146.5" y="381" class="lg">3.7</text>
<text x="1146.5" y="419.9" class="lg">3.0</text>
<text x="1146.5" y="459.1" class="lg">2.3</text>
<text x="1146.5" y="500.3" class="lg">1.5</text>
<text x="1146.5" y="540.6" class="lg">0.8</text>
<text x="1146.5" y="573.5" class="lg">0.3</text>
<text x="1146.5" y="586.8" class="lg">0.0</text>
<path d="M223.2 631.3L203.1 672.6L223.2 653.1Z" fill="#fff" stroke="#000" stroke-width="1.2" stroke-linejoin="miter"/>
<path d="M223.2 631.3L245.3 673.2L223.2 653.1Z" fill="#000" stroke="#000" stroke-width="1"/>
<text x="222.8" y="679.3" text-anchor="middle" class="sn">N</text>
<rect x="183" y="708.5" width="177" height="9" fill="#fff" stroke="#000" stroke-width="1"/>
<rect x="226.6" y="708.5" width="46.2" height="9" fill="#000"/>
<rect x="315.5" y="708.5" width="44.5" height="9" fill="#000"/>
<text x="182.5" y="702.8" text-anchor="middle" class="sb">0</text>
<text x="271.8" y="702.8" text-anchor="middle" class="sb">10</text>
<text x="358.6" y="702.8" text-anchor="middle" class="sb">20</text>
<text x="271.5" y="733.3" text-anchor="middle" class="sb">km</text>
</g>
</svg></body></html>
